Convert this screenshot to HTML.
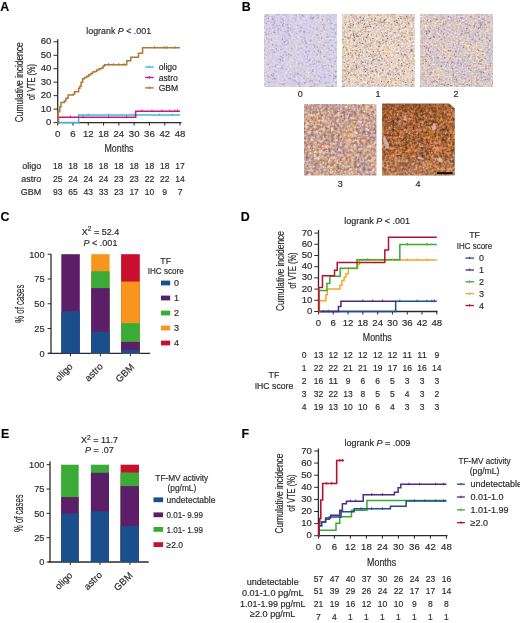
<!DOCTYPE html>
<html><head><meta charset="utf-8"><style>
html,body{margin:0;padding:0;background:#fff;}
svg{display:block;font-family:"Liberation Sans",sans-serif;will-change:transform;}
text{stroke:#2c2c2c;stroke-width:0.18px;}
</style></head><body>
<svg width="520" height="623" viewBox="0 0 520 623">
<defs><filter id="soft" x="-2%" y="-2%" width="104%" height="104%"><feGaussianBlur stdDeviation="0.4"/></filter><linearGradient id="botlight" x1="0" y1="0" x2="0" y2="1"><stop offset="0" stop-color="#e8c8b8" stop-opacity="0"/><stop offset="1" stop-color="#e8c8b8" stop-opacity="0.22"/></linearGradient><linearGradient id="topdark" x1="0" y1="0" x2="0" y2="1"><stop offset="0" stop-color="#6a3010" stop-opacity="0.35"/><stop offset="1" stop-color="#6a3010" stop-opacity="0"/></linearGradient><clipPath id="clip0"><rect x="264" y="14" width="73" height="73"/></clipPath><filter id="tf0" x="264" y="14" width="73" height="73" filterUnits="userSpaceOnUse" color-interpolation-filters="sRGB"><feTurbulence type="fractalNoise" baseFrequency="0.07" numOctaves="2" seed="3" result="lo"/><feColorMatrix in="lo" type="matrix" values="-0.045 -0.000 0 0 0.866 -0.020 -0.000 0 0 0.830 0.045 -0.000 0 0 0.876 0 0 0 0 1" result="A"/><feTurbulence type="fractalNoise" baseFrequency="0.5" numOctaves="2" seed="13" result="hi"/><feColorMatrix in="hi" type="matrix" values="-0.198 -0.045 0 0 0.621 -0.219 -0.020 0 0 0.619 -0.148 0.045 0 0 0.552 0 0 0 0 1" result="B"/><feComposite in="A" in2="B" operator="arithmetic" k1="0" k2="1" k3="1" k4="-0.5" result="C"/><feGaussianBlur in="C" stdDeviation="0.35"/></filter><clipPath id="clip1"><rect x="342" y="14" width="72.8" height="73"/></clipPath><filter id="tf1" x="342" y="14" width="72.8" height="73" filterUnits="userSpaceOnUse" color-interpolation-filters="sRGB"><feTurbulence type="fractalNoise" baseFrequency="0.07" numOctaves="2" seed="4" result="lo"/><feColorMatrix in="lo" type="matrix" values="-0.068 -0.000 0 0 0.936 -0.030 -0.000 0 0 0.846 0.068 -0.000 0 0 0.751 0 0 0 0 1" result="A"/><feTurbulence type="fractalNoise" baseFrequency="0.55" numOctaves="2" seed="14" result="hi"/><feColorMatrix in="hi" type="matrix" values="-0.264 -0.090 0 0 0.677 -0.367 -0.040 0 0 0.704 -0.433 0.090 0 0 0.671 0 0 0 0 1" result="B"/><feComposite in="A" in2="B" operator="arithmetic" k1="0" k2="1" k3="1" k4="-0.5" result="C"/><feGaussianBlur in="C" stdDeviation="0.35"/></filter><clipPath id="clip2"><rect x="420" y="14" width="73" height="73"/></clipPath><filter id="tf2" x="420" y="14" width="73" height="73" filterUnits="userSpaceOnUse" color-interpolation-filters="sRGB"><feTurbulence type="fractalNoise" baseFrequency="0.07" numOctaves="2" seed="5" result="lo"/><feColorMatrix in="lo" type="matrix" values="-0.135 -0.000 0 0 0.922 -0.060 -0.000 0 0 0.822 0.135 -0.000 0 0 0.717 0 0 0 0 1" result="A"/><feTurbulence type="fractalNoise" baseFrequency="0.55" numOctaves="2" seed="15" result="hi"/><feColorMatrix in="hi" type="matrix" values="-0.357 -0.180 0 0 0.768 -0.357 -0.080 0 0 0.718 -0.214 0.180 0 0 0.517 0 0 0 0 1" result="B"/><feComposite in="A" in2="B" operator="arithmetic" k1="0" k2="1" k3="1" k4="-0.5" result="C"/><feGaussianBlur in="C" stdDeviation="0.35"/></filter><clipPath id="clip3"><rect x="304" y="104" width="72.5" height="71.5"/></clipPath><filter id="tf3" x="304" y="104" width="72.5" height="71.5" filterUnits="userSpaceOnUse" color-interpolation-filters="sRGB"><feTurbulence type="fractalNoise" baseFrequency="0.07" numOctaves="2" seed="6" result="lo"/><feColorMatrix in="lo" type="matrix" values="-0.180 -0.118 0 0 0.933 -0.080 -0.095 0 0 0.723 0.180 -0.086 0 0 0.525 0 0 0 0 1" result="A"/><feTurbulence type="fractalNoise" baseFrequency="0.35" numOctaves="2" seed="16" result="hi"/><feColorMatrix in="hi" type="matrix" values="-0.450 -0.203 0 0 0.826 -0.615 -0.090 0 0 0.852 -0.670 0.203 0 0 0.734 0 0 0 0 1" result="B"/><feComposite in="A" in2="B" operator="arithmetic" k1="0" k2="1" k3="1" k4="-0.5" result="C"/><feGaussianBlur in="C" stdDeviation="0.35"/></filter><clipPath id="clip4"><polygon points="382,103.5 449.3,103.5 454.8,108.5 454.8,175.5 382,175.5"/></clipPath><filter id="tf4" x="382" y="103.5" width="72.8" height="72" filterUnits="userSpaceOnUse" color-interpolation-filters="sRGB"><feTurbulence type="fractalNoise" baseFrequency="0.07" numOctaves="2" seed="7" result="lo"/><feColorMatrix in="lo" type="matrix" values="-0.113 -0.395 0 0 0.913 -0.050 -0.240 0 0 0.545 0.113 -0.136 0 0 0.239 0 0 0 0 1" result="A"/><feTurbulence type="fractalNoise" baseFrequency="0.38" numOctaves="2" seed="17" result="hi"/><feColorMatrix in="hi" type="matrix" values="-0.627 -0.158 0 0 0.892 -0.667 -0.070 0 0 0.868 -0.613 0.158 0 0 0.728 0 0 0 0 1" result="B"/><feComposite in="A" in2="B" operator="arithmetic" k1="0" k2="1" k3="1" k4="-0.5" result="C"/><feGaussianBlur in="C" stdDeviation="0.35"/></filter></defs>
<rect width="520" height="623" fill="#fff"/>
<text x="0.3" y="10.6" font-size="12.4" font-weight="bold" fill="#000">A</text>
<text x="86.3" y="33.8" font-size="9" fill="#2c2c2c" textLength="64.8" lengthAdjust="spacingAndGlyphs">logrank <tspan font-style="italic">P</tspan> &lt; .001</text>
<line x1="57.70" y1="39.20" x2="57.70" y2="122.60" stroke="#2a2a2a" stroke-width="1.3"/>
<line x1="53.50" y1="122.60" x2="57.70" y2="122.60" stroke="#2a2a2a" stroke-width="1.0"/>
<text x="51.30" y="125.19" font-size="9.6" text-anchor="end" fill="#2c2c2c" font-weight="normal" >0</text>
<line x1="53.50" y1="109.13" x2="57.70" y2="109.13" stroke="#2a2a2a" stroke-width="1.0"/>
<text x="51.30" y="111.72" font-size="9.6" text-anchor="end" fill="#2c2c2c" font-weight="normal" >10</text>
<line x1="53.50" y1="95.67" x2="57.70" y2="95.67" stroke="#2a2a2a" stroke-width="1.0"/>
<text x="51.30" y="98.26" font-size="9.6" text-anchor="end" fill="#2c2c2c" font-weight="normal" >20</text>
<line x1="53.50" y1="82.20" x2="57.70" y2="82.20" stroke="#2a2a2a" stroke-width="1.0"/>
<text x="51.30" y="84.79" font-size="9.6" text-anchor="end" fill="#2c2c2c" font-weight="normal" >30</text>
<line x1="53.50" y1="68.73" x2="57.70" y2="68.73" stroke="#2a2a2a" stroke-width="1.0"/>
<text x="51.30" y="71.32" font-size="9.6" text-anchor="end" fill="#2c2c2c" font-weight="normal" >40</text>
<line x1="53.50" y1="55.27" x2="57.70" y2="55.27" stroke="#2a2a2a" stroke-width="1.0"/>
<text x="51.30" y="57.86" font-size="9.6" text-anchor="end" fill="#2c2c2c" font-weight="normal" >50</text>
<line x1="53.50" y1="41.80" x2="57.70" y2="41.80" stroke="#2a2a2a" stroke-width="1.0"/>
<text x="51.30" y="44.39" font-size="9.6" text-anchor="end" fill="#2c2c2c" font-weight="normal" >60</text>
<line x1="57.70" y1="122.60" x2="181.50" y2="122.60" stroke="#2a2a2a" stroke-width="1.3"/>
<line x1="57.70" y1="122.60" x2="57.70" y2="125.60" stroke="#2a2a2a" stroke-width="1.0"/>
<text x="57.70" y="137.20" font-size="9.6" text-anchor="middle" fill="#2c2c2c" font-weight="normal" >0</text>
<line x1="72.99" y1="122.60" x2="72.99" y2="125.60" stroke="#2a2a2a" stroke-width="1.0"/>
<text x="72.99" y="137.20" font-size="9.6" text-anchor="middle" fill="#2c2c2c" font-weight="normal" >6</text>
<line x1="88.28" y1="122.60" x2="88.28" y2="125.60" stroke="#2a2a2a" stroke-width="1.0"/>
<text x="88.28" y="137.20" font-size="9.6" text-anchor="middle" fill="#2c2c2c" font-weight="normal" >12</text>
<line x1="103.56" y1="122.60" x2="103.56" y2="125.60" stroke="#2a2a2a" stroke-width="1.0"/>
<text x="103.56" y="137.20" font-size="9.6" text-anchor="middle" fill="#2c2c2c" font-weight="normal" >18</text>
<line x1="118.85" y1="122.60" x2="118.85" y2="125.60" stroke="#2a2a2a" stroke-width="1.0"/>
<text x="118.85" y="137.20" font-size="9.6" text-anchor="middle" fill="#2c2c2c" font-weight="normal" >24</text>
<line x1="134.14" y1="122.60" x2="134.14" y2="125.60" stroke="#2a2a2a" stroke-width="1.0"/>
<text x="134.14" y="137.20" font-size="9.6" text-anchor="middle" fill="#2c2c2c" font-weight="normal" >30</text>
<line x1="149.43" y1="122.60" x2="149.43" y2="125.60" stroke="#2a2a2a" stroke-width="1.0"/>
<text x="149.43" y="137.20" font-size="9.6" text-anchor="middle" fill="#2c2c2c" font-weight="normal" >36</text>
<line x1="164.72" y1="122.60" x2="164.72" y2="125.60" stroke="#2a2a2a" stroke-width="1.0"/>
<text x="164.72" y="137.20" font-size="9.6" text-anchor="middle" fill="#2c2c2c" font-weight="normal" >42</text>
<line x1="180.00" y1="122.60" x2="180.00" y2="125.60" stroke="#2a2a2a" stroke-width="1.0"/>
<text x="180.00" y="137.20" font-size="9.6" text-anchor="middle" fill="#2c2c2c" font-weight="normal" >48</text>
<text transform="translate(23.00,82.30) rotate(-90)" x="0" y="0" font-size="10" text-anchor="middle" fill="#2c2c2c" textLength="80" lengthAdjust="spacingAndGlyphs">Cumulative incidence</text>
<text transform="translate(35.00,82.00) rotate(-90)" x="0" y="0" font-size="10" text-anchor="middle" fill="#2c2c2c" textLength="36" lengthAdjust="spacingAndGlyphs">of VTE (%)</text>
<text x="119.00" y="151.50" font-size="10.5" text-anchor="middle" fill="#2c2c2c" font-weight="normal" textLength="29" lengthAdjust="spacingAndGlyphs" >Months</text>
<path d="M57.70,122.60 H78.59 V115.06 H180.00" fill="none" stroke="#41b6e6" stroke-width="1.5" stroke-linejoin="miter"/>
<path d="M57.70,122.60 H58.46 V117.21 H135.67 V111.15 H180.00" fill="none" stroke="#c81a7e" stroke-width="1.5" stroke-linejoin="miter"/>
<path d="M57.70,122.60 H58.08 V111.83 H59.74 V107.11 H61.01 V102.40 H64.32 V101.05 H65.85 V98.36 H68.15 V94.99 H73.24 V94.32 H74.52 V91.63 H78.59 V88.26 H79.87 V86.24 H81.14 V82.20 H82.67 V78.83 H84.45 V77.49 H86.75 V76.14 H88.79 V74.79 H90.82 V73.45 H92.61 V72.10 H94.65 V71.43 H96.68 V70.08 H98.98 V68.73 H101.27 V68.06 H103.05 V66.04 H104.58 V64.69 H126.75 V60.79 H130.83 V57.15 H138.47 V53.24 H142.55 V47.72 H180.00" fill="none" stroke="#b07830" stroke-width="1.5" stroke-linejoin="miter"/>
<line x1="108.66" y1="63.09" x2="108.66" y2="65.69" stroke="#b07830" stroke-width="1.0"/>
<line x1="113.76" y1="63.09" x2="113.76" y2="65.69" stroke="#b07830" stroke-width="1.0"/>
<line x1="118.85" y1="63.09" x2="118.85" y2="65.69" stroke="#b07830" stroke-width="1.0"/>
<line x1="123.95" y1="63.09" x2="123.95" y2="65.69" stroke="#b07830" stroke-width="1.0"/>
<line x1="154.52" y1="46.12" x2="154.52" y2="48.72" stroke="#b07830" stroke-width="1.0"/>
<line x1="164.21" y1="46.12" x2="164.21" y2="48.72" stroke="#b07830" stroke-width="1.0"/>
<line x1="167.01" y1="46.12" x2="167.01" y2="48.72" stroke="#b07830" stroke-width="1.0"/>
<line x1="174.91" y1="46.12" x2="174.91" y2="48.72" stroke="#b07830" stroke-width="1.0"/>
<line x1="70.44" y1="115.61" x2="70.44" y2="118.21" stroke="#c81a7e" stroke-width="1.0"/>
<line x1="83.18" y1="115.61" x2="83.18" y2="118.21" stroke="#c81a7e" stroke-width="1.0"/>
<line x1="108.66" y1="115.61" x2="108.66" y2="118.21" stroke="#c81a7e" stroke-width="1.0"/>
<line x1="126.50" y1="115.61" x2="126.50" y2="118.21" stroke="#c81a7e" stroke-width="1.0"/>
<line x1="141.78" y1="109.55" x2="141.78" y2="112.15" stroke="#c81a7e" stroke-width="1.0"/>
<line x1="151.98" y1="109.55" x2="151.98" y2="112.15" stroke="#c81a7e" stroke-width="1.0"/>
<line x1="162.17" y1="109.55" x2="162.17" y2="112.15" stroke="#c81a7e" stroke-width="1.0"/>
<line x1="169.81" y1="109.55" x2="169.81" y2="112.15" stroke="#c81a7e" stroke-width="1.0"/>
<line x1="174.91" y1="109.55" x2="174.91" y2="112.15" stroke="#c81a7e" stroke-width="1.0"/>
<line x1="177.46" y1="109.55" x2="177.46" y2="112.15" stroke="#c81a7e" stroke-width="1.0"/>
<line x1="88.28" y1="113.46" x2="88.28" y2="116.06" stroke="#41b6e6" stroke-width="1.0"/>
<line x1="108.66" y1="113.46" x2="108.66" y2="116.06" stroke="#41b6e6" stroke-width="1.0"/>
<line x1="134.14" y1="113.46" x2="134.14" y2="116.06" stroke="#41b6e6" stroke-width="1.0"/>
<line x1="159.62" y1="113.46" x2="159.62" y2="116.06" stroke="#41b6e6" stroke-width="1.0"/>
<line x1="172.36" y1="113.46" x2="172.36" y2="116.06" stroke="#41b6e6" stroke-width="1.0"/>
<line x1="145.20" y1="67.10" x2="153.70" y2="67.10" stroke="#41b6e6" stroke-width="1.4"/>
<line x1="149.40" y1="65.60" x2="149.40" y2="68.10" stroke="#41b6e6" stroke-width="1.0"/>
<text x="158.70" y="70.10" font-size="8.6" text-anchor="start" fill="#2c2c2c" font-weight="normal" >oligo</text>
<line x1="145.20" y1="77.50" x2="153.70" y2="77.50" stroke="#c81a7e" stroke-width="1.4"/>
<line x1="149.40" y1="76.00" x2="149.40" y2="78.50" stroke="#c81a7e" stroke-width="1.0"/>
<text x="158.70" y="80.50" font-size="8.6" text-anchor="start" fill="#2c2c2c" font-weight="normal" >astro</text>
<line x1="145.20" y1="87.90" x2="153.70" y2="87.90" stroke="#b07830" stroke-width="1.4"/>
<line x1="149.40" y1="86.40" x2="149.40" y2="88.90" stroke="#b07830" stroke-width="1.0"/>
<text x="158.70" y="90.90" font-size="8.6" text-anchor="start" fill="#2c2c2c" font-weight="normal" >GBM</text>
<text x="41.30" y="168.80" font-size="9" text-anchor="end" fill="#2c2c2c" font-weight="normal" >oligo</text>
<text x="57.70" y="168.80" font-size="9.4" text-anchor="middle" fill="#2c2c2c" font-weight="normal" textLength="9.5" lengthAdjust="spacingAndGlyphs" >18</text>
<text x="72.99" y="168.80" font-size="9.4" text-anchor="middle" fill="#2c2c2c" font-weight="normal" textLength="9.5" lengthAdjust="spacingAndGlyphs" >18</text>
<text x="88.28" y="168.80" font-size="9.4" text-anchor="middle" fill="#2c2c2c" font-weight="normal" textLength="9.5" lengthAdjust="spacingAndGlyphs" >18</text>
<text x="103.56" y="168.80" font-size="9.4" text-anchor="middle" fill="#2c2c2c" font-weight="normal" textLength="9.5" lengthAdjust="spacingAndGlyphs" >18</text>
<text x="118.85" y="168.80" font-size="9.4" text-anchor="middle" fill="#2c2c2c" font-weight="normal" textLength="9.5" lengthAdjust="spacingAndGlyphs" >18</text>
<text x="134.14" y="168.80" font-size="9.4" text-anchor="middle" fill="#2c2c2c" font-weight="normal" textLength="9.5" lengthAdjust="spacingAndGlyphs" >18</text>
<text x="149.43" y="168.80" font-size="9.4" text-anchor="middle" fill="#2c2c2c" font-weight="normal" textLength="9.5" lengthAdjust="spacingAndGlyphs" >18</text>
<text x="164.72" y="168.80" font-size="9.4" text-anchor="middle" fill="#2c2c2c" font-weight="normal" textLength="9.5" lengthAdjust="spacingAndGlyphs" >18</text>
<text x="180.00" y="168.80" font-size="9.4" text-anchor="middle" fill="#2c2c2c" font-weight="normal" textLength="9.5" lengthAdjust="spacingAndGlyphs" >17</text>
<text x="41.30" y="181.65" font-size="9" text-anchor="end" fill="#2c2c2c" font-weight="normal" >astro</text>
<text x="57.70" y="181.65" font-size="9.4" text-anchor="middle" fill="#2c2c2c" font-weight="normal" textLength="9.5" lengthAdjust="spacingAndGlyphs" >25</text>
<text x="72.99" y="181.65" font-size="9.4" text-anchor="middle" fill="#2c2c2c" font-weight="normal" textLength="9.5" lengthAdjust="spacingAndGlyphs" >24</text>
<text x="88.28" y="181.65" font-size="9.4" text-anchor="middle" fill="#2c2c2c" font-weight="normal" textLength="9.5" lengthAdjust="spacingAndGlyphs" >24</text>
<text x="103.56" y="181.65" font-size="9.4" text-anchor="middle" fill="#2c2c2c" font-weight="normal" textLength="9.5" lengthAdjust="spacingAndGlyphs" >24</text>
<text x="118.85" y="181.65" font-size="9.4" text-anchor="middle" fill="#2c2c2c" font-weight="normal" textLength="9.5" lengthAdjust="spacingAndGlyphs" >23</text>
<text x="134.14" y="181.65" font-size="9.4" text-anchor="middle" fill="#2c2c2c" font-weight="normal" textLength="9.5" lengthAdjust="spacingAndGlyphs" >23</text>
<text x="149.43" y="181.65" font-size="9.4" text-anchor="middle" fill="#2c2c2c" font-weight="normal" textLength="9.5" lengthAdjust="spacingAndGlyphs" >22</text>
<text x="164.72" y="181.65" font-size="9.4" text-anchor="middle" fill="#2c2c2c" font-weight="normal" textLength="9.5" lengthAdjust="spacingAndGlyphs" >22</text>
<text x="180.00" y="181.65" font-size="9.4" text-anchor="middle" fill="#2c2c2c" font-weight="normal" textLength="9.5" lengthAdjust="spacingAndGlyphs" >14</text>
<text x="41.30" y="194.50" font-size="9" text-anchor="end" fill="#2c2c2c" font-weight="normal" >GBM</text>
<text x="57.70" y="194.50" font-size="9.4" text-anchor="middle" fill="#2c2c2c" font-weight="normal" textLength="9.5" lengthAdjust="spacingAndGlyphs" >93</text>
<text x="72.99" y="194.50" font-size="9.4" text-anchor="middle" fill="#2c2c2c" font-weight="normal" textLength="9.5" lengthAdjust="spacingAndGlyphs" >65</text>
<text x="88.28" y="194.50" font-size="9.4" text-anchor="middle" fill="#2c2c2c" font-weight="normal" textLength="9.5" lengthAdjust="spacingAndGlyphs" >43</text>
<text x="103.56" y="194.50" font-size="9.4" text-anchor="middle" fill="#2c2c2c" font-weight="normal" textLength="9.5" lengthAdjust="spacingAndGlyphs" >33</text>
<text x="118.85" y="194.50" font-size="9.4" text-anchor="middle" fill="#2c2c2c" font-weight="normal" textLength="9.5" lengthAdjust="spacingAndGlyphs" >23</text>
<text x="134.14" y="194.50" font-size="9.4" text-anchor="middle" fill="#2c2c2c" font-weight="normal" textLength="9.5" lengthAdjust="spacingAndGlyphs" >17</text>
<text x="149.43" y="194.50" font-size="9.4" text-anchor="middle" fill="#2c2c2c" font-weight="normal" textLength="9.5" lengthAdjust="spacingAndGlyphs" >10</text>
<text x="164.72" y="194.50" font-size="9.4" text-anchor="middle" fill="#2c2c2c" font-weight="normal" textLength="4.75" lengthAdjust="spacingAndGlyphs" >9</text>
<text x="180.00" y="194.50" font-size="9.4" text-anchor="middle" fill="#2c2c2c" font-weight="normal" textLength="4.75" lengthAdjust="spacingAndGlyphs" >7</text>
<text x="241.8" y="10.6" font-size="12.4" font-weight="bold" fill="#000">B</text>
<g clip-path="url(#clip0)"><g filter="url(#soft)"><rect x="264" y="14" width="73" height="73" fill="#fff" filter="url(#tf0)"/><g fill="#958ab6" opacity="0.85"><circle cx="287.6" cy="25.0" r="0.71"/><circle cx="269.3" cy="53.1" r="0.60"/><circle cx="268.2" cy="51.0" r="0.46"/><circle cx="295.7" cy="19.1" r="0.49"/><circle cx="295.0" cy="74.4" r="0.50"/><circle cx="280.3" cy="59.8" r="0.83"/><circle cx="306.1" cy="43.0" r="0.84"/><circle cx="267.4" cy="76.7" r="0.57"/><circle cx="274.5" cy="22.6" r="0.57"/><circle cx="323.6" cy="27.2" r="0.68"/><circle cx="310.6" cy="41.2" r="0.67"/><circle cx="268.6" cy="18.4" r="0.53"/><circle cx="313.7" cy="45.2" r="0.58"/><circle cx="306.7" cy="47.1" r="0.57"/><circle cx="322.0" cy="65.0" r="0.55"/><circle cx="305.9" cy="52.3" r="0.80"/><circle cx="317.2" cy="35.0" r="0.84"/><circle cx="272.6" cy="44.5" r="0.75"/><circle cx="275.1" cy="49.7" r="0.47"/><circle cx="312.8" cy="69.8" r="0.68"/><circle cx="327.9" cy="36.9" r="0.73"/><circle cx="307.4" cy="56.3" r="0.63"/><circle cx="325.3" cy="83.0" r="0.64"/><circle cx="312.5" cy="18.4" r="0.73"/><circle cx="311.2" cy="86.5" r="0.78"/><circle cx="284.8" cy="42.2" r="0.72"/><circle cx="265.6" cy="47.7" r="0.52"/><circle cx="272.5" cy="18.3" r="0.76"/><circle cx="273.4" cy="32.1" r="0.61"/><circle cx="327.6" cy="19.9" r="0.63"/><circle cx="304.1" cy="78.5" r="0.78"/><circle cx="327.1" cy="34.3" r="0.62"/><circle cx="290.2" cy="78.5" r="0.83"/><circle cx="275.0" cy="26.9" r="0.54"/><circle cx="281.0" cy="49.4" r="0.69"/><circle cx="283.2" cy="14.3" r="0.62"/><circle cx="291.0" cy="55.3" r="0.83"/><circle cx="314.4" cy="51.6" r="0.70"/><circle cx="313.4" cy="17.9" r="0.81"/><circle cx="320.9" cy="77.8" r="0.77"/><circle cx="292.6" cy="43.1" r="0.49"/><circle cx="310.3" cy="18.5" r="0.48"/><circle cx="279.2" cy="25.8" r="0.59"/><circle cx="267.8" cy="14.0" r="0.51"/><circle cx="271.4" cy="40.5" r="0.46"/><circle cx="327.8" cy="58.8" r="0.51"/><circle cx="282.4" cy="39.4" r="0.60"/><circle cx="273.0" cy="76.0" r="0.85"/><circle cx="298.0" cy="49.3" r="0.48"/><circle cx="271.5" cy="39.0" r="0.56"/><circle cx="324.5" cy="25.8" r="0.46"/><circle cx="333.4" cy="52.6" r="0.51"/><circle cx="303.7" cy="16.0" r="0.66"/><circle cx="335.4" cy="77.0" r="0.73"/><circle cx="283.1" cy="40.8" r="0.52"/><circle cx="320.4" cy="52.9" r="0.76"/><circle cx="288.1" cy="30.3" r="0.77"/><circle cx="335.9" cy="76.2" r="0.77"/><circle cx="323.7" cy="68.0" r="0.54"/><circle cx="301.8" cy="40.0" r="0.46"/><circle cx="266.0" cy="34.4" r="0.55"/><circle cx="314.6" cy="83.8" r="0.63"/><circle cx="332.4" cy="86.1" r="0.83"/><circle cx="290.6" cy="30.1" r="0.54"/><circle cx="278.4" cy="28.9" r="0.70"/><circle cx="329.7" cy="75.4" r="0.64"/><circle cx="311.7" cy="72.4" r="0.48"/><circle cx="312.2" cy="80.4" r="0.76"/><circle cx="318.8" cy="48.9" r="0.52"/><circle cx="321.6" cy="38.3" r="0.77"/><circle cx="334.9" cy="42.9" r="0.61"/><circle cx="333.1" cy="66.9" r="0.52"/><circle cx="273.3" cy="25.0" r="0.81"/><circle cx="322.9" cy="24.7" r="0.78"/><circle cx="335.6" cy="62.0" r="0.59"/><circle cx="304.1" cy="23.6" r="0.46"/><circle cx="334.9" cy="61.4" r="0.66"/><circle cx="332.2" cy="45.7" r="0.80"/><circle cx="324.3" cy="29.4" r="0.55"/><circle cx="285.4" cy="31.6" r="0.68"/><circle cx="282.9" cy="44.6" r="0.50"/><circle cx="330.4" cy="39.8" r="0.63"/><circle cx="306.6" cy="80.0" r="0.62"/><circle cx="331.0" cy="50.6" r="0.66"/><circle cx="302.2" cy="15.4" r="0.63"/><circle cx="277.4" cy="14.3" r="0.77"/><circle cx="276.6" cy="48.6" r="0.74"/><circle cx="304.6" cy="37.8" r="0.66"/><circle cx="304.5" cy="71.3" r="0.49"/><circle cx="304.9" cy="32.1" r="0.56"/><circle cx="320.4" cy="51.1" r="0.67"/><circle cx="319.5" cy="80.6" r="0.63"/><circle cx="308.7" cy="50.9" r="0.65"/><circle cx="314.6" cy="47.0" r="0.66"/><circle cx="298.9" cy="82.7" r="0.73"/><circle cx="328.0" cy="82.8" r="0.55"/><circle cx="304.8" cy="82.9" r="0.79"/><circle cx="274.0" cy="22.9" r="0.63"/><circle cx="269.3" cy="31.6" r="0.48"/><circle cx="312.9" cy="71.2" r="0.81"/><circle cx="275.3" cy="66.3" r="0.71"/><circle cx="274.4" cy="78.4" r="0.84"/><circle cx="280.0" cy="83.5" r="0.61"/><circle cx="299.6" cy="86.3" r="0.78"/><circle cx="275.8" cy="45.5" r="0.66"/><circle cx="288.8" cy="28.3" r="0.58"/><circle cx="316.7" cy="15.4" r="0.67"/><circle cx="296.2" cy="15.3" r="0.58"/><circle cx="309.5" cy="51.4" r="0.48"/><circle cx="335.9" cy="71.6" r="0.84"/><circle cx="271.6" cy="33.4" r="0.47"/><circle cx="320.9" cy="33.7" r="0.50"/><circle cx="294.8" cy="80.5" r="0.78"/><circle cx="282.9" cy="24.9" r="0.82"/><circle cx="305.7" cy="65.1" r="0.49"/><circle cx="268.2" cy="64.2" r="0.62"/><circle cx="269.3" cy="82.5" r="0.70"/><circle cx="322.5" cy="20.1" r="0.79"/><circle cx="268.9" cy="77.0" r="0.63"/><circle cx="288.8" cy="54.4" r="0.82"/><circle cx="283.6" cy="23.4" r="0.66"/><circle cx="281.4" cy="22.0" r="0.51"/><circle cx="267.7" cy="28.7" r="0.57"/><circle cx="286.3" cy="69.4" r="0.57"/><circle cx="300.5" cy="27.0" r="0.59"/><circle cx="265.3" cy="32.3" r="0.46"/><circle cx="317.5" cy="54.2" r="0.53"/><circle cx="298.7" cy="82.2" r="0.49"/><circle cx="323.8" cy="45.5" r="0.65"/><circle cx="324.9" cy="42.7" r="0.65"/><circle cx="314.2" cy="85.7" r="0.59"/><circle cx="324.8" cy="65.6" r="0.70"/><circle cx="293.5" cy="39.4" r="0.47"/><circle cx="273.5" cy="19.2" r="0.75"/><circle cx="282.7" cy="25.9" r="0.48"/><circle cx="325.4" cy="77.5" r="0.72"/><circle cx="284.6" cy="31.7" r="0.57"/><circle cx="297.5" cy="25.5" r="0.63"/><circle cx="283.2" cy="84.2" r="0.84"/><circle cx="303.9" cy="31.8" r="0.84"/><circle cx="286.6" cy="40.0" r="0.45"/><circle cx="291.9" cy="48.6" r="0.65"/><circle cx="278.7" cy="50.8" r="0.45"/><circle cx="283.3" cy="20.6" r="0.61"/><circle cx="267.0" cy="15.6" r="0.57"/><circle cx="281.0" cy="56.7" r="0.66"/><circle cx="318.8" cy="62.0" r="0.74"/><circle cx="328.2" cy="42.4" r="0.58"/><circle cx="335.9" cy="24.9" r="0.74"/><circle cx="311.0" cy="17.2" r="0.78"/><circle cx="329.1" cy="59.8" r="0.74"/><circle cx="323.3" cy="24.2" r="0.66"/><circle cx="300.8" cy="75.0" r="0.77"/><circle cx="324.3" cy="56.6" r="0.81"/><circle cx="313.9" cy="64.6" r="0.54"/><circle cx="266.3" cy="23.7" r="0.59"/><circle cx="271.7" cy="75.0" r="0.67"/><circle cx="309.8" cy="59.7" r="0.72"/><circle cx="299.7" cy="14.2" r="0.77"/><circle cx="318.6" cy="50.7" r="0.66"/><circle cx="312.1" cy="18.8" r="0.74"/><circle cx="282.4" cy="19.4" r="0.56"/><circle cx="317.2" cy="29.0" r="0.75"/><circle cx="335.2" cy="50.1" r="0.60"/><circle cx="299.0" cy="63.9" r="0.76"/><circle cx="309.0" cy="60.9" r="0.48"/><circle cx="274.8" cy="32.5" r="0.75"/><circle cx="286.2" cy="55.4" r="0.45"/><circle cx="268.4" cy="33.6" r="0.72"/><circle cx="314.5" cy="63.3" r="0.57"/><circle cx="301.7" cy="47.9" r="0.64"/><circle cx="272.7" cy="79.2" r="0.53"/><circle cx="335.4" cy="82.3" r="0.46"/><circle cx="297.5" cy="73.9" r="0.84"/><circle cx="296.8" cy="33.6" r="0.53"/><circle cx="333.0" cy="29.4" r="0.68"/><circle cx="274.3" cy="52.3" r="0.83"/><circle cx="273.7" cy="73.9" r="0.65"/><circle cx="328.7" cy="65.3" r="0.54"/><circle cx="329.5" cy="49.5" r="0.46"/><circle cx="264.3" cy="49.9" r="0.63"/><circle cx="286.0" cy="24.3" r="0.59"/><circle cx="287.1" cy="75.3" r="0.45"/><circle cx="318.8" cy="75.3" r="0.50"/><circle cx="331.6" cy="66.1" r="0.81"/><circle cx="285.2" cy="41.2" r="0.61"/><circle cx="336.9" cy="57.0" r="0.59"/><circle cx="295.2" cy="34.1" r="0.47"/><circle cx="271.4" cy="74.9" r="0.56"/><circle cx="332.3" cy="32.2" r="0.56"/><circle cx="301.3" cy="27.9" r="0.60"/><circle cx="333.8" cy="78.6" r="0.77"/><circle cx="310.1" cy="80.7" r="0.83"/><circle cx="304.1" cy="66.5" r="0.47"/><circle cx="317.5" cy="46.9" r="0.75"/><circle cx="311.0" cy="34.9" r="0.47"/><circle cx="331.7" cy="23.3" r="0.64"/><circle cx="289.1" cy="35.7" r="0.75"/><circle cx="335.3" cy="33.0" r="0.71"/><circle cx="286.0" cy="54.7" r="0.61"/></g><g fill="#bcb2d2" opacity="0.85"><circle cx="276.2" cy="25.8" r="0.60"/><circle cx="330.1" cy="50.3" r="0.61"/><circle cx="330.2" cy="86.7" r="0.72"/><circle cx="274.2" cy="28.0" r="0.55"/><circle cx="289.0" cy="20.6" r="0.62"/><circle cx="282.9" cy="55.6" r="0.94"/><circle cx="318.7" cy="44.1" r="0.71"/><circle cx="302.3" cy="41.5" r="0.67"/><circle cx="268.5" cy="34.3" r="0.98"/><circle cx="273.2" cy="50.7" r="0.81"/><circle cx="327.0" cy="29.8" r="0.64"/><circle cx="282.1" cy="43.2" r="0.72"/><circle cx="333.6" cy="76.0" r="0.94"/><circle cx="265.6" cy="16.4" r="0.85"/><circle cx="329.4" cy="48.5" r="0.79"/><circle cx="264.0" cy="42.6" r="0.96"/><circle cx="324.3" cy="76.4" r="0.99"/><circle cx="282.1" cy="22.0" r="0.58"/><circle cx="302.1" cy="63.8" r="0.97"/><circle cx="316.7" cy="61.3" r="0.88"/><circle cx="297.4" cy="54.3" r="0.52"/><circle cx="321.1" cy="31.0" r="0.96"/><circle cx="311.1" cy="36.2" r="0.56"/><circle cx="282.4" cy="60.4" r="0.85"/><circle cx="272.2" cy="19.1" r="0.76"/><circle cx="306.6" cy="42.3" r="0.61"/><circle cx="307.9" cy="14.8" r="0.65"/><circle cx="297.6" cy="84.0" r="0.82"/><circle cx="328.5" cy="48.7" r="0.62"/><circle cx="282.0" cy="84.1" r="0.85"/><circle cx="286.4" cy="15.6" r="0.75"/><circle cx="313.2" cy="44.7" r="0.63"/><circle cx="312.7" cy="81.5" r="0.61"/><circle cx="266.5" cy="38.7" r="0.71"/><circle cx="313.8" cy="28.5" r="0.90"/><circle cx="318.0" cy="50.9" r="0.60"/><circle cx="334.8" cy="36.8" r="0.91"/><circle cx="280.8" cy="30.2" r="0.88"/><circle cx="285.5" cy="83.5" r="0.75"/><circle cx="277.7" cy="30.3" r="0.71"/><circle cx="312.6" cy="83.3" r="0.57"/><circle cx="292.7" cy="29.5" r="0.99"/><circle cx="274.4" cy="17.8" r="0.53"/><circle cx="292.7" cy="79.6" r="0.94"/><circle cx="317.5" cy="86.8" r="0.97"/><circle cx="288.0" cy="27.5" r="0.97"/><circle cx="318.5" cy="16.3" r="0.83"/><circle cx="291.6" cy="41.3" r="0.67"/><circle cx="276.4" cy="14.2" r="0.64"/><circle cx="289.7" cy="83.8" r="0.56"/><circle cx="334.4" cy="29.1" r="0.68"/><circle cx="324.0" cy="74.0" r="0.72"/><circle cx="267.6" cy="48.6" r="0.69"/><circle cx="331.1" cy="28.1" r="0.68"/><circle cx="329.5" cy="16.2" r="0.71"/><circle cx="323.3" cy="70.0" r="0.52"/><circle cx="266.5" cy="18.6" r="0.96"/><circle cx="282.8" cy="68.6" r="0.95"/><circle cx="288.8" cy="33.9" r="0.98"/><circle cx="309.0" cy="33.1" r="0.86"/><circle cx="287.1" cy="34.1" r="0.50"/><circle cx="319.2" cy="80.9" r="0.82"/><circle cx="332.9" cy="15.8" r="0.62"/><circle cx="298.7" cy="83.8" r="0.98"/><circle cx="292.2" cy="32.3" r="0.71"/><circle cx="300.0" cy="81.8" r="0.59"/><circle cx="322.6" cy="67.9" r="0.91"/><circle cx="320.4" cy="58.3" r="0.66"/><circle cx="287.3" cy="40.4" r="0.89"/><circle cx="269.8" cy="28.4" r="0.88"/><circle cx="282.1" cy="18.7" r="0.52"/><circle cx="304.3" cy="37.8" r="0.99"/><circle cx="328.5" cy="86.1" r="0.63"/><circle cx="270.1" cy="21.0" r="0.75"/><circle cx="315.8" cy="46.6" r="0.62"/><circle cx="294.4" cy="59.3" r="0.84"/><circle cx="318.6" cy="75.8" r="0.83"/><circle cx="272.8" cy="75.4" r="0.65"/><circle cx="305.4" cy="41.2" r="0.87"/><circle cx="278.5" cy="32.1" r="0.62"/><circle cx="275.2" cy="78.5" r="0.79"/><circle cx="287.8" cy="42.9" r="1.00"/><circle cx="301.0" cy="30.9" r="0.90"/><circle cx="311.7" cy="86.3" r="0.55"/><circle cx="298.7" cy="73.8" r="0.92"/><circle cx="330.7" cy="16.9" r="0.65"/><circle cx="272.7" cy="27.8" r="0.99"/><circle cx="306.6" cy="81.9" r="0.69"/><circle cx="327.2" cy="46.8" r="0.63"/><circle cx="320.8" cy="83.0" r="0.55"/><circle cx="307.5" cy="59.3" r="0.61"/><circle cx="290.9" cy="24.3" r="0.60"/><circle cx="282.6" cy="57.8" r="0.83"/><circle cx="278.9" cy="14.8" r="0.66"/><circle cx="313.5" cy="27.5" r="0.66"/><circle cx="278.8" cy="72.1" r="0.77"/><circle cx="268.6" cy="21.4" r="0.70"/><circle cx="304.2" cy="60.7" r="0.55"/><circle cx="275.9" cy="64.8" r="0.70"/><circle cx="284.7" cy="36.5" r="0.98"/><circle cx="286.8" cy="55.4" r="0.68"/><circle cx="294.4" cy="77.1" r="1.00"/><circle cx="290.6" cy="28.4" r="0.86"/><circle cx="278.9" cy="14.4" r="0.95"/><circle cx="294.9" cy="73.9" r="0.70"/><circle cx="328.4" cy="47.6" r="0.58"/><circle cx="265.1" cy="54.3" r="0.82"/><circle cx="330.4" cy="20.5" r="0.81"/><circle cx="291.1" cy="50.8" r="0.57"/><circle cx="284.7" cy="52.0" r="0.96"/><circle cx="271.9" cy="49.8" r="0.90"/><circle cx="334.6" cy="28.4" r="0.56"/><circle cx="332.8" cy="85.2" r="0.74"/><circle cx="267.9" cy="81.6" r="0.69"/><circle cx="330.0" cy="59.3" r="0.91"/><circle cx="275.7" cy="71.4" r="0.61"/><circle cx="293.5" cy="75.8" r="0.91"/><circle cx="277.4" cy="29.9" r="0.70"/><circle cx="301.8" cy="42.0" r="0.56"/><circle cx="282.0" cy="66.9" r="0.95"/><circle cx="267.0" cy="55.1" r="0.88"/><circle cx="266.8" cy="75.2" r="0.56"/><circle cx="307.8" cy="54.2" r="0.81"/><circle cx="286.4" cy="44.7" r="0.79"/><circle cx="295.1" cy="62.1" r="0.72"/><circle cx="296.0" cy="15.7" r="0.81"/><circle cx="299.7" cy="31.2" r="0.88"/><circle cx="320.9" cy="47.5" r="0.59"/><circle cx="298.5" cy="21.8" r="0.56"/><circle cx="295.4" cy="20.7" r="0.72"/><circle cx="301.2" cy="17.0" r="0.82"/><circle cx="270.0" cy="67.5" r="0.89"/><circle cx="301.3" cy="18.0" r="0.75"/><circle cx="291.6" cy="83.4" r="0.57"/><circle cx="326.6" cy="86.7" r="0.87"/><circle cx="323.5" cy="28.1" r="0.99"/><circle cx="299.9" cy="83.8" r="0.96"/><circle cx="276.1" cy="71.6" r="0.97"/><circle cx="268.8" cy="39.6" r="0.88"/><circle cx="275.6" cy="79.4" r="0.64"/><circle cx="323.5" cy="24.5" r="0.75"/><circle cx="331.2" cy="29.2" r="0.63"/><circle cx="300.9" cy="37.3" r="0.52"/><circle cx="277.3" cy="25.8" r="0.97"/><circle cx="313.6" cy="79.4" r="0.58"/><circle cx="321.3" cy="22.4" r="0.77"/><circle cx="310.5" cy="40.3" r="0.94"/><circle cx="304.5" cy="56.3" r="0.94"/><circle cx="271.6" cy="86.5" r="0.81"/><circle cx="292.8" cy="72.2" r="0.63"/><circle cx="336.3" cy="56.1" r="0.68"/><circle cx="319.8" cy="46.3" r="0.59"/><circle cx="318.3" cy="17.5" r="0.91"/><circle cx="282.5" cy="60.7" r="0.99"/><circle cx="306.8" cy="62.4" r="0.66"/><circle cx="264.1" cy="16.5" r="0.57"/><circle cx="309.0" cy="45.6" r="0.76"/><circle cx="329.4" cy="23.6" r="0.61"/><circle cx="311.7" cy="15.6" r="0.50"/><circle cx="289.9" cy="21.8" r="0.68"/><circle cx="280.4" cy="56.6" r="0.79"/><circle cx="278.9" cy="59.5" r="0.74"/><circle cx="273.8" cy="82.4" r="0.62"/><circle cx="274.9" cy="21.0" r="0.82"/><circle cx="327.6" cy="71.1" r="0.70"/><circle cx="283.3" cy="14.8" r="0.82"/><circle cx="305.1" cy="39.6" r="0.82"/><circle cx="296.4" cy="82.4" r="0.87"/><circle cx="282.1" cy="80.0" r="0.52"/><circle cx="302.8" cy="43.6" r="0.62"/><circle cx="268.3" cy="70.9" r="0.51"/><circle cx="304.2" cy="82.7" r="0.57"/><circle cx="278.6" cy="58.4" r="0.75"/><circle cx="310.8" cy="73.4" r="0.59"/><circle cx="286.6" cy="35.9" r="0.52"/><circle cx="328.9" cy="71.2" r="0.86"/><circle cx="264.5" cy="75.6" r="0.87"/><circle cx="298.0" cy="68.1" r="0.73"/><circle cx="280.5" cy="21.7" r="0.62"/><circle cx="266.8" cy="38.5" r="0.87"/><circle cx="314.7" cy="75.7" r="0.86"/><circle cx="283.4" cy="54.4" r="0.72"/><circle cx="321.6" cy="52.2" r="0.63"/><circle cx="310.9" cy="84.5" r="0.61"/><circle cx="328.2" cy="15.1" r="0.63"/><circle cx="281.2" cy="68.3" r="0.97"/><circle cx="318.5" cy="37.9" r="0.94"/><circle cx="288.0" cy="31.5" r="0.95"/><circle cx="310.0" cy="64.6" r="0.83"/><circle cx="335.5" cy="48.3" r="0.92"/><circle cx="314.9" cy="76.6" r="0.72"/><circle cx="316.9" cy="55.6" r="0.65"/><circle cx="279.5" cy="59.5" r="0.54"/><circle cx="330.5" cy="24.6" r="0.51"/><circle cx="271.8" cy="81.8" r="0.67"/><circle cx="274.4" cy="16.1" r="0.52"/><circle cx="314.6" cy="60.3" r="0.85"/><circle cx="317.8" cy="18.8" r="0.80"/><circle cx="290.5" cy="73.7" r="0.91"/><circle cx="329.1" cy="18.8" r="0.93"/></g></g></g>
<g clip-path="url(#clip1)"><g filter="url(#soft)"><rect x="342" y="14" width="72.8" height="73" fill="#fff" filter="url(#tf1)"/><g fill="#d6ac88" opacity="0.85"><circle cx="408.6" cy="82.9" r="0.56"/><circle cx="357.0" cy="22.2" r="0.52"/><circle cx="403.7" cy="73.3" r="0.88"/><circle cx="402.1" cy="60.1" r="0.67"/><circle cx="349.3" cy="21.1" r="0.95"/><circle cx="356.9" cy="37.3" r="0.75"/><circle cx="343.5" cy="32.7" r="0.67"/><circle cx="394.1" cy="40.9" r="0.69"/><circle cx="412.2" cy="50.8" r="1.01"/><circle cx="387.0" cy="16.3" r="0.75"/><circle cx="373.8" cy="70.4" r="0.71"/><circle cx="393.3" cy="53.3" r="0.63"/><circle cx="404.8" cy="20.6" r="0.99"/><circle cx="354.4" cy="14.1" r="0.62"/><circle cx="397.5" cy="85.4" r="0.50"/><circle cx="377.7" cy="49.9" r="0.98"/><circle cx="355.4" cy="50.1" r="0.71"/><circle cx="402.6" cy="33.0" r="1.07"/><circle cx="362.7" cy="29.7" r="0.92"/><circle cx="378.3" cy="22.0" r="0.88"/><circle cx="347.9" cy="71.5" r="0.92"/><circle cx="399.3" cy="59.8" r="0.71"/><circle cx="371.2" cy="42.8" r="1.03"/><circle cx="348.3" cy="78.9" r="0.52"/><circle cx="357.0" cy="33.2" r="1.04"/><circle cx="378.5" cy="41.7" r="1.03"/><circle cx="359.0" cy="47.6" r="0.82"/><circle cx="396.9" cy="69.0" r="0.89"/><circle cx="367.4" cy="37.8" r="0.59"/><circle cx="403.4" cy="62.3" r="0.95"/><circle cx="354.3" cy="46.0" r="0.96"/><circle cx="384.2" cy="23.2" r="0.78"/><circle cx="406.4" cy="31.4" r="0.61"/><circle cx="363.9" cy="65.3" r="1.01"/><circle cx="353.3" cy="25.4" r="0.65"/><circle cx="365.8" cy="52.1" r="0.60"/><circle cx="365.9" cy="27.8" r="1.09"/><circle cx="395.1" cy="21.4" r="1.08"/><circle cx="349.4" cy="42.0" r="1.09"/><circle cx="399.9" cy="67.5" r="0.76"/><circle cx="356.3" cy="60.6" r="0.56"/><circle cx="357.0" cy="42.3" r="0.52"/><circle cx="371.0" cy="71.7" r="0.92"/><circle cx="378.4" cy="60.2" r="0.78"/><circle cx="352.3" cy="58.1" r="0.74"/><circle cx="395.9" cy="80.3" r="0.76"/><circle cx="383.8" cy="68.7" r="0.75"/><circle cx="358.6" cy="66.7" r="1.03"/><circle cx="398.4" cy="65.1" r="1.01"/><circle cx="391.5" cy="60.8" r="0.77"/><circle cx="364.8" cy="59.9" r="0.56"/><circle cx="372.5" cy="71.1" r="0.93"/><circle cx="387.8" cy="32.3" r="0.75"/><circle cx="375.1" cy="59.4" r="0.75"/><circle cx="391.2" cy="81.9" r="0.61"/><circle cx="389.6" cy="70.8" r="0.73"/><circle cx="377.7" cy="85.1" r="0.52"/><circle cx="381.6" cy="25.7" r="0.97"/><circle cx="410.5" cy="51.9" r="0.56"/><circle cx="383.8" cy="53.5" r="0.93"/><circle cx="379.3" cy="60.7" r="1.00"/><circle cx="380.0" cy="44.0" r="1.07"/><circle cx="357.3" cy="64.0" r="0.74"/><circle cx="397.5" cy="22.9" r="1.09"/><circle cx="367.9" cy="18.1" r="0.66"/><circle cx="371.1" cy="15.0" r="0.75"/><circle cx="372.6" cy="65.0" r="0.71"/><circle cx="361.3" cy="30.4" r="0.94"/><circle cx="410.4" cy="52.5" r="0.63"/><circle cx="400.3" cy="42.6" r="0.63"/><circle cx="351.4" cy="70.7" r="0.99"/><circle cx="388.2" cy="48.2" r="0.84"/><circle cx="358.5" cy="84.4" r="0.71"/><circle cx="388.5" cy="73.8" r="0.99"/><circle cx="376.1" cy="35.5" r="0.83"/><circle cx="351.1" cy="74.9" r="0.71"/><circle cx="403.9" cy="33.5" r="0.73"/><circle cx="360.5" cy="45.1" r="0.61"/><circle cx="342.2" cy="66.7" r="0.67"/><circle cx="359.8" cy="36.0" r="0.79"/><circle cx="373.2" cy="60.5" r="0.90"/><circle cx="368.4" cy="81.8" r="1.01"/><circle cx="346.2" cy="74.4" r="1.04"/><circle cx="399.1" cy="24.2" r="1.00"/><circle cx="388.1" cy="15.1" r="0.51"/><circle cx="411.3" cy="61.9" r="0.65"/><circle cx="349.4" cy="24.4" r="0.64"/><circle cx="398.5" cy="39.3" r="0.59"/><circle cx="407.8" cy="71.8" r="0.60"/><circle cx="406.9" cy="58.4" r="0.97"/><circle cx="390.7" cy="79.3" r="0.97"/><circle cx="403.1" cy="28.4" r="0.92"/><circle cx="380.6" cy="68.2" r="0.76"/><circle cx="406.3" cy="54.5" r="0.66"/><circle cx="359.0" cy="24.2" r="0.80"/><circle cx="346.3" cy="48.1" r="0.59"/><circle cx="377.8" cy="50.4" r="0.82"/><circle cx="404.8" cy="14.5" r="1.00"/><circle cx="376.1" cy="55.1" r="0.90"/><circle cx="403.2" cy="41.4" r="0.75"/><circle cx="411.9" cy="19.5" r="0.88"/><circle cx="388.3" cy="16.1" r="0.87"/><circle cx="391.7" cy="82.0" r="0.70"/><circle cx="413.5" cy="51.3" r="0.79"/><circle cx="407.3" cy="16.5" r="0.93"/><circle cx="387.5" cy="38.7" r="1.02"/><circle cx="368.7" cy="48.6" r="0.82"/><circle cx="398.1" cy="29.4" r="0.76"/><circle cx="372.7" cy="54.4" r="1.00"/><circle cx="363.3" cy="74.4" r="0.74"/><circle cx="378.7" cy="33.8" r="0.80"/><circle cx="413.0" cy="61.8" r="0.98"/><circle cx="366.1" cy="37.1" r="0.68"/><circle cx="384.7" cy="60.3" r="0.97"/><circle cx="344.9" cy="66.8" r="1.03"/><circle cx="381.7" cy="17.6" r="0.68"/><circle cx="342.5" cy="27.9" r="1.05"/><circle cx="386.3" cy="62.0" r="0.97"/><circle cx="408.2" cy="58.7" r="0.87"/><circle cx="387.6" cy="64.8" r="0.86"/><circle cx="391.6" cy="29.5" r="0.90"/><circle cx="375.3" cy="69.7" r="0.56"/><circle cx="355.2" cy="16.7" r="0.96"/><circle cx="408.5" cy="61.9" r="0.72"/><circle cx="401.9" cy="71.4" r="0.84"/><circle cx="360.8" cy="36.0" r="0.75"/><circle cx="365.2" cy="45.4" r="0.89"/><circle cx="410.0" cy="18.0" r="0.84"/><circle cx="344.9" cy="22.7" r="0.99"/><circle cx="383.9" cy="81.1" r="0.77"/><circle cx="343.0" cy="42.3" r="0.86"/><circle cx="410.3" cy="85.6" r="0.79"/><circle cx="372.0" cy="21.4" r="0.89"/><circle cx="357.5" cy="25.1" r="0.51"/><circle cx="342.3" cy="63.9" r="0.57"/><circle cx="412.4" cy="20.4" r="1.02"/><circle cx="351.4" cy="15.3" r="0.93"/><circle cx="359.6" cy="67.5" r="0.61"/><circle cx="345.7" cy="70.5" r="0.93"/><circle cx="404.3" cy="67.3" r="0.55"/><circle cx="387.8" cy="65.8" r="0.78"/><circle cx="409.9" cy="32.5" r="1.08"/><circle cx="394.2" cy="14.8" r="0.51"/><circle cx="389.4" cy="73.7" r="0.55"/><circle cx="364.6" cy="67.2" r="0.60"/><circle cx="404.7" cy="49.5" r="0.54"/><circle cx="368.8" cy="56.0" r="0.76"/><circle cx="391.3" cy="24.6" r="0.98"/><circle cx="368.4" cy="61.1" r="0.88"/><circle cx="372.4" cy="42.2" r="0.97"/><circle cx="410.8" cy="71.3" r="0.84"/><circle cx="363.3" cy="18.4" r="1.08"/><circle cx="393.2" cy="74.4" r="0.70"/><circle cx="386.1" cy="85.4" r="1.00"/><circle cx="385.8" cy="36.5" r="0.76"/><circle cx="406.7" cy="41.5" r="0.91"/><circle cx="385.8" cy="79.4" r="0.98"/><circle cx="362.6" cy="14.1" r="0.66"/><circle cx="372.8" cy="56.8" r="0.99"/><circle cx="406.6" cy="17.1" r="1.00"/><circle cx="401.1" cy="77.3" r="0.84"/><circle cx="361.9" cy="76.1" r="0.98"/><circle cx="391.8" cy="80.7" r="0.71"/><circle cx="348.2" cy="54.4" r="0.98"/><circle cx="356.6" cy="68.8" r="1.06"/><circle cx="359.0" cy="58.3" r="0.91"/><circle cx="375.9" cy="29.1" r="0.65"/><circle cx="396.7" cy="71.8" r="0.78"/><circle cx="348.4" cy="72.9" r="0.96"/><circle cx="359.0" cy="56.3" r="1.04"/><circle cx="406.4" cy="52.1" r="0.79"/><circle cx="384.9" cy="27.8" r="0.62"/><circle cx="355.2" cy="65.2" r="0.72"/><circle cx="383.1" cy="43.4" r="0.81"/><circle cx="352.8" cy="17.3" r="1.10"/><circle cx="369.2" cy="21.7" r="0.88"/><circle cx="399.3" cy="25.4" r="0.86"/><circle cx="367.1" cy="51.9" r="0.51"/><circle cx="344.4" cy="86.3" r="1.02"/><circle cx="377.4" cy="55.4" r="0.66"/><circle cx="398.7" cy="45.1" r="1.07"/><circle cx="397.9" cy="73.8" r="1.08"/><circle cx="360.5" cy="16.8" r="0.62"/><circle cx="355.2" cy="20.1" r="0.53"/><circle cx="382.6" cy="77.6" r="0.77"/><circle cx="411.0" cy="80.4" r="0.54"/><circle cx="385.5" cy="43.0" r="0.57"/><circle cx="411.8" cy="32.8" r="0.84"/><circle cx="388.6" cy="83.8" r="0.90"/><circle cx="370.6" cy="46.7" r="0.60"/><circle cx="412.3" cy="86.4" r="0.63"/><circle cx="344.8" cy="32.7" r="0.71"/><circle cx="407.7" cy="80.0" r="1.00"/><circle cx="345.4" cy="71.4" r="0.93"/><circle cx="389.1" cy="85.9" r="0.53"/><circle cx="352.5" cy="69.1" r="1.06"/><circle cx="391.3" cy="35.8" r="0.85"/><circle cx="397.2" cy="21.7" r="0.69"/><circle cx="360.7" cy="23.1" r="0.79"/><circle cx="354.3" cy="31.4" r="0.59"/><circle cx="391.3" cy="14.9" r="0.93"/><circle cx="356.2" cy="16.6" r="1.06"/><circle cx="358.1" cy="82.2" r="1.02"/><circle cx="406.7" cy="24.2" r="0.77"/><circle cx="349.1" cy="81.8" r="1.01"/><circle cx="387.7" cy="47.0" r="0.70"/><circle cx="401.9" cy="48.9" r="0.88"/><circle cx="352.4" cy="30.2" r="0.53"/><circle cx="394.0" cy="54.4" r="0.59"/><circle cx="405.4" cy="33.4" r="0.75"/><circle cx="353.3" cy="33.8" r="1.00"/><circle cx="366.4" cy="26.2" r="0.79"/><circle cx="365.2" cy="79.9" r="0.57"/><circle cx="413.2" cy="18.2" r="1.04"/><circle cx="390.7" cy="29.4" r="0.79"/><circle cx="362.8" cy="32.8" r="0.62"/><circle cx="368.5" cy="86.3" r="1.10"/><circle cx="409.3" cy="21.1" r="0.67"/><circle cx="407.2" cy="18.2" r="0.94"/><circle cx="363.4" cy="85.4" r="0.51"/><circle cx="400.8" cy="38.9" r="0.58"/><circle cx="342.1" cy="74.8" r="0.82"/><circle cx="355.5" cy="45.8" r="1.05"/><circle cx="357.9" cy="55.7" r="0.58"/><circle cx="355.1" cy="70.2" r="0.93"/><circle cx="356.3" cy="19.8" r="0.55"/><circle cx="386.3" cy="50.2" r="0.66"/><circle cx="357.0" cy="58.7" r="0.92"/><circle cx="401.1" cy="56.6" r="0.62"/><circle cx="346.8" cy="67.5" r="0.74"/><circle cx="394.5" cy="18.0" r="0.99"/><circle cx="366.4" cy="75.5" r="1.02"/><circle cx="377.9" cy="15.1" r="1.05"/><circle cx="376.7" cy="77.7" r="0.66"/><circle cx="355.5" cy="74.7" r="0.72"/><circle cx="353.9" cy="41.1" r="0.86"/><circle cx="342.3" cy="51.9" r="0.77"/><circle cx="379.5" cy="22.8" r="0.93"/><circle cx="401.4" cy="77.2" r="0.69"/><circle cx="393.8" cy="41.8" r="0.95"/><circle cx="346.5" cy="77.7" r="1.07"/><circle cx="378.0" cy="51.5" r="0.82"/><circle cx="381.1" cy="15.5" r="1.08"/><circle cx="358.3" cy="27.3" r="0.56"/><circle cx="360.2" cy="73.7" r="0.52"/><circle cx="349.0" cy="65.0" r="0.62"/><circle cx="343.3" cy="57.8" r="0.85"/><circle cx="380.1" cy="65.3" r="0.56"/><circle cx="405.3" cy="66.3" r="0.53"/><circle cx="351.0" cy="50.0" r="0.80"/><circle cx="362.4" cy="22.9" r="0.74"/><circle cx="352.0" cy="57.2" r="1.02"/><circle cx="352.7" cy="55.8" r="0.95"/><circle cx="354.0" cy="74.3" r="1.06"/><circle cx="370.3" cy="44.7" r="1.00"/><circle cx="380.3" cy="42.9" r="1.06"/><circle cx="398.6" cy="38.7" r="0.64"/><circle cx="366.4" cy="45.8" r="1.09"/><circle cx="400.6" cy="80.6" r="0.99"/><circle cx="403.7" cy="17.9" r="0.81"/></g><g fill="#7c666c" opacity="0.85"><circle cx="411.7" cy="82.2" r="0.52"/><circle cx="372.7" cy="60.2" r="0.56"/><circle cx="380.6" cy="19.1" r="0.58"/><circle cx="378.7" cy="15.5" r="0.49"/><circle cx="412.6" cy="70.7" r="0.73"/><circle cx="388.1" cy="73.1" r="0.72"/><circle cx="406.4" cy="16.5" r="0.64"/><circle cx="361.3" cy="63.5" r="0.53"/><circle cx="381.5" cy="81.5" r="0.64"/><circle cx="360.2" cy="52.0" r="0.58"/><circle cx="411.2" cy="35.0" r="0.54"/><circle cx="389.1" cy="22.8" r="0.63"/><circle cx="411.6" cy="51.5" r="0.53"/><circle cx="376.0" cy="53.0" r="0.49"/><circle cx="351.0" cy="23.6" r="0.54"/><circle cx="371.6" cy="35.0" r="0.52"/><circle cx="348.4" cy="53.9" r="0.70"/><circle cx="386.4" cy="55.6" r="0.65"/><circle cx="356.6" cy="65.9" r="0.59"/><circle cx="381.9" cy="58.7" r="0.59"/><circle cx="364.6" cy="31.7" r="0.52"/><circle cx="379.3" cy="42.0" r="0.63"/><circle cx="342.9" cy="39.7" r="0.71"/><circle cx="359.4" cy="54.6" r="0.60"/><circle cx="362.7" cy="86.1" r="0.54"/><circle cx="398.2" cy="25.6" r="0.47"/><circle cx="405.4" cy="46.1" r="0.47"/><circle cx="370.2" cy="46.1" r="0.67"/><circle cx="350.0" cy="30.4" r="0.74"/><circle cx="395.8" cy="25.3" r="0.55"/><circle cx="367.7" cy="63.3" r="0.63"/><circle cx="403.9" cy="73.9" r="0.61"/><circle cx="395.8" cy="68.3" r="0.68"/><circle cx="376.6" cy="71.3" r="0.66"/><circle cx="408.6" cy="23.3" r="0.71"/><circle cx="342.3" cy="69.9" r="0.63"/><circle cx="378.2" cy="84.3" r="0.62"/><circle cx="372.4" cy="71.2" r="0.71"/><circle cx="386.2" cy="41.7" r="0.59"/><circle cx="375.3" cy="66.8" r="0.54"/><circle cx="370.4" cy="54.5" r="0.57"/><circle cx="365.4" cy="71.5" r="0.70"/><circle cx="378.4" cy="46.4" r="0.51"/><circle cx="364.1" cy="24.6" r="0.62"/><circle cx="384.3" cy="20.4" r="0.73"/><circle cx="365.6" cy="75.6" r="0.70"/><circle cx="411.8" cy="28.9" r="0.58"/><circle cx="408.3" cy="14.8" r="0.46"/><circle cx="383.1" cy="50.3" r="0.73"/><circle cx="398.3" cy="53.3" r="0.75"/><circle cx="379.7" cy="51.8" r="0.66"/><circle cx="370.4" cy="40.1" r="0.63"/><circle cx="367.6" cy="83.2" r="0.65"/><circle cx="380.2" cy="21.2" r="0.56"/><circle cx="371.2" cy="55.0" r="0.62"/><circle cx="406.1" cy="84.4" r="0.60"/><circle cx="374.0" cy="59.6" r="0.75"/><circle cx="367.0" cy="52.7" r="0.69"/><circle cx="354.4" cy="37.2" r="0.74"/><circle cx="402.1" cy="51.4" r="0.48"/><circle cx="407.1" cy="64.4" r="0.70"/><circle cx="414.1" cy="78.8" r="0.58"/><circle cx="353.4" cy="35.2" r="0.60"/><circle cx="378.8" cy="27.7" r="0.50"/><circle cx="387.9" cy="58.0" r="0.56"/><circle cx="414.3" cy="60.5" r="0.46"/><circle cx="372.0" cy="71.5" r="0.54"/><circle cx="392.3" cy="14.3" r="0.54"/><circle cx="403.3" cy="56.8" r="0.65"/><circle cx="356.3" cy="50.3" r="0.62"/><circle cx="361.4" cy="61.2" r="0.61"/><circle cx="414.6" cy="55.9" r="0.57"/><circle cx="350.8" cy="25.4" r="0.68"/><circle cx="349.8" cy="21.3" r="0.50"/><circle cx="380.0" cy="74.1" r="0.63"/><circle cx="400.7" cy="18.5" r="0.45"/><circle cx="398.1" cy="37.6" r="0.66"/><circle cx="367.8" cy="26.4" r="0.53"/><circle cx="349.2" cy="80.0" r="0.62"/><circle cx="367.4" cy="46.8" r="0.57"/><circle cx="346.0" cy="79.0" r="0.62"/><circle cx="411.9" cy="46.1" r="0.64"/><circle cx="360.2" cy="17.2" r="0.73"/><circle cx="404.2" cy="37.0" r="0.72"/><circle cx="401.4" cy="36.2" r="0.63"/><circle cx="411.9" cy="50.2" r="0.73"/><circle cx="359.7" cy="42.5" r="0.67"/><circle cx="358.1" cy="36.6" r="0.71"/><circle cx="377.3" cy="71.9" r="0.52"/><circle cx="354.6" cy="40.2" r="0.51"/><circle cx="412.7" cy="35.2" r="0.62"/><circle cx="350.4" cy="53.0" r="0.57"/><circle cx="371.4" cy="18.8" r="0.49"/><circle cx="402.1" cy="39.6" r="0.52"/><circle cx="355.9" cy="34.7" r="0.52"/><circle cx="344.5" cy="62.5" r="0.55"/><circle cx="353.3" cy="65.5" r="0.48"/><circle cx="361.6" cy="75.0" r="0.49"/><circle cx="374.3" cy="75.1" r="0.69"/><circle cx="353.6" cy="39.8" r="0.67"/><circle cx="369.4" cy="84.0" r="0.51"/><circle cx="411.2" cy="50.9" r="0.52"/><circle cx="375.0" cy="23.6" r="0.66"/><circle cx="361.0" cy="79.7" r="0.63"/><circle cx="368.8" cy="32.0" r="0.63"/><circle cx="357.5" cy="77.7" r="0.49"/><circle cx="379.3" cy="53.6" r="0.53"/><circle cx="398.2" cy="42.1" r="0.65"/><circle cx="383.3" cy="36.7" r="0.57"/><circle cx="348.3" cy="26.9" r="0.71"/><circle cx="365.4" cy="62.4" r="0.48"/><circle cx="382.9" cy="40.4" r="0.60"/><circle cx="363.6" cy="18.8" r="0.54"/><circle cx="358.5" cy="23.2" r="0.67"/><circle cx="362.6" cy="43.4" r="0.72"/><circle cx="398.4" cy="78.4" r="0.71"/><circle cx="351.6" cy="34.2" r="0.46"/><circle cx="391.5" cy="62.4" r="0.56"/><circle cx="372.0" cy="62.1" r="0.66"/><circle cx="360.1" cy="75.8" r="0.56"/><circle cx="387.8" cy="27.3" r="0.48"/><circle cx="408.4" cy="67.6" r="0.66"/><circle cx="344.9" cy="16.9" r="0.50"/><circle cx="356.4" cy="36.1" r="0.56"/><circle cx="344.9" cy="36.7" r="0.64"/><circle cx="355.1" cy="75.3" r="0.62"/><circle cx="394.2" cy="32.6" r="0.58"/><circle cx="391.8" cy="39.5" r="0.45"/><circle cx="402.7" cy="70.7" r="0.54"/><circle cx="345.1" cy="76.4" r="0.63"/><circle cx="345.4" cy="31.8" r="0.48"/><circle cx="399.6" cy="29.3" r="0.72"/><circle cx="396.6" cy="20.3" r="0.66"/><circle cx="370.7" cy="68.6" r="0.70"/><circle cx="362.5" cy="20.6" r="0.73"/><circle cx="372.9" cy="81.9" r="0.66"/><circle cx="395.8" cy="74.6" r="0.64"/><circle cx="375.0" cy="18.0" r="0.66"/><circle cx="373.2" cy="51.4" r="0.73"/><circle cx="351.3" cy="69.6" r="0.46"/><circle cx="393.2" cy="72.8" r="0.53"/><circle cx="381.8" cy="84.8" r="0.64"/><circle cx="381.6" cy="32.2" r="0.47"/><circle cx="368.0" cy="44.0" r="0.51"/><circle cx="364.6" cy="24.0" r="0.66"/><circle cx="390.8" cy="31.4" r="0.52"/><circle cx="379.5" cy="46.5" r="0.73"/><circle cx="367.6" cy="35.9" r="0.72"/><circle cx="352.3" cy="55.1" r="0.55"/><circle cx="401.4" cy="54.0" r="0.68"/><circle cx="354.3" cy="62.7" r="0.63"/><circle cx="375.6" cy="69.9" r="0.70"/><circle cx="350.3" cy="35.1" r="0.56"/><circle cx="357.0" cy="18.4" r="0.53"/><circle cx="356.3" cy="65.2" r="0.58"/><circle cx="350.2" cy="37.7" r="0.59"/><circle cx="368.4" cy="26.3" r="0.47"/><circle cx="342.8" cy="86.4" r="0.68"/><circle cx="348.1" cy="66.4" r="0.74"/><circle cx="383.0" cy="21.9" r="0.60"/><circle cx="373.6" cy="27.9" r="0.61"/><circle cx="342.6" cy="81.1" r="0.64"/><circle cx="387.7" cy="82.3" r="0.65"/><circle cx="360.3" cy="32.0" r="0.49"/><circle cx="344.0" cy="70.5" r="0.70"/><circle cx="363.6" cy="27.6" r="0.64"/><circle cx="403.6" cy="81.6" r="0.50"/><circle cx="399.1" cy="74.6" r="0.67"/><circle cx="365.8" cy="27.5" r="0.70"/><circle cx="365.3" cy="40.9" r="0.62"/><circle cx="368.9" cy="74.7" r="0.52"/><circle cx="345.0" cy="55.4" r="0.64"/><circle cx="401.7" cy="65.5" r="0.72"/><circle cx="410.8" cy="50.1" r="0.60"/><circle cx="353.5" cy="35.9" r="0.62"/><circle cx="347.8" cy="64.2" r="0.50"/><circle cx="374.3" cy="84.8" r="0.48"/><circle cx="344.9" cy="46.1" r="0.51"/><circle cx="394.6" cy="14.2" r="0.70"/><circle cx="404.3" cy="71.4" r="0.58"/><circle cx="362.6" cy="62.3" r="0.60"/><circle cx="372.7" cy="38.7" r="0.58"/><circle cx="390.5" cy="74.3" r="0.72"/><circle cx="354.0" cy="35.6" r="0.58"/><circle cx="383.0" cy="39.4" r="0.51"/><circle cx="348.2" cy="37.6" r="0.59"/><circle cx="412.7" cy="80.3" r="0.71"/><circle cx="412.9" cy="84.2" r="0.64"/><circle cx="401.1" cy="18.4" r="0.65"/><circle cx="386.3" cy="35.7" r="0.62"/><circle cx="411.4" cy="49.1" r="0.64"/><circle cx="363.8" cy="39.1" r="0.72"/><circle cx="344.0" cy="27.8" r="0.65"/><circle cx="374.6" cy="20.2" r="0.65"/><circle cx="369.1" cy="56.4" r="0.57"/><circle cx="380.6" cy="55.2" r="0.57"/><circle cx="350.3" cy="27.2" r="0.72"/><circle cx="381.9" cy="22.2" r="0.71"/><circle cx="360.5" cy="20.9" r="0.61"/><circle cx="360.3" cy="49.7" r="0.62"/><circle cx="358.5" cy="55.8" r="0.48"/><circle cx="379.4" cy="57.0" r="0.47"/><circle cx="371.7" cy="19.4" r="0.58"/><circle cx="404.9" cy="54.2" r="0.66"/><circle cx="397.1" cy="22.4" r="0.75"/><circle cx="394.5" cy="21.5" r="0.70"/><circle cx="370.5" cy="26.5" r="0.74"/><circle cx="383.0" cy="70.6" r="0.49"/><circle cx="398.5" cy="18.2" r="0.52"/><circle cx="369.1" cy="15.1" r="0.63"/><circle cx="357.5" cy="35.9" r="0.66"/><circle cx="373.0" cy="78.9" r="0.64"/><circle cx="405.5" cy="55.1" r="0.73"/><circle cx="405.4" cy="26.3" r="0.67"/><circle cx="366.9" cy="69.7" r="0.65"/><circle cx="402.1" cy="23.0" r="0.56"/><circle cx="395.7" cy="83.2" r="0.67"/><circle cx="345.2" cy="58.1" r="0.48"/><circle cx="382.0" cy="72.6" r="0.48"/><circle cx="409.4" cy="63.3" r="0.53"/><circle cx="356.1" cy="46.6" r="0.70"/><circle cx="384.3" cy="22.3" r="0.46"/><circle cx="350.0" cy="72.5" r="0.51"/><circle cx="382.3" cy="35.2" r="0.66"/><circle cx="369.7" cy="24.5" r="0.71"/><circle cx="381.2" cy="64.3" r="0.69"/><circle cx="411.1" cy="15.0" r="0.55"/><circle cx="353.0" cy="50.6" r="0.71"/><circle cx="400.3" cy="16.6" r="0.50"/><circle cx="401.6" cy="63.6" r="0.57"/><circle cx="376.6" cy="25.6" r="0.70"/><circle cx="370.6" cy="77.7" r="0.63"/><circle cx="347.5" cy="38.0" r="0.51"/><circle cx="407.1" cy="57.0" r="0.46"/><circle cx="354.4" cy="40.4" r="0.59"/><circle cx="384.0" cy="42.3" r="0.56"/><circle cx="342.4" cy="56.3" r="0.55"/><circle cx="343.5" cy="47.5" r="0.75"/><circle cx="345.3" cy="24.6" r="0.65"/><circle cx="361.9" cy="34.0" r="0.60"/><circle cx="361.1" cy="55.5" r="0.61"/><circle cx="411.7" cy="86.4" r="0.46"/><circle cx="382.8" cy="70.3" r="0.71"/><circle cx="398.4" cy="60.2" r="0.64"/><circle cx="368.4" cy="34.6" r="0.69"/><circle cx="405.5" cy="82.5" r="0.65"/><circle cx="364.1" cy="69.7" r="0.67"/><circle cx="379.0" cy="60.4" r="0.56"/><circle cx="382.1" cy="43.6" r="0.47"/><circle cx="366.5" cy="37.6" r="0.75"/><circle cx="377.1" cy="40.8" r="0.52"/><circle cx="359.1" cy="39.5" r="0.49"/><circle cx="342.5" cy="77.6" r="0.59"/><circle cx="374.4" cy="55.5" r="0.54"/><circle cx="354.3" cy="18.8" r="0.54"/><circle cx="364.5" cy="67.0" r="0.62"/><circle cx="410.2" cy="38.9" r="0.73"/><circle cx="384.5" cy="19.8" r="0.50"/><circle cx="384.3" cy="86.1" r="0.56"/><circle cx="398.4" cy="45.3" r="0.71"/><circle cx="346.9" cy="49.4" r="0.72"/><circle cx="362.1" cy="32.8" r="0.46"/><circle cx="354.0" cy="33.6" r="0.66"/><circle cx="357.9" cy="43.2" r="0.51"/><circle cx="385.9" cy="77.1" r="0.64"/><circle cx="356.3" cy="67.6" r="0.74"/><circle cx="385.8" cy="19.8" r="0.69"/><circle cx="405.7" cy="38.9" r="0.49"/><circle cx="355.7" cy="53.2" r="0.71"/><circle cx="388.6" cy="81.4" r="0.51"/><circle cx="365.8" cy="68.7" r="0.64"/><circle cx="371.5" cy="63.6" r="0.55"/><circle cx="346.2" cy="44.2" r="0.46"/><circle cx="387.6" cy="38.4" r="0.60"/><circle cx="385.5" cy="32.8" r="0.59"/><circle cx="343.0" cy="81.5" r="0.62"/><circle cx="413.9" cy="18.1" r="0.63"/><circle cx="394.7" cy="38.0" r="0.48"/><circle cx="353.4" cy="24.4" r="0.68"/><circle cx="348.5" cy="73.4" r="0.58"/></g><g fill="#a89cb4" opacity="0.85"><circle cx="381.2" cy="57.0" r="0.62"/><circle cx="389.9" cy="57.9" r="0.53"/><circle cx="396.0" cy="32.8" r="0.68"/><circle cx="397.6" cy="70.6" r="0.52"/><circle cx="398.2" cy="85.3" r="0.58"/><circle cx="362.3" cy="52.2" r="0.78"/><circle cx="351.6" cy="14.7" r="0.59"/><circle cx="389.7" cy="70.5" r="0.54"/><circle cx="414.0" cy="30.7" r="0.70"/><circle cx="348.5" cy="16.0" r="0.45"/><circle cx="346.4" cy="50.6" r="0.62"/><circle cx="355.2" cy="82.6" r="0.55"/><circle cx="352.9" cy="27.0" r="0.70"/><circle cx="409.1" cy="25.8" r="0.41"/><circle cx="398.6" cy="31.7" r="0.79"/><circle cx="378.3" cy="60.4" r="0.54"/><circle cx="400.3" cy="47.6" r="0.53"/><circle cx="407.8" cy="21.9" r="0.69"/><circle cx="346.8" cy="61.1" r="0.56"/><circle cx="404.9" cy="18.4" r="0.63"/><circle cx="371.8" cy="81.1" r="0.78"/><circle cx="387.7" cy="30.4" r="0.50"/><circle cx="361.1" cy="45.7" r="0.49"/><circle cx="356.8" cy="69.4" r="0.66"/><circle cx="363.7" cy="86.6" r="0.49"/><circle cx="383.5" cy="25.4" r="0.75"/><circle cx="405.3" cy="33.5" r="0.70"/><circle cx="401.9" cy="34.6" r="0.53"/><circle cx="377.3" cy="79.0" r="0.46"/><circle cx="391.7" cy="57.6" r="0.58"/><circle cx="384.2" cy="78.4" r="0.48"/><circle cx="406.3" cy="40.3" r="0.71"/><circle cx="404.9" cy="27.3" r="0.75"/><circle cx="414.4" cy="35.7" r="0.41"/><circle cx="350.1" cy="85.1" r="0.40"/><circle cx="408.4" cy="25.0" r="0.69"/><circle cx="349.1" cy="26.3" r="0.67"/><circle cx="348.6" cy="38.8" r="0.77"/><circle cx="394.2" cy="78.4" r="0.79"/><circle cx="344.4" cy="31.1" r="0.72"/><circle cx="392.2" cy="16.8" r="0.60"/><circle cx="358.9" cy="45.4" r="0.44"/><circle cx="343.5" cy="86.3" r="0.53"/><circle cx="406.0" cy="22.8" r="0.59"/><circle cx="351.9" cy="45.3" r="0.47"/><circle cx="391.9" cy="24.8" r="0.70"/><circle cx="378.5" cy="22.2" r="0.54"/><circle cx="378.1" cy="81.1" r="0.54"/><circle cx="357.7" cy="84.6" r="0.75"/><circle cx="395.2" cy="33.9" r="0.47"/><circle cx="361.3" cy="19.0" r="0.42"/><circle cx="379.0" cy="43.8" r="0.62"/><circle cx="368.4" cy="14.8" r="0.68"/><circle cx="389.5" cy="53.7" r="0.62"/><circle cx="392.3" cy="85.7" r="0.75"/><circle cx="394.3" cy="43.1" r="0.53"/><circle cx="372.5" cy="85.0" r="0.55"/><circle cx="370.1" cy="43.9" r="0.46"/><circle cx="414.7" cy="14.4" r="0.64"/><circle cx="409.4" cy="32.6" r="0.64"/><circle cx="369.4" cy="31.6" r="0.48"/><circle cx="350.5" cy="75.5" r="0.71"/><circle cx="408.1" cy="17.6" r="0.68"/><circle cx="365.6" cy="61.2" r="0.62"/><circle cx="365.0" cy="84.9" r="0.40"/><circle cx="396.3" cy="76.3" r="0.60"/><circle cx="385.1" cy="86.6" r="0.49"/><circle cx="387.8" cy="68.3" r="0.55"/><circle cx="393.8" cy="42.7" r="0.61"/><circle cx="386.6" cy="63.4" r="0.53"/><circle cx="387.8" cy="53.6" r="0.49"/><circle cx="386.6" cy="33.3" r="0.76"/><circle cx="376.5" cy="66.7" r="0.61"/><circle cx="376.7" cy="30.1" r="0.46"/><circle cx="409.5" cy="52.6" r="0.61"/><circle cx="380.4" cy="73.4" r="0.50"/><circle cx="354.5" cy="74.0" r="0.58"/><circle cx="388.6" cy="74.4" r="0.76"/><circle cx="405.2" cy="17.2" r="0.55"/><circle cx="402.6" cy="73.7" r="0.45"/><circle cx="353.2" cy="32.4" r="0.44"/><circle cx="368.0" cy="72.6" r="0.61"/><circle cx="375.0" cy="20.4" r="0.56"/><circle cx="414.6" cy="64.7" r="0.58"/><circle cx="376.8" cy="72.3" r="0.70"/><circle cx="352.9" cy="63.7" r="0.55"/><circle cx="379.9" cy="31.3" r="0.55"/><circle cx="366.8" cy="41.8" r="0.41"/><circle cx="356.6" cy="55.7" r="0.42"/><circle cx="355.0" cy="66.4" r="0.51"/><circle cx="365.6" cy="31.7" r="0.73"/><circle cx="348.6" cy="60.4" r="0.74"/><circle cx="356.7" cy="44.9" r="0.72"/><circle cx="387.0" cy="41.1" r="0.42"/><circle cx="374.2" cy="40.8" r="0.69"/><circle cx="363.5" cy="43.8" r="0.66"/><circle cx="401.0" cy="39.7" r="0.55"/><circle cx="384.1" cy="81.5" r="0.48"/><circle cx="412.7" cy="66.0" r="0.55"/><circle cx="390.5" cy="38.0" r="0.43"/></g></g></g>
<g clip-path="url(#clip2)"><g filter="url(#soft)"><rect x="420" y="14" width="73" height="73" fill="#fff" filter="url(#tf2)"/><g fill="#736ca4" opacity="0.85"><circle cx="475.2" cy="41.7" r="0.63"/><circle cx="456.3" cy="79.8" r="0.71"/><circle cx="421.9" cy="57.3" r="0.61"/><circle cx="453.7" cy="75.3" r="0.60"/><circle cx="454.6" cy="79.0" r="0.60"/><circle cx="455.9" cy="51.4" r="0.74"/><circle cx="468.9" cy="68.1" r="0.59"/><circle cx="423.0" cy="63.6" r="0.64"/><circle cx="476.2" cy="70.2" r="0.49"/><circle cx="436.1" cy="19.6" r="0.74"/><circle cx="427.4" cy="20.4" r="0.71"/><circle cx="461.2" cy="18.0" r="0.69"/><circle cx="471.9" cy="49.2" r="0.47"/><circle cx="470.4" cy="44.5" r="0.65"/><circle cx="492.9" cy="73.6" r="0.76"/><circle cx="430.6" cy="38.4" r="0.63"/><circle cx="420.4" cy="86.2" r="0.55"/><circle cx="439.2" cy="36.9" r="0.54"/><circle cx="482.7" cy="54.6" r="0.63"/><circle cx="450.7" cy="17.7" r="0.56"/><circle cx="483.3" cy="72.5" r="0.75"/><circle cx="438.8" cy="28.7" r="0.47"/><circle cx="459.2" cy="41.3" r="0.61"/><circle cx="455.7" cy="56.6" r="0.58"/><circle cx="478.5" cy="28.6" r="0.77"/><circle cx="460.6" cy="17.7" r="0.56"/><circle cx="458.9" cy="43.9" r="0.65"/><circle cx="443.6" cy="34.0" r="0.73"/><circle cx="441.3" cy="65.9" r="0.73"/><circle cx="463.2" cy="47.2" r="0.78"/><circle cx="452.5" cy="78.1" r="0.47"/><circle cx="451.7" cy="60.7" r="0.47"/><circle cx="483.0" cy="19.3" r="0.66"/><circle cx="433.2" cy="81.3" r="0.65"/><circle cx="478.5" cy="50.4" r="0.69"/><circle cx="469.3" cy="35.5" r="0.52"/><circle cx="481.2" cy="24.6" r="0.77"/><circle cx="435.1" cy="21.4" r="0.48"/><circle cx="477.3" cy="83.4" r="0.60"/><circle cx="468.1" cy="32.8" r="0.77"/><circle cx="470.1" cy="25.3" r="0.47"/><circle cx="470.8" cy="17.0" r="0.74"/><circle cx="441.4" cy="31.0" r="0.65"/><circle cx="443.3" cy="54.9" r="0.50"/><circle cx="486.6" cy="37.7" r="0.74"/><circle cx="431.1" cy="72.4" r="0.79"/><circle cx="448.6" cy="16.4" r="0.58"/><circle cx="466.8" cy="30.3" r="0.64"/><circle cx="426.8" cy="47.9" r="0.70"/><circle cx="451.4" cy="63.6" r="0.49"/><circle cx="480.5" cy="22.9" r="0.77"/><circle cx="492.7" cy="82.6" r="0.63"/><circle cx="441.2" cy="39.4" r="0.71"/><circle cx="456.2" cy="81.9" r="0.48"/><circle cx="455.4" cy="77.1" r="0.66"/><circle cx="459.5" cy="20.5" r="0.50"/><circle cx="439.8" cy="79.2" r="0.75"/><circle cx="436.6" cy="81.5" r="0.46"/><circle cx="463.7" cy="84.6" r="0.57"/><circle cx="488.9" cy="61.9" r="0.47"/><circle cx="444.3" cy="46.8" r="0.54"/><circle cx="474.2" cy="27.1" r="0.73"/><circle cx="441.8" cy="19.1" r="0.65"/><circle cx="427.0" cy="54.3" r="0.73"/><circle cx="463.5" cy="47.7" r="0.46"/><circle cx="457.5" cy="21.1" r="0.68"/><circle cx="429.6" cy="56.2" r="0.57"/><circle cx="447.4" cy="62.4" r="0.51"/><circle cx="432.4" cy="82.7" r="0.57"/><circle cx="481.5" cy="77.8" r="0.62"/><circle cx="430.9" cy="20.9" r="0.76"/><circle cx="428.5" cy="50.2" r="0.64"/><circle cx="428.6" cy="48.2" r="0.51"/><circle cx="459.1" cy="51.0" r="0.58"/><circle cx="434.4" cy="43.5" r="0.52"/><circle cx="429.3" cy="31.5" r="0.76"/><circle cx="456.6" cy="79.0" r="0.46"/><circle cx="488.9" cy="49.7" r="0.73"/><circle cx="461.6" cy="64.3" r="0.53"/><circle cx="474.8" cy="25.2" r="0.54"/><circle cx="422.3" cy="42.7" r="0.63"/><circle cx="441.3" cy="79.0" r="0.48"/><circle cx="462.2" cy="31.1" r="0.66"/><circle cx="477.2" cy="65.9" r="0.47"/><circle cx="437.9" cy="57.7" r="0.79"/><circle cx="423.0" cy="59.1" r="0.69"/><circle cx="479.5" cy="39.0" r="0.73"/><circle cx="453.7" cy="81.2" r="0.45"/><circle cx="488.6" cy="44.1" r="0.59"/><circle cx="426.4" cy="31.9" r="0.71"/><circle cx="469.6" cy="25.0" r="0.57"/><circle cx="430.2" cy="28.5" r="0.53"/><circle cx="444.2" cy="85.2" r="0.80"/><circle cx="477.8" cy="49.0" r="0.62"/><circle cx="476.9" cy="80.3" r="0.71"/><circle cx="466.5" cy="28.5" r="0.67"/><circle cx="481.7" cy="71.4" r="0.48"/><circle cx="472.4" cy="39.5" r="0.51"/><circle cx="490.5" cy="63.1" r="0.71"/><circle cx="429.9" cy="74.5" r="0.78"/><circle cx="486.0" cy="68.4" r="0.74"/><circle cx="478.6" cy="57.1" r="0.60"/><circle cx="480.2" cy="71.3" r="0.75"/><circle cx="441.8" cy="84.1" r="0.64"/><circle cx="489.1" cy="22.5" r="0.79"/><circle cx="477.5" cy="32.4" r="0.74"/><circle cx="436.9" cy="28.5" r="0.61"/><circle cx="437.3" cy="50.0" r="0.77"/><circle cx="470.0" cy="65.9" r="0.59"/><circle cx="477.2" cy="71.9" r="0.69"/><circle cx="488.7" cy="74.3" r="0.59"/><circle cx="426.4" cy="61.6" r="0.74"/><circle cx="444.8" cy="57.4" r="0.74"/><circle cx="477.9" cy="14.3" r="0.62"/><circle cx="421.2" cy="22.1" r="0.73"/><circle cx="450.6" cy="58.1" r="0.61"/><circle cx="444.5" cy="29.6" r="0.57"/><circle cx="481.7" cy="59.2" r="0.55"/><circle cx="426.4" cy="33.8" r="0.70"/><circle cx="452.3" cy="62.3" r="0.73"/><circle cx="428.8" cy="63.9" r="0.46"/><circle cx="480.1" cy="27.4" r="0.55"/><circle cx="489.9" cy="40.5" r="0.53"/><circle cx="485.0" cy="58.5" r="0.76"/><circle cx="448.8" cy="50.5" r="0.78"/><circle cx="457.0" cy="86.2" r="0.52"/><circle cx="480.6" cy="25.8" r="0.63"/><circle cx="420.0" cy="26.8" r="0.78"/><circle cx="453.2" cy="73.1" r="0.54"/><circle cx="445.7" cy="21.4" r="0.64"/><circle cx="482.9" cy="51.5" r="0.58"/><circle cx="487.8" cy="79.2" r="0.68"/><circle cx="425.5" cy="59.6" r="0.61"/><circle cx="489.9" cy="40.4" r="0.68"/><circle cx="466.1" cy="41.4" r="0.63"/><circle cx="469.4" cy="80.2" r="0.62"/><circle cx="446.6" cy="85.3" r="0.47"/><circle cx="480.9" cy="63.9" r="0.65"/><circle cx="452.7" cy="68.8" r="0.76"/><circle cx="473.2" cy="68.7" r="0.46"/><circle cx="443.7" cy="24.0" r="0.78"/><circle cx="485.1" cy="24.6" r="0.66"/><circle cx="462.1" cy="17.4" r="0.59"/><circle cx="474.6" cy="60.8" r="0.55"/><circle cx="475.7" cy="35.3" r="0.64"/><circle cx="450.7" cy="85.4" r="0.68"/><circle cx="478.8" cy="63.4" r="0.58"/><circle cx="490.3" cy="65.8" r="0.69"/><circle cx="440.3" cy="25.8" r="0.65"/><circle cx="480.3" cy="71.9" r="0.57"/><circle cx="430.2" cy="51.7" r="0.76"/><circle cx="431.8" cy="67.9" r="0.51"/><circle cx="442.8" cy="17.9" r="0.55"/><circle cx="448.0" cy="84.6" r="0.79"/><circle cx="433.7" cy="36.6" r="0.78"/><circle cx="434.4" cy="37.4" r="0.60"/><circle cx="427.9" cy="33.0" r="0.59"/><circle cx="448.1" cy="84.3" r="0.54"/><circle cx="434.9" cy="80.3" r="0.61"/><circle cx="481.1" cy="60.5" r="0.72"/><circle cx="443.0" cy="25.1" r="0.71"/><circle cx="454.3" cy="54.8" r="0.68"/><circle cx="474.9" cy="34.1" r="0.58"/><circle cx="487.0" cy="52.6" r="0.55"/><circle cx="466.0" cy="33.0" r="0.72"/><circle cx="423.0" cy="74.3" r="0.65"/><circle cx="445.8" cy="82.6" r="0.54"/><circle cx="437.8" cy="19.1" r="0.64"/><circle cx="475.0" cy="63.5" r="0.59"/><circle cx="479.0" cy="22.1" r="0.56"/><circle cx="467.1" cy="84.6" r="0.67"/><circle cx="470.5" cy="70.5" r="0.59"/><circle cx="488.6" cy="68.2" r="0.57"/><circle cx="448.7" cy="72.8" r="0.57"/><circle cx="433.6" cy="77.6" r="0.64"/><circle cx="458.0" cy="62.9" r="0.77"/><circle cx="429.8" cy="38.7" r="0.47"/><circle cx="450.2" cy="50.7" r="0.75"/><circle cx="468.8" cy="56.2" r="0.59"/><circle cx="461.9" cy="34.0" r="0.75"/><circle cx="477.6" cy="75.2" r="0.50"/><circle cx="469.0" cy="69.1" r="0.63"/><circle cx="485.6" cy="79.6" r="0.71"/><circle cx="479.9" cy="61.4" r="0.76"/><circle cx="429.6" cy="65.4" r="0.70"/><circle cx="464.7" cy="34.1" r="0.47"/><circle cx="464.0" cy="74.2" r="0.55"/><circle cx="435.6" cy="30.3" r="0.48"/><circle cx="469.3" cy="85.2" r="0.73"/><circle cx="446.3" cy="65.1" r="0.48"/><circle cx="481.2" cy="37.7" r="0.45"/><circle cx="465.9" cy="24.1" r="0.55"/><circle cx="424.3" cy="46.5" r="0.64"/><circle cx="478.9" cy="16.9" r="0.74"/><circle cx="428.1" cy="30.4" r="0.67"/><circle cx="444.8" cy="38.2" r="0.65"/><circle cx="435.9" cy="71.9" r="0.52"/><circle cx="481.3" cy="73.0" r="0.64"/><circle cx="422.2" cy="70.8" r="0.46"/><circle cx="456.8" cy="44.9" r="0.47"/></g><g fill="#d4ac8c" opacity="0.85"><circle cx="466.0" cy="66.9" r="0.69"/><circle cx="449.2" cy="51.4" r="0.69"/><circle cx="436.5" cy="77.3" r="0.90"/><circle cx="478.7" cy="84.2" r="0.56"/><circle cx="492.0" cy="19.2" r="0.64"/><circle cx="429.8" cy="47.1" r="0.74"/><circle cx="471.7" cy="47.2" r="0.57"/><circle cx="433.9" cy="43.4" r="0.54"/><circle cx="434.2" cy="67.7" r="0.66"/><circle cx="452.0" cy="28.4" r="0.75"/><circle cx="434.4" cy="33.4" r="0.68"/><circle cx="471.2" cy="85.0" r="0.77"/><circle cx="489.2" cy="81.2" r="0.76"/><circle cx="472.5" cy="18.6" r="0.50"/><circle cx="420.9" cy="77.0" r="0.76"/><circle cx="466.0" cy="33.3" r="0.58"/><circle cx="431.9" cy="60.2" r="0.90"/><circle cx="442.3" cy="17.2" r="0.49"/><circle cx="445.9" cy="79.6" r="0.80"/><circle cx="453.2" cy="21.5" r="0.45"/><circle cx="431.2" cy="70.8" r="0.64"/><circle cx="492.3" cy="80.6" r="0.80"/><circle cx="454.8" cy="74.0" r="0.46"/><circle cx="427.9" cy="55.1" r="0.65"/><circle cx="435.3" cy="32.4" r="0.41"/><circle cx="486.3" cy="65.8" r="0.87"/><circle cx="491.6" cy="45.9" r="0.77"/><circle cx="448.0" cy="73.3" r="0.82"/><circle cx="429.8" cy="14.9" r="0.51"/><circle cx="462.7" cy="41.7" r="0.40"/><circle cx="480.6" cy="71.4" r="0.63"/><circle cx="423.2" cy="78.9" r="0.67"/><circle cx="425.2" cy="37.6" r="0.71"/><circle cx="484.6" cy="49.4" r="0.72"/><circle cx="435.0" cy="31.8" r="0.85"/><circle cx="447.9" cy="21.6" r="0.70"/><circle cx="429.2" cy="28.6" r="0.63"/><circle cx="462.7" cy="60.5" r="0.75"/><circle cx="452.1" cy="18.9" r="0.76"/><circle cx="423.9" cy="48.4" r="0.60"/><circle cx="469.1" cy="66.1" r="0.52"/><circle cx="467.4" cy="64.5" r="0.64"/><circle cx="430.3" cy="80.4" r="0.70"/><circle cx="424.6" cy="31.4" r="0.89"/><circle cx="436.7" cy="42.6" r="0.79"/><circle cx="480.1" cy="60.3" r="0.77"/><circle cx="422.8" cy="20.8" r="0.89"/><circle cx="478.6" cy="16.8" r="0.42"/><circle cx="437.6" cy="81.9" r="0.51"/><circle cx="469.0" cy="81.9" r="0.72"/><circle cx="487.1" cy="33.2" r="0.48"/><circle cx="421.3" cy="69.3" r="0.45"/><circle cx="491.0" cy="65.8" r="0.49"/><circle cx="478.9" cy="25.9" r="0.66"/><circle cx="427.7" cy="71.4" r="0.84"/><circle cx="486.9" cy="14.2" r="0.83"/><circle cx="460.6" cy="74.0" r="0.65"/><circle cx="465.2" cy="57.4" r="0.80"/><circle cx="425.7" cy="18.0" r="0.67"/><circle cx="441.2" cy="43.0" r="0.40"/><circle cx="474.4" cy="15.8" r="0.81"/><circle cx="479.2" cy="47.4" r="0.46"/><circle cx="467.5" cy="29.1" r="0.61"/><circle cx="428.1" cy="85.3" r="0.67"/><circle cx="445.7" cy="20.9" r="0.77"/><circle cx="482.0" cy="75.9" r="0.45"/><circle cx="446.8" cy="36.1" r="0.78"/><circle cx="430.8" cy="58.3" r="0.89"/><circle cx="476.1" cy="14.5" r="0.44"/><circle cx="428.3" cy="64.5" r="0.70"/><circle cx="458.0" cy="47.3" r="0.60"/><circle cx="464.6" cy="61.3" r="0.86"/><circle cx="473.5" cy="72.1" r="0.86"/><circle cx="481.1" cy="66.3" r="0.42"/><circle cx="469.7" cy="76.0" r="0.62"/><circle cx="484.1" cy="27.1" r="0.87"/><circle cx="452.2" cy="65.6" r="0.53"/><circle cx="441.9" cy="39.4" r="0.56"/><circle cx="426.9" cy="46.3" r="0.89"/><circle cx="467.7" cy="82.1" r="0.78"/><circle cx="481.1" cy="86.6" r="0.78"/><circle cx="440.0" cy="32.2" r="0.61"/><circle cx="421.5" cy="30.8" r="0.84"/><circle cx="487.2" cy="38.0" r="0.79"/><circle cx="476.6" cy="79.0" r="0.80"/><circle cx="458.8" cy="21.7" r="0.81"/><circle cx="442.9" cy="59.8" r="0.58"/><circle cx="459.2" cy="84.5" r="0.48"/><circle cx="458.8" cy="61.4" r="0.67"/><circle cx="488.5" cy="43.7" r="0.86"/><circle cx="470.4" cy="84.6" r="0.44"/><circle cx="435.5" cy="35.0" r="0.85"/><circle cx="421.0" cy="33.0" r="0.76"/><circle cx="492.2" cy="26.9" r="0.62"/><circle cx="470.1" cy="64.4" r="0.77"/><circle cx="475.0" cy="32.1" r="0.53"/><circle cx="422.0" cy="64.5" r="0.50"/><circle cx="438.9" cy="84.4" r="0.72"/><circle cx="463.2" cy="61.9" r="0.70"/><circle cx="470.7" cy="36.2" r="0.43"/><circle cx="424.9" cy="15.1" r="0.58"/><circle cx="430.4" cy="22.2" r="0.65"/><circle cx="490.8" cy="64.2" r="0.54"/><circle cx="476.2" cy="27.0" r="0.45"/><circle cx="442.1" cy="43.9" r="0.74"/><circle cx="452.5" cy="67.2" r="0.45"/><circle cx="488.1" cy="39.0" r="0.82"/><circle cx="422.2" cy="74.5" r="0.51"/><circle cx="482.4" cy="72.6" r="0.74"/><circle cx="440.3" cy="14.7" r="0.49"/><circle cx="486.1" cy="25.5" r="0.73"/><circle cx="462.8" cy="62.3" r="0.49"/><circle cx="430.5" cy="21.1" r="0.89"/><circle cx="448.0" cy="61.6" r="0.68"/><circle cx="436.3" cy="18.7" r="0.41"/><circle cx="482.2" cy="23.5" r="0.88"/><circle cx="446.5" cy="66.8" r="0.47"/><circle cx="477.5" cy="32.4" r="0.58"/><circle cx="458.2" cy="22.1" r="0.52"/><circle cx="478.1" cy="34.8" r="0.59"/><circle cx="475.8" cy="30.4" r="0.50"/><circle cx="436.0" cy="42.0" r="0.58"/><circle cx="466.8" cy="48.4" r="0.83"/><circle cx="423.7" cy="62.4" r="0.82"/><circle cx="437.1" cy="16.1" r="0.62"/><circle cx="428.5" cy="47.6" r="0.76"/><circle cx="426.8" cy="22.6" r="0.64"/><circle cx="432.7" cy="30.8" r="0.62"/><circle cx="428.6" cy="19.0" r="0.58"/><circle cx="454.2" cy="82.4" r="0.68"/><circle cx="425.2" cy="30.2" r="0.77"/><circle cx="461.1" cy="77.5" r="0.88"/><circle cx="482.6" cy="22.0" r="0.87"/><circle cx="458.3" cy="31.5" r="0.49"/><circle cx="483.1" cy="29.5" r="0.44"/><circle cx="439.4" cy="81.5" r="0.63"/><circle cx="473.4" cy="19.4" r="0.63"/><circle cx="443.2" cy="29.0" r="0.73"/><circle cx="446.4" cy="22.7" r="0.89"/><circle cx="455.2" cy="27.1" r="0.41"/><circle cx="467.7" cy="51.6" r="0.41"/><circle cx="454.3" cy="68.1" r="0.67"/><circle cx="437.1" cy="50.4" r="0.70"/><circle cx="467.5" cy="24.6" r="0.80"/><circle cx="489.0" cy="68.0" r="0.83"/><circle cx="446.8" cy="79.9" r="0.49"/><circle cx="436.6" cy="57.7" r="0.85"/><circle cx="426.0" cy="29.8" r="0.42"/><circle cx="452.0" cy="24.3" r="0.50"/><circle cx="474.7" cy="56.6" r="0.87"/><circle cx="449.3" cy="63.6" r="0.41"/><circle cx="489.2" cy="31.0" r="0.64"/><circle cx="457.4" cy="83.2" r="0.65"/><circle cx="492.4" cy="59.3" r="0.51"/><circle cx="480.9" cy="28.7" r="0.90"/><circle cx="453.3" cy="30.5" r="0.88"/><circle cx="443.5" cy="43.7" r="0.57"/><circle cx="468.8" cy="15.7" r="0.59"/><circle cx="431.8" cy="74.4" r="0.40"/><circle cx="464.4" cy="32.8" r="0.63"/><circle cx="461.0" cy="66.0" r="0.47"/><circle cx="437.6" cy="22.8" r="0.88"/><circle cx="430.9" cy="24.0" r="0.66"/><circle cx="462.4" cy="78.7" r="0.43"/><circle cx="437.1" cy="26.2" r="0.69"/><circle cx="453.0" cy="43.9" r="0.84"/><circle cx="468.3" cy="76.8" r="0.88"/><circle cx="439.6" cy="82.8" r="0.60"/><circle cx="423.8" cy="80.8" r="0.45"/><circle cx="421.3" cy="35.1" r="0.54"/><circle cx="490.6" cy="77.5" r="0.61"/><circle cx="458.6" cy="76.0" r="0.80"/><circle cx="467.7" cy="51.4" r="0.46"/><circle cx="437.8" cy="62.0" r="0.69"/><circle cx="478.5" cy="79.6" r="0.88"/><circle cx="434.1" cy="19.5" r="0.85"/><circle cx="461.6" cy="27.3" r="0.75"/><circle cx="438.7" cy="31.3" r="0.58"/><circle cx="458.2" cy="63.5" r="0.44"/><circle cx="474.1" cy="59.6" r="0.64"/><circle cx="469.1" cy="72.4" r="0.40"/><circle cx="454.7" cy="63.5" r="0.75"/><circle cx="467.3" cy="27.2" r="0.88"/><circle cx="477.4" cy="31.0" r="0.62"/><circle cx="489.9" cy="29.1" r="0.60"/><circle cx="490.2" cy="79.7" r="0.52"/><circle cx="473.7" cy="40.3" r="0.73"/><circle cx="476.0" cy="23.3" r="0.51"/><circle cx="435.7" cy="33.4" r="0.42"/><circle cx="429.9" cy="43.6" r="0.61"/><circle cx="425.7" cy="56.5" r="0.87"/><circle cx="462.1" cy="40.0" r="0.75"/><circle cx="451.9" cy="26.8" r="0.64"/><circle cx="421.3" cy="63.3" r="0.48"/><circle cx="447.0" cy="84.3" r="0.78"/><circle cx="481.0" cy="60.9" r="0.72"/><circle cx="471.5" cy="84.5" r="0.50"/><circle cx="475.9" cy="36.0" r="0.53"/><circle cx="480.0" cy="57.9" r="0.82"/><circle cx="483.9" cy="57.0" r="0.50"/></g></g></g>
<g clip-path="url(#clip3)"><g filter="url(#soft)"><rect x="304" y="104" width="72.5" height="71.5" fill="#fff" filter="url(#tf3)"/><g fill="#94644e" opacity="0.85"><circle cx="305.1" cy="142.2" r="0.69"/><circle cx="323.8" cy="109.0" r="0.40"/><circle cx="316.6" cy="153.8" r="0.40"/><circle cx="320.7" cy="123.0" r="0.68"/><circle cx="375.6" cy="105.4" r="0.45"/><circle cx="371.8" cy="173.4" r="0.46"/><circle cx="328.3" cy="141.3" r="0.53"/><circle cx="334.3" cy="138.2" r="0.50"/><circle cx="308.0" cy="110.0" r="0.46"/><circle cx="310.6" cy="148.6" r="0.68"/><circle cx="323.1" cy="160.6" r="0.69"/><circle cx="328.8" cy="139.2" r="0.48"/><circle cx="371.4" cy="144.1" r="0.42"/><circle cx="315.2" cy="153.5" r="0.55"/><circle cx="356.0" cy="120.4" r="0.72"/><circle cx="362.1" cy="110.7" r="0.63"/><circle cx="317.9" cy="154.6" r="0.72"/><circle cx="361.4" cy="120.5" r="0.44"/><circle cx="352.1" cy="144.4" r="0.46"/><circle cx="318.0" cy="145.6" r="0.44"/><circle cx="350.0" cy="121.2" r="0.50"/><circle cx="334.7" cy="142.1" r="0.69"/><circle cx="306.2" cy="155.8" r="0.49"/><circle cx="325.1" cy="149.7" r="0.68"/><circle cx="348.6" cy="168.5" r="0.48"/><circle cx="326.6" cy="151.4" r="0.50"/><circle cx="315.4" cy="120.2" r="0.71"/><circle cx="364.0" cy="155.2" r="0.78"/><circle cx="361.6" cy="126.1" r="0.53"/><circle cx="356.3" cy="108.0" r="0.64"/><circle cx="310.5" cy="107.5" r="0.61"/><circle cx="315.0" cy="170.6" r="0.75"/><circle cx="337.5" cy="118.1" r="0.45"/><circle cx="340.7" cy="141.3" r="0.55"/><circle cx="355.9" cy="141.8" r="0.71"/><circle cx="311.7" cy="109.0" r="0.55"/><circle cx="339.1" cy="122.1" r="0.67"/><circle cx="320.1" cy="126.8" r="0.59"/><circle cx="355.6" cy="159.1" r="0.55"/><circle cx="336.4" cy="170.3" r="0.77"/><circle cx="348.9" cy="111.5" r="0.58"/><circle cx="350.2" cy="123.9" r="0.41"/><circle cx="375.1" cy="169.0" r="0.45"/><circle cx="337.8" cy="148.3" r="0.52"/><circle cx="309.0" cy="157.7" r="0.71"/><circle cx="335.7" cy="110.1" r="0.56"/><circle cx="310.8" cy="172.9" r="0.42"/><circle cx="324.9" cy="158.9" r="0.45"/><circle cx="311.7" cy="109.1" r="0.47"/><circle cx="342.6" cy="163.6" r="0.47"/><circle cx="316.6" cy="158.7" r="0.57"/><circle cx="328.5" cy="112.8" r="0.50"/><circle cx="374.5" cy="112.4" r="0.50"/><circle cx="357.7" cy="167.8" r="0.76"/><circle cx="338.3" cy="172.4" r="0.64"/><circle cx="324.9" cy="137.3" r="0.69"/><circle cx="357.2" cy="113.3" r="0.48"/><circle cx="373.5" cy="111.7" r="0.73"/><circle cx="328.6" cy="121.7" r="0.50"/><circle cx="338.0" cy="174.8" r="0.46"/><circle cx="366.0" cy="127.0" r="0.47"/><circle cx="358.0" cy="128.4" r="0.48"/><circle cx="334.3" cy="162.7" r="0.75"/><circle cx="345.7" cy="104.7" r="0.71"/><circle cx="348.0" cy="168.3" r="0.78"/><circle cx="327.7" cy="164.7" r="0.73"/><circle cx="323.3" cy="130.2" r="0.55"/><circle cx="329.6" cy="131.0" r="0.44"/><circle cx="320.5" cy="169.0" r="0.56"/><circle cx="350.1" cy="167.4" r="0.70"/><circle cx="321.7" cy="169.8" r="0.72"/><circle cx="375.8" cy="156.1" r="0.70"/><circle cx="362.9" cy="122.1" r="0.66"/><circle cx="331.6" cy="164.0" r="0.45"/><circle cx="343.1" cy="128.1" r="0.73"/><circle cx="329.0" cy="164.3" r="0.74"/><circle cx="367.7" cy="113.9" r="0.78"/><circle cx="358.0" cy="152.4" r="0.66"/><circle cx="307.5" cy="166.2" r="0.62"/><circle cx="337.0" cy="128.3" r="0.71"/><circle cx="360.7" cy="166.2" r="0.49"/><circle cx="328.7" cy="121.8" r="0.44"/><circle cx="327.7" cy="105.9" r="0.72"/><circle cx="320.5" cy="109.1" r="0.43"/><circle cx="357.7" cy="118.2" r="0.58"/><circle cx="333.1" cy="161.4" r="0.78"/><circle cx="326.5" cy="149.2" r="0.76"/><circle cx="338.1" cy="168.3" r="0.69"/><circle cx="326.6" cy="166.5" r="0.63"/><circle cx="311.7" cy="146.0" r="0.73"/><circle cx="341.6" cy="138.6" r="0.57"/><circle cx="367.8" cy="151.6" r="0.48"/><circle cx="330.3" cy="130.0" r="0.78"/><circle cx="354.5" cy="112.9" r="0.77"/><circle cx="306.5" cy="146.2" r="0.57"/><circle cx="356.0" cy="134.7" r="0.44"/><circle cx="342.0" cy="162.7" r="0.72"/><circle cx="329.9" cy="119.9" r="0.70"/><circle cx="362.1" cy="119.7" r="0.75"/><circle cx="376.0" cy="135.0" r="0.55"/><circle cx="355.5" cy="170.5" r="0.48"/><circle cx="325.9" cy="127.5" r="0.69"/><circle cx="317.5" cy="143.1" r="0.60"/><circle cx="352.5" cy="114.2" r="0.78"/><circle cx="376.5" cy="144.1" r="0.72"/><circle cx="317.3" cy="169.1" r="0.62"/><circle cx="359.1" cy="166.1" r="0.54"/><circle cx="371.0" cy="118.8" r="0.41"/><circle cx="340.4" cy="168.3" r="0.76"/><circle cx="373.2" cy="140.5" r="0.77"/><circle cx="344.6" cy="114.3" r="0.65"/><circle cx="362.2" cy="134.3" r="0.64"/><circle cx="322.8" cy="123.7" r="0.57"/><circle cx="341.2" cy="137.5" r="0.44"/><circle cx="304.4" cy="128.3" r="0.69"/><circle cx="358.3" cy="120.9" r="0.50"/><circle cx="341.5" cy="116.5" r="0.64"/><circle cx="369.6" cy="118.4" r="0.63"/><circle cx="356.3" cy="157.6" r="0.68"/><circle cx="355.5" cy="123.5" r="0.74"/><circle cx="371.1" cy="107.8" r="0.78"/><circle cx="336.1" cy="110.2" r="0.43"/><circle cx="361.8" cy="152.5" r="0.46"/><circle cx="337.3" cy="149.7" r="0.80"/><circle cx="328.4" cy="158.8" r="0.50"/><circle cx="318.4" cy="115.5" r="0.56"/><circle cx="348.8" cy="125.7" r="0.46"/><circle cx="319.8" cy="110.1" r="0.48"/><circle cx="326.9" cy="140.1" r="0.47"/><circle cx="338.8" cy="135.4" r="0.79"/><circle cx="339.3" cy="171.6" r="0.59"/><circle cx="318.4" cy="146.3" r="0.46"/><circle cx="316.3" cy="109.2" r="0.68"/><circle cx="374.1" cy="132.8" r="0.54"/><circle cx="334.8" cy="129.2" r="0.68"/><circle cx="332.4" cy="114.9" r="0.75"/><circle cx="345.5" cy="104.5" r="0.74"/><circle cx="356.8" cy="129.3" r="0.65"/><circle cx="370.7" cy="132.7" r="0.57"/><circle cx="325.6" cy="143.6" r="0.67"/><circle cx="357.3" cy="171.9" r="0.46"/><circle cx="330.5" cy="164.9" r="0.72"/><circle cx="346.8" cy="152.4" r="0.54"/><circle cx="372.5" cy="143.3" r="0.56"/><circle cx="317.2" cy="112.3" r="0.76"/><circle cx="362.0" cy="105.9" r="0.53"/><circle cx="338.8" cy="139.4" r="0.55"/><circle cx="368.9" cy="129.0" r="0.61"/><circle cx="371.4" cy="149.7" r="0.59"/><circle cx="328.1" cy="131.7" r="0.64"/></g><g fill="#eee2dc" opacity="0.85"><circle cx="361.0" cy="122.6" r="0.62"/><circle cx="332.1" cy="129.9" r="0.95"/><circle cx="343.1" cy="123.7" r="0.60"/><circle cx="363.6" cy="115.5" r="0.81"/><circle cx="305.6" cy="117.8" r="0.44"/><circle cx="362.4" cy="114.5" r="0.54"/><circle cx="308.2" cy="122.9" r="0.84"/><circle cx="356.2" cy="169.1" r="0.97"/><circle cx="343.9" cy="169.9" r="0.45"/><circle cx="371.1" cy="135.0" r="0.52"/><circle cx="358.2" cy="165.4" r="0.63"/><circle cx="310.8" cy="166.4" r="0.85"/><circle cx="347.3" cy="173.8" r="0.42"/><circle cx="308.1" cy="112.9" r="0.41"/><circle cx="355.4" cy="149.1" r="0.47"/><circle cx="315.7" cy="116.9" r="0.77"/><circle cx="352.8" cy="173.3" r="0.62"/><circle cx="375.0" cy="135.1" r="0.63"/><circle cx="322.4" cy="120.6" r="0.98"/><circle cx="376.1" cy="154.5" r="0.51"/><circle cx="317.0" cy="114.9" r="0.61"/><circle cx="357.4" cy="108.2" r="0.72"/><circle cx="353.4" cy="106.4" r="0.66"/><circle cx="361.3" cy="145.2" r="0.67"/><circle cx="367.9" cy="147.0" r="0.60"/><circle cx="332.7" cy="171.4" r="0.92"/><circle cx="370.3" cy="144.1" r="0.49"/><circle cx="316.7" cy="131.4" r="0.81"/><circle cx="304.3" cy="161.3" r="0.87"/><circle cx="341.3" cy="104.4" r="0.88"/><circle cx="334.0" cy="151.9" r="0.74"/><circle cx="356.8" cy="133.2" r="0.98"/><circle cx="373.3" cy="170.4" r="0.77"/><circle cx="326.9" cy="130.9" r="0.56"/><circle cx="369.5" cy="160.6" r="0.87"/><circle cx="363.5" cy="174.8" r="0.81"/><circle cx="327.1" cy="158.2" r="0.56"/><circle cx="348.3" cy="115.3" r="0.91"/><circle cx="339.4" cy="123.7" r="0.95"/><circle cx="310.0" cy="170.5" r="0.85"/><circle cx="314.8" cy="158.4" r="0.74"/><circle cx="369.8" cy="145.9" r="0.66"/><circle cx="371.7" cy="110.2" r="0.87"/><circle cx="311.5" cy="123.8" r="0.47"/><circle cx="367.2" cy="135.6" r="0.84"/><circle cx="322.6" cy="156.2" r="0.79"/><circle cx="311.1" cy="139.3" r="0.83"/><circle cx="319.6" cy="150.8" r="0.57"/><circle cx="330.9" cy="169.8" r="0.97"/><circle cx="376.3" cy="134.5" r="0.74"/><circle cx="362.6" cy="158.2" r="0.67"/><circle cx="366.6" cy="132.7" r="0.97"/><circle cx="338.3" cy="112.5" r="0.85"/><circle cx="314.5" cy="152.6" r="0.43"/><circle cx="375.7" cy="142.7" r="0.84"/><circle cx="313.5" cy="149.5" r="0.63"/><circle cx="322.1" cy="162.3" r="0.42"/><circle cx="338.6" cy="110.2" r="0.91"/><circle cx="368.8" cy="106.5" r="0.68"/><circle cx="338.0" cy="155.4" r="0.84"/><circle cx="328.9" cy="170.7" r="0.51"/><circle cx="313.9" cy="162.3" r="0.47"/><circle cx="317.5" cy="139.8" r="0.60"/><circle cx="315.9" cy="170.5" r="0.68"/><circle cx="361.0" cy="121.9" r="0.95"/><circle cx="320.0" cy="168.8" r="0.77"/><circle cx="374.4" cy="159.1" r="0.78"/><circle cx="342.6" cy="165.1" r="0.67"/><circle cx="311.1" cy="169.3" r="0.88"/><circle cx="353.4" cy="157.2" r="0.54"/><circle cx="337.6" cy="162.8" r="0.98"/><circle cx="370.9" cy="115.5" r="0.81"/><circle cx="344.2" cy="133.0" r="0.50"/><circle cx="313.9" cy="137.6" r="0.70"/><circle cx="323.4" cy="130.3" r="0.73"/><circle cx="359.2" cy="146.1" r="0.50"/><circle cx="368.2" cy="130.3" r="0.98"/><circle cx="375.2" cy="114.0" r="0.75"/><circle cx="374.1" cy="131.5" r="0.73"/><circle cx="326.8" cy="106.0" r="0.52"/><circle cx="313.0" cy="124.3" r="0.78"/><circle cx="344.8" cy="171.8" r="0.81"/><circle cx="330.3" cy="171.9" r="0.78"/><circle cx="343.4" cy="165.7" r="0.80"/><circle cx="330.1" cy="147.2" r="0.58"/><circle cx="374.3" cy="121.5" r="0.98"/><circle cx="308.7" cy="104.7" r="0.73"/><circle cx="318.9" cy="140.3" r="0.47"/><circle cx="364.7" cy="151.8" r="0.81"/><circle cx="371.2" cy="174.9" r="0.81"/><circle cx="355.7" cy="104.1" r="0.43"/><circle cx="334.9" cy="173.3" r="0.59"/><circle cx="345.2" cy="104.6" r="0.65"/><circle cx="369.4" cy="146.1" r="0.89"/><circle cx="304.9" cy="118.5" r="0.51"/><circle cx="364.3" cy="111.3" r="0.96"/><circle cx="323.4" cy="167.0" r="0.71"/><circle cx="327.5" cy="173.1" r="0.64"/><circle cx="354.6" cy="108.8" r="0.90"/><circle cx="375.1" cy="111.9" r="0.85"/><circle cx="323.6" cy="114.6" r="0.62"/><circle cx="352.0" cy="172.2" r="1.00"/><circle cx="376.0" cy="148.6" r="0.79"/><circle cx="315.7" cy="155.9" r="0.73"/><circle cx="330.0" cy="168.4" r="0.55"/><circle cx="314.3" cy="115.3" r="0.49"/><circle cx="346.7" cy="161.3" r="0.50"/><circle cx="340.5" cy="145.1" r="0.74"/><circle cx="333.9" cy="142.9" r="0.41"/><circle cx="308.2" cy="134.2" r="0.54"/><circle cx="358.9" cy="121.3" r="0.89"/><circle cx="321.5" cy="110.6" r="0.69"/><circle cx="332.1" cy="128.0" r="0.86"/><circle cx="320.1" cy="151.9" r="0.90"/><circle cx="336.8" cy="140.0" r="0.95"/><circle cx="347.8" cy="116.9" r="0.44"/><circle cx="310.0" cy="127.7" r="0.45"/><circle cx="351.0" cy="134.3" r="0.59"/><circle cx="341.1" cy="171.0" r="0.55"/><circle cx="315.2" cy="125.8" r="0.59"/><circle cx="370.0" cy="154.5" r="0.66"/><circle cx="316.0" cy="107.2" r="0.47"/><circle cx="365.4" cy="150.3" r="0.49"/><circle cx="349.3" cy="108.2" r="0.70"/><circle cx="328.3" cy="111.3" r="0.85"/><circle cx="356.0" cy="140.5" r="0.50"/><circle cx="352.5" cy="135.0" r="0.80"/><circle cx="310.6" cy="168.5" r="0.40"/><circle cx="320.1" cy="132.5" r="0.52"/><circle cx="310.4" cy="153.2" r="1.00"/><circle cx="328.3" cy="123.0" r="0.80"/><circle cx="320.1" cy="132.7" r="0.81"/><circle cx="335.2" cy="115.1" r="0.44"/><circle cx="343.4" cy="174.8" r="0.95"/><circle cx="311.2" cy="139.9" r="0.69"/><circle cx="318.1" cy="151.9" r="0.70"/><circle cx="362.6" cy="124.9" r="0.96"/><circle cx="363.1" cy="137.9" r="0.48"/><circle cx="339.1" cy="113.1" r="0.81"/><circle cx="354.6" cy="145.3" r="0.99"/></g><ellipse cx="376" cy="106" rx="3" ry="3" transform="rotate(0 376 106)" fill="#dcd8ec" opacity="0.6"/><ellipse cx="318" cy="158" rx="3" ry="1.5" transform="rotate(-30 318 158)" fill="#ece4ec" opacity="0.6"/><ellipse cx="340" cy="150" rx="2" ry="1.2" transform="rotate(20 340 150)" fill="#ece4ec" opacity="0.6"/><ellipse cx="360" cy="122" rx="2" ry="1.2" transform="rotate(40 360 122)" fill="#e4dce8" opacity="0.6"/></g></g>
<g clip-path="url(#clip4)"><g filter="url(#soft)"><rect x="382" y="103.5" width="72.8" height="72" fill="#fff" filter="url(#tf4)"/><g fill="#7a3c1a" opacity="0.85"><circle cx="385.3" cy="155.0" r="0.80"/><circle cx="390.2" cy="126.7" r="0.43"/><circle cx="424.4" cy="155.6" r="0.57"/><circle cx="432.6" cy="129.9" r="0.76"/><circle cx="402.2" cy="173.9" r="0.62"/><circle cx="382.3" cy="110.1" r="0.76"/><circle cx="445.0" cy="149.3" r="0.48"/><circle cx="445.5" cy="155.1" r="0.46"/><circle cx="409.7" cy="151.8" r="0.40"/><circle cx="385.1" cy="129.0" r="0.84"/><circle cx="454.5" cy="126.4" r="0.85"/><circle cx="439.2" cy="165.8" r="0.69"/><circle cx="452.6" cy="149.9" r="0.87"/><circle cx="423.2" cy="117.7" r="0.66"/><circle cx="417.2" cy="127.8" r="0.59"/><circle cx="419.2" cy="145.8" r="0.51"/><circle cx="402.2" cy="139.7" r="0.65"/><circle cx="412.5" cy="151.3" r="0.49"/><circle cx="420.7" cy="123.4" r="0.79"/><circle cx="433.2" cy="159.7" r="0.66"/><circle cx="400.1" cy="170.1" r="0.66"/><circle cx="409.3" cy="124.4" r="0.60"/><circle cx="433.6" cy="162.4" r="0.64"/><circle cx="435.2" cy="118.8" r="0.63"/><circle cx="408.1" cy="125.6" r="0.58"/><circle cx="436.9" cy="156.3" r="0.50"/><circle cx="399.0" cy="160.0" r="0.73"/><circle cx="431.2" cy="149.2" r="0.75"/><circle cx="401.9" cy="107.9" r="0.58"/><circle cx="384.4" cy="172.8" r="0.66"/><circle cx="430.8" cy="173.1" r="0.80"/><circle cx="398.7" cy="127.8" r="0.45"/><circle cx="439.9" cy="156.6" r="0.64"/><circle cx="408.9" cy="122.9" r="0.64"/><circle cx="433.8" cy="168.0" r="0.82"/><circle cx="445.2" cy="135.1" r="0.61"/><circle cx="404.9" cy="173.6" r="0.49"/><circle cx="393.5" cy="123.7" r="0.86"/><circle cx="444.1" cy="127.4" r="0.83"/><circle cx="446.8" cy="134.3" r="0.50"/><circle cx="438.3" cy="130.5" r="0.46"/><circle cx="447.7" cy="135.1" r="0.60"/><circle cx="425.3" cy="121.9" r="0.41"/><circle cx="410.4" cy="130.8" r="0.41"/><circle cx="409.1" cy="158.3" r="0.57"/><circle cx="431.5" cy="148.5" r="0.49"/><circle cx="383.5" cy="152.1" r="0.71"/><circle cx="403.4" cy="117.9" r="0.83"/><circle cx="448.2" cy="120.3" r="0.69"/><circle cx="423.8" cy="126.7" r="0.42"/><circle cx="405.7" cy="149.9" r="0.70"/><circle cx="419.1" cy="112.3" r="0.51"/><circle cx="404.7" cy="133.5" r="0.58"/><circle cx="447.7" cy="111.9" r="0.89"/><circle cx="399.5" cy="165.2" r="0.52"/><circle cx="424.8" cy="130.7" r="0.42"/><circle cx="440.0" cy="161.9" r="0.53"/><circle cx="438.5" cy="138.0" r="0.89"/><circle cx="386.0" cy="130.9" r="0.51"/><circle cx="427.5" cy="159.5" r="0.82"/><circle cx="421.9" cy="131.4" r="0.80"/><circle cx="389.6" cy="122.2" r="0.78"/><circle cx="414.1" cy="175.0" r="0.45"/><circle cx="415.6" cy="118.8" r="0.40"/><circle cx="388.8" cy="110.1" r="0.58"/><circle cx="413.5" cy="140.1" r="0.54"/><circle cx="433.1" cy="140.7" r="0.89"/><circle cx="394.3" cy="140.3" r="0.65"/><circle cx="409.1" cy="165.5" r="0.50"/><circle cx="445.9" cy="129.3" r="0.57"/><circle cx="426.8" cy="144.1" r="0.54"/><circle cx="388.1" cy="172.3" r="0.58"/><circle cx="390.3" cy="150.8" r="0.67"/><circle cx="405.8" cy="127.1" r="0.82"/><circle cx="406.7" cy="133.6" r="0.88"/><circle cx="408.3" cy="132.4" r="0.48"/><circle cx="430.2" cy="151.4" r="0.62"/><circle cx="411.5" cy="120.3" r="0.79"/><circle cx="415.3" cy="163.4" r="0.59"/><circle cx="435.4" cy="105.6" r="0.51"/><circle cx="451.9" cy="152.6" r="0.74"/><circle cx="418.2" cy="137.5" r="0.50"/><circle cx="394.6" cy="150.0" r="0.75"/><circle cx="400.8" cy="149.9" r="0.47"/><circle cx="426.6" cy="115.9" r="0.65"/><circle cx="404.9" cy="143.1" r="0.47"/><circle cx="417.2" cy="147.9" r="0.47"/><circle cx="404.5" cy="152.4" r="0.67"/><circle cx="426.9" cy="159.7" r="0.69"/><circle cx="398.2" cy="135.4" r="0.82"/><circle cx="423.3" cy="157.7" r="0.58"/><circle cx="414.6" cy="173.3" r="0.81"/><circle cx="429.5" cy="111.2" r="0.71"/><circle cx="384.4" cy="170.7" r="0.89"/><circle cx="435.0" cy="122.8" r="0.82"/><circle cx="394.9" cy="163.1" r="0.66"/><circle cx="383.1" cy="167.6" r="0.62"/><circle cx="442.4" cy="153.1" r="0.67"/><circle cx="444.8" cy="118.1" r="0.85"/><circle cx="406.7" cy="105.4" r="0.57"/><circle cx="386.8" cy="108.7" r="0.71"/><circle cx="390.8" cy="115.0" r="0.55"/><circle cx="402.3" cy="169.7" r="0.85"/><circle cx="445.3" cy="174.8" r="0.62"/><circle cx="439.9" cy="123.7" r="0.86"/><circle cx="441.0" cy="156.2" r="0.51"/><circle cx="388.7" cy="170.1" r="0.68"/><circle cx="426.6" cy="165.6" r="0.47"/><circle cx="432.9" cy="136.9" r="0.79"/><circle cx="415.2" cy="117.7" r="0.88"/><circle cx="402.5" cy="157.1" r="0.82"/><circle cx="400.0" cy="153.5" r="0.60"/><circle cx="398.3" cy="119.1" r="0.88"/><circle cx="408.8" cy="140.2" r="0.65"/><circle cx="383.9" cy="157.8" r="0.77"/><circle cx="445.8" cy="129.2" r="0.50"/><circle cx="407.3" cy="156.2" r="0.73"/><circle cx="411.6" cy="141.3" r="0.48"/><circle cx="448.9" cy="137.5" r="0.65"/><circle cx="439.3" cy="117.7" r="0.76"/><circle cx="407.7" cy="162.0" r="0.45"/><circle cx="402.1" cy="149.3" r="0.64"/><circle cx="409.4" cy="145.2" r="0.51"/><circle cx="413.8" cy="103.6" r="0.80"/><circle cx="400.5" cy="163.3" r="0.68"/><circle cx="425.8" cy="148.6" r="0.46"/><circle cx="438.6" cy="124.5" r="0.83"/><circle cx="439.2" cy="152.3" r="0.81"/><circle cx="413.8" cy="152.0" r="0.88"/><circle cx="395.8" cy="110.8" r="0.61"/><circle cx="419.1" cy="114.2" r="0.51"/><circle cx="445.1" cy="131.4" r="0.47"/><circle cx="395.3" cy="145.1" r="0.49"/><circle cx="416.6" cy="142.2" r="0.62"/><circle cx="418.7" cy="163.8" r="0.41"/><circle cx="449.7" cy="117.8" r="0.42"/><circle cx="437.9" cy="144.5" r="0.67"/><circle cx="397.8" cy="159.7" r="0.55"/><circle cx="434.9" cy="119.9" r="0.69"/><circle cx="429.2" cy="130.3" r="0.64"/><circle cx="386.7" cy="149.8" r="0.75"/><circle cx="393.2" cy="143.1" r="0.77"/><circle cx="389.4" cy="163.9" r="0.84"/><circle cx="385.7" cy="121.4" r="0.44"/><circle cx="400.4" cy="109.7" r="0.64"/><circle cx="400.2" cy="125.1" r="0.63"/><circle cx="409.0" cy="160.3" r="0.76"/><circle cx="390.3" cy="119.6" r="0.40"/><circle cx="406.0" cy="111.3" r="0.75"/><circle cx="438.8" cy="175.2" r="0.50"/><circle cx="384.7" cy="158.0" r="0.61"/><circle cx="449.8" cy="131.8" r="0.56"/><circle cx="387.3" cy="171.7" r="0.66"/><circle cx="414.1" cy="135.0" r="0.78"/><circle cx="442.5" cy="137.8" r="0.49"/><circle cx="411.6" cy="167.7" r="0.60"/><circle cx="430.1" cy="143.8" r="0.63"/><circle cx="423.8" cy="121.1" r="0.68"/><circle cx="445.0" cy="109.2" r="0.58"/><circle cx="446.1" cy="173.9" r="0.41"/><circle cx="427.6" cy="149.0" r="0.82"/><circle cx="416.2" cy="112.9" r="0.55"/><circle cx="433.9" cy="155.9" r="0.50"/><circle cx="428.8" cy="150.8" r="0.73"/><circle cx="383.6" cy="135.3" r="0.56"/><circle cx="425.5" cy="127.7" r="0.46"/><circle cx="430.8" cy="124.2" r="0.80"/><circle cx="404.3" cy="142.8" r="0.80"/><circle cx="390.4" cy="156.1" r="0.43"/><circle cx="450.2" cy="105.3" r="0.76"/><circle cx="408.8" cy="116.4" r="0.60"/><circle cx="418.5" cy="133.4" r="0.46"/><circle cx="420.1" cy="125.1" r="0.88"/><circle cx="409.9" cy="134.8" r="0.51"/><circle cx="452.5" cy="126.7" r="0.72"/><circle cx="442.6" cy="131.8" r="0.78"/><circle cx="402.3" cy="111.4" r="0.42"/><circle cx="414.7" cy="166.4" r="0.50"/><circle cx="414.1" cy="158.4" r="0.54"/><circle cx="393.1" cy="140.9" r="0.61"/></g><g fill="#d8aa88" opacity="0.85"><circle cx="450.3" cy="168.1" r="0.52"/><circle cx="422.8" cy="133.5" r="0.42"/><circle cx="414.3" cy="169.4" r="0.55"/><circle cx="424.7" cy="154.6" r="0.43"/><circle cx="449.3" cy="111.4" r="0.55"/><circle cx="434.1" cy="104.9" r="0.59"/><circle cx="391.2" cy="137.6" r="0.41"/><circle cx="393.0" cy="119.5" r="0.44"/><circle cx="388.6" cy="117.5" r="0.66"/><circle cx="392.0" cy="162.6" r="0.61"/><circle cx="400.3" cy="120.9" r="0.82"/><circle cx="385.4" cy="156.9" r="0.45"/><circle cx="450.8" cy="132.9" r="0.70"/><circle cx="444.8" cy="110.7" r="0.43"/><circle cx="432.5" cy="145.8" r="0.76"/><circle cx="402.2" cy="139.3" r="0.49"/><circle cx="413.8" cy="123.8" r="0.69"/><circle cx="403.8" cy="123.3" r="0.72"/><circle cx="388.2" cy="161.2" r="0.65"/><circle cx="398.7" cy="111.8" r="0.65"/><circle cx="418.7" cy="155.3" r="0.59"/><circle cx="412.0" cy="167.8" r="0.54"/><circle cx="453.4" cy="167.8" r="0.90"/><circle cx="450.7" cy="122.0" r="0.81"/><circle cx="426.5" cy="118.2" r="0.90"/><circle cx="429.2" cy="161.8" r="0.68"/><circle cx="387.8" cy="165.7" r="0.49"/><circle cx="400.9" cy="147.9" r="0.50"/><circle cx="415.7" cy="154.9" r="0.45"/><circle cx="430.1" cy="111.0" r="0.64"/><circle cx="429.3" cy="153.0" r="0.42"/><circle cx="395.9" cy="172.6" r="0.60"/><circle cx="412.9" cy="130.5" r="0.75"/><circle cx="435.9" cy="150.3" r="0.60"/><circle cx="423.5" cy="140.6" r="0.49"/><circle cx="451.1" cy="173.0" r="0.79"/><circle cx="454.3" cy="137.0" r="0.82"/><circle cx="399.5" cy="157.0" r="0.76"/><circle cx="450.3" cy="163.5" r="0.84"/><circle cx="401.5" cy="160.2" r="0.64"/><circle cx="404.7" cy="130.0" r="0.80"/><circle cx="443.4" cy="164.3" r="0.73"/><circle cx="394.4" cy="114.7" r="0.68"/><circle cx="397.4" cy="127.7" r="0.45"/><circle cx="393.3" cy="155.1" r="0.51"/><circle cx="443.7" cy="127.2" r="0.82"/><circle cx="404.0" cy="122.8" r="0.60"/><circle cx="382.9" cy="134.9" r="0.59"/><circle cx="382.9" cy="165.5" r="0.59"/><circle cx="382.0" cy="172.6" r="0.51"/><circle cx="400.4" cy="105.2" r="0.45"/><circle cx="433.7" cy="145.4" r="0.65"/><circle cx="399.9" cy="124.1" r="0.89"/><circle cx="409.1" cy="174.7" r="0.84"/><circle cx="391.1" cy="164.6" r="0.41"/><circle cx="433.8" cy="161.8" r="0.75"/><circle cx="422.0" cy="162.0" r="0.48"/><circle cx="421.3" cy="122.6" r="0.60"/><circle cx="395.9" cy="154.5" r="0.69"/><circle cx="438.7" cy="148.7" r="0.70"/><circle cx="449.1" cy="162.0" r="0.68"/><circle cx="405.7" cy="170.3" r="0.59"/><circle cx="389.4" cy="127.5" r="0.75"/><circle cx="449.8" cy="150.0" r="0.73"/><circle cx="450.2" cy="159.5" r="0.62"/><circle cx="415.6" cy="158.2" r="0.56"/><circle cx="390.0" cy="148.1" r="0.80"/><circle cx="400.1" cy="152.7" r="0.85"/><circle cx="391.3" cy="113.3" r="0.65"/><circle cx="406.3" cy="171.9" r="0.90"/><circle cx="414.4" cy="160.6" r="0.72"/><circle cx="394.6" cy="173.5" r="0.49"/><circle cx="387.5" cy="136.1" r="0.41"/><circle cx="417.0" cy="133.2" r="0.88"/><circle cx="412.1" cy="164.7" r="0.79"/><circle cx="424.7" cy="120.6" r="0.55"/><circle cx="417.8" cy="131.9" r="0.72"/><circle cx="418.8" cy="126.8" r="0.70"/><circle cx="454.5" cy="118.1" r="0.57"/><circle cx="382.9" cy="110.3" r="0.43"/><circle cx="412.8" cy="163.7" r="0.75"/><circle cx="452.3" cy="163.8" r="0.69"/><circle cx="424.3" cy="104.4" r="0.59"/><circle cx="401.0" cy="148.2" r="0.43"/><circle cx="421.5" cy="130.5" r="0.65"/><circle cx="411.4" cy="110.9" r="0.77"/><circle cx="440.3" cy="146.6" r="0.46"/><circle cx="425.6" cy="166.2" r="0.89"/><circle cx="437.2" cy="106.8" r="0.84"/><circle cx="430.4" cy="123.4" r="0.86"/><circle cx="442.1" cy="167.9" r="0.52"/><circle cx="424.0" cy="130.8" r="0.55"/><circle cx="437.4" cy="147.9" r="0.57"/><circle cx="421.5" cy="170.3" r="0.68"/><circle cx="448.5" cy="144.3" r="0.90"/><circle cx="384.1" cy="136.6" r="0.68"/><circle cx="434.9" cy="173.2" r="0.71"/><circle cx="416.8" cy="149.2" r="0.67"/><circle cx="433.3" cy="171.7" r="0.41"/><circle cx="405.3" cy="166.6" r="0.43"/><circle cx="439.5" cy="105.7" r="0.72"/><circle cx="440.3" cy="120.6" r="0.59"/><circle cx="398.5" cy="154.2" r="0.66"/><circle cx="426.1" cy="126.9" r="0.69"/><circle cx="451.5" cy="159.6" r="0.88"/><circle cx="400.0" cy="140.7" r="0.59"/><circle cx="407.2" cy="161.3" r="0.49"/><circle cx="422.7" cy="159.2" r="0.87"/><circle cx="383.4" cy="123.0" r="0.65"/><circle cx="450.2" cy="115.2" r="0.82"/><circle cx="410.9" cy="142.9" r="0.86"/><circle cx="386.7" cy="127.2" r="0.48"/><circle cx="391.7" cy="125.4" r="0.75"/><circle cx="424.3" cy="112.3" r="0.80"/><circle cx="418.9" cy="113.8" r="0.81"/><circle cx="441.8" cy="119.1" r="0.87"/><circle cx="441.0" cy="120.0" r="0.40"/><circle cx="445.1" cy="163.0" r="0.45"/><circle cx="437.8" cy="159.2" r="0.72"/><circle cx="442.6" cy="174.4" r="0.56"/><circle cx="442.7" cy="169.8" r="0.56"/><circle cx="431.8" cy="152.8" r="0.82"/><circle cx="423.3" cy="123.3" r="0.53"/><circle cx="421.5" cy="113.2" r="0.83"/><circle cx="446.7" cy="120.9" r="0.75"/><circle cx="431.0" cy="112.3" r="0.79"/><circle cx="437.8" cy="125.6" r="0.45"/><circle cx="402.5" cy="159.1" r="0.63"/><circle cx="441.4" cy="115.0" r="0.45"/><circle cx="407.4" cy="166.9" r="0.48"/><circle cx="387.3" cy="157.7" r="0.45"/><circle cx="430.6" cy="109.5" r="0.52"/><circle cx="430.3" cy="166.4" r="0.60"/><circle cx="414.7" cy="105.7" r="0.57"/><circle cx="399.6" cy="160.3" r="0.76"/><circle cx="439.1" cy="141.8" r="0.75"/><circle cx="391.3" cy="131.2" r="0.55"/><circle cx="402.5" cy="156.7" r="0.51"/><circle cx="405.7" cy="123.8" r="0.83"/><circle cx="428.5" cy="138.1" r="0.59"/><circle cx="449.1" cy="171.1" r="0.62"/><circle cx="423.3" cy="165.6" r="0.53"/><circle cx="400.8" cy="110.9" r="0.65"/><circle cx="437.9" cy="114.8" r="0.62"/><circle cx="454.1" cy="138.1" r="0.59"/><circle cx="443.1" cy="167.7" r="0.59"/><circle cx="391.0" cy="149.3" r="0.77"/><circle cx="449.2" cy="151.0" r="0.55"/><circle cx="419.5" cy="124.2" r="0.62"/><circle cx="416.1" cy="169.2" r="0.85"/><circle cx="449.4" cy="137.9" r="0.88"/><circle cx="392.1" cy="169.8" r="0.72"/><circle cx="445.5" cy="133.3" r="0.90"/><circle cx="383.8" cy="164.5" r="0.81"/><circle cx="409.2" cy="163.2" r="0.51"/><circle cx="436.8" cy="137.2" r="0.61"/><circle cx="396.3" cy="161.1" r="0.77"/><circle cx="388.5" cy="173.9" r="0.51"/><circle cx="409.3" cy="133.4" r="0.69"/><circle cx="446.8" cy="171.6" r="0.72"/><circle cx="408.6" cy="111.2" r="0.43"/><circle cx="419.8" cy="145.5" r="0.62"/><circle cx="453.5" cy="133.3" r="0.58"/><circle cx="412.4" cy="115.9" r="0.87"/><circle cx="425.0" cy="142.6" r="0.61"/><circle cx="400.2" cy="126.2" r="0.65"/><circle cx="414.5" cy="174.0" r="0.68"/><circle cx="397.1" cy="107.4" r="0.48"/><circle cx="407.2" cy="159.8" r="0.84"/><circle cx="399.2" cy="159.7" r="0.62"/><circle cx="421.1" cy="141.9" r="0.42"/><circle cx="386.8" cy="151.6" r="0.74"/><circle cx="409.7" cy="169.7" r="0.81"/><circle cx="404.0" cy="108.3" r="0.68"/><circle cx="429.6" cy="119.7" r="0.42"/><circle cx="417.5" cy="106.0" r="0.77"/><circle cx="427.5" cy="123.6" r="0.62"/><circle cx="399.0" cy="116.9" r="0.49"/><circle cx="441.4" cy="136.1" r="0.76"/><circle cx="407.3" cy="161.6" r="0.70"/><circle cx="429.6" cy="131.8" r="0.68"/><circle cx="395.9" cy="173.6" r="0.74"/><circle cx="420.8" cy="149.5" r="0.45"/><circle cx="406.3" cy="120.1" r="0.82"/><circle cx="382.9" cy="135.5" r="0.83"/><circle cx="439.0" cy="155.3" r="0.55"/><circle cx="398.9" cy="154.2" r="0.55"/><circle cx="434.6" cy="128.7" r="0.78"/><circle cx="423.7" cy="162.2" r="0.89"/><circle cx="409.6" cy="174.5" r="0.40"/><circle cx="445.9" cy="105.6" r="0.67"/><circle cx="410.3" cy="158.9" r="0.56"/><circle cx="397.2" cy="160.0" r="0.68"/><circle cx="437.0" cy="138.7" r="0.42"/><circle cx="438.1" cy="119.2" r="0.64"/><circle cx="382.0" cy="122.1" r="0.73"/><circle cx="437.6" cy="149.3" r="0.62"/><circle cx="435.3" cy="151.7" r="0.50"/><circle cx="421.0" cy="146.5" r="0.76"/><circle cx="396.4" cy="125.9" r="0.57"/><circle cx="389.0" cy="128.6" r="0.76"/><circle cx="424.0" cy="116.0" r="0.77"/><circle cx="390.5" cy="157.6" r="0.47"/><circle cx="389.0" cy="121.6" r="0.66"/><circle cx="401.7" cy="167.2" r="0.87"/><circle cx="402.6" cy="157.5" r="0.75"/><circle cx="422.9" cy="121.9" r="0.87"/><circle cx="451.6" cy="104.4" r="0.57"/><circle cx="405.4" cy="117.8" r="0.62"/><circle cx="447.4" cy="105.2" r="0.82"/><circle cx="404.5" cy="104.5" r="0.85"/><circle cx="401.8" cy="118.8" r="0.46"/><circle cx="408.7" cy="112.1" r="0.49"/><circle cx="400.2" cy="145.1" r="0.62"/><circle cx="404.2" cy="141.4" r="0.79"/><circle cx="434.7" cy="128.2" r="0.86"/><circle cx="439.6" cy="143.9" r="0.64"/><circle cx="406.0" cy="113.2" r="0.84"/><circle cx="426.3" cy="110.6" r="0.86"/><circle cx="446.6" cy="105.9" r="0.75"/><circle cx="399.3" cy="142.1" r="0.82"/><circle cx="407.5" cy="139.4" r="0.73"/><circle cx="396.0" cy="148.6" r="0.61"/><circle cx="453.5" cy="117.0" r="0.76"/><circle cx="385.0" cy="123.2" r="0.46"/><circle cx="392.8" cy="141.5" r="0.49"/><circle cx="439.9" cy="110.4" r="0.71"/><circle cx="444.7" cy="112.6" r="0.51"/><circle cx="437.7" cy="137.4" r="0.87"/><circle cx="406.6" cy="132.2" r="0.88"/><circle cx="407.0" cy="173.1" r="0.85"/><circle cx="396.6" cy="142.8" r="0.87"/><circle cx="390.5" cy="164.6" r="0.79"/><circle cx="436.6" cy="146.8" r="0.45"/><circle cx="451.8" cy="110.9" r="0.79"/><circle cx="434.7" cy="126.4" r="0.74"/><circle cx="411.9" cy="157.6" r="0.42"/><circle cx="450.0" cy="131.2" r="0.80"/><circle cx="416.3" cy="162.0" r="0.55"/><circle cx="421.7" cy="105.3" r="0.64"/></g><g fill="#ecdcd4" opacity="0.85"><circle cx="387.8" cy="165.4" r="0.60"/><circle cx="412.9" cy="173.6" r="0.68"/><circle cx="451.6" cy="109.4" r="0.61"/><circle cx="435.0" cy="147.1" r="0.40"/><circle cx="449.3" cy="135.1" r="0.58"/><circle cx="441.3" cy="123.3" r="0.41"/><circle cx="449.2" cy="123.0" r="0.41"/><circle cx="392.0" cy="175.1" r="0.62"/><circle cx="397.3" cy="114.0" r="0.67"/><circle cx="430.4" cy="145.5" r="0.44"/><circle cx="412.1" cy="171.6" r="0.40"/><circle cx="412.5" cy="107.6" r="0.70"/><circle cx="389.6" cy="172.2" r="0.65"/><circle cx="435.3" cy="106.5" r="0.61"/><circle cx="417.9" cy="138.9" r="0.44"/><circle cx="419.3" cy="161.2" r="0.44"/><circle cx="445.8" cy="133.7" r="0.48"/><circle cx="399.4" cy="136.6" r="0.59"/><circle cx="423.5" cy="167.6" r="0.55"/><circle cx="419.3" cy="174.7" r="0.46"/><circle cx="383.2" cy="127.2" r="0.49"/><circle cx="391.0" cy="133.6" r="0.41"/><circle cx="449.0" cy="138.4" r="0.66"/><circle cx="432.8" cy="156.0" r="0.63"/><circle cx="404.0" cy="156.0" r="0.46"/><circle cx="422.4" cy="146.4" r="0.63"/><circle cx="394.2" cy="128.3" r="0.65"/><circle cx="440.6" cy="173.9" r="0.44"/><circle cx="397.3" cy="111.2" r="0.62"/><circle cx="436.3" cy="150.2" r="0.63"/><circle cx="419.6" cy="144.0" r="0.68"/><circle cx="429.2" cy="150.7" r="0.58"/><circle cx="418.0" cy="158.0" r="0.57"/><circle cx="391.4" cy="134.2" r="0.53"/><circle cx="413.5" cy="143.9" r="0.51"/><circle cx="410.5" cy="134.2" r="0.51"/><circle cx="452.8" cy="110.0" r="0.41"/><circle cx="434.5" cy="132.0" r="0.53"/><circle cx="425.1" cy="129.9" r="0.47"/><circle cx="383.1" cy="166.4" r="0.68"/><circle cx="402.8" cy="137.0" r="0.50"/><circle cx="386.2" cy="167.8" r="0.65"/><circle cx="399.5" cy="121.8" r="0.61"/><circle cx="440.0" cy="137.3" r="0.52"/><circle cx="399.0" cy="161.0" r="0.66"/><circle cx="444.5" cy="111.7" r="0.58"/><circle cx="453.7" cy="155.0" r="0.54"/><circle cx="392.6" cy="107.9" r="0.62"/><circle cx="387.0" cy="161.7" r="0.60"/><circle cx="416.5" cy="167.7" r="0.68"/></g><ellipse cx="386" cy="143" rx="2.2" ry="6" transform="rotate(-20 386 143)" fill="#e6dce6" opacity="0.6"/><ellipse cx="434" cy="127" rx="1.8" ry="4" transform="rotate(15 434 127)" fill="#e8e0ea" opacity="0.6"/><ellipse cx="440" cy="160" rx="3" ry="2" transform="rotate(30 440 160)" fill="#e8e0ea" opacity="0.6"/><ellipse cx="405" cy="118" rx="1.5" ry="2.5" transform="rotate(0 405 118)" fill="#d8c8d0" opacity="0.6"/><ellipse cx="420" cy="158" rx="2" ry="1.2" transform="rotate(0 420 158)" fill="#e8dce0" opacity="0.6"/><rect x="382" y="103.5" width="72.8" height="14" fill="url(#topdark)"/><rect x="382" y="145.5" width="72.8" height="30" fill="url(#botlight)"/></g></g>
<text x="300.30" y="97.30" font-size="9" text-anchor="middle" fill="#2c2c2c" font-weight="normal" >0</text>
<text x="378.00" y="97.30" font-size="9" text-anchor="middle" fill="#2c2c2c" font-weight="normal" >1</text>
<text x="456.00" y="97.30" font-size="9" text-anchor="middle" fill="#2c2c2c" font-weight="normal" >2</text>
<text x="340.20" y="187.20" font-size="9" text-anchor="middle" fill="#2c2c2c" font-weight="normal" >3</text>
<text x="418.00" y="187.20" font-size="9" text-anchor="middle" fill="#2c2c2c" font-weight="normal" >4</text>
<rect x="437.00" y="172.10" width="15.50" height="2.00" fill="#111"/>
<text x="0.6" y="221" font-size="12.4" font-weight="bold" fill="#000">C</text>
<text x="100.5" y="234.6" font-size="9" fill="#2c2c2c" text-anchor="middle">X<tspan font-size="6.6" dy="-3.4">2</tspan><tspan dy="3.4"> = 52.4</tspan></text>
<text x="100.5" y="245.6" font-size="9" fill="#2c2c2c" text-anchor="middle"><tspan font-style="italic">P</tspan> &lt; .001</text>
<line x1="51.00" y1="254.00" x2="51.00" y2="353.30" stroke="#2a2a2a" stroke-width="1.3"/>
<line x1="47.60" y1="353.30" x2="51.00" y2="353.30" stroke="#2a2a2a" stroke-width="1.0"/>
<text x="44.60" y="356.61" font-size="9.2" text-anchor="end" fill="#2c2c2c" font-weight="normal" >0</text>
<line x1="47.60" y1="328.53" x2="51.00" y2="328.53" stroke="#2a2a2a" stroke-width="1.0"/>
<text x="44.60" y="331.84" font-size="9.2" text-anchor="end" fill="#2c2c2c" font-weight="normal" >25</text>
<line x1="47.60" y1="303.75" x2="51.00" y2="303.75" stroke="#2a2a2a" stroke-width="1.0"/>
<text x="44.60" y="307.06" font-size="9.2" text-anchor="end" fill="#2c2c2c" font-weight="normal" >50</text>
<line x1="47.60" y1="278.98" x2="51.00" y2="278.98" stroke="#2a2a2a" stroke-width="1.0"/>
<text x="44.60" y="282.29" font-size="9.2" text-anchor="end" fill="#2c2c2c" font-weight="normal" >75</text>
<line x1="47.60" y1="254.20" x2="51.00" y2="254.20" stroke="#2a2a2a" stroke-width="1.0"/>
<text x="44.60" y="257.51" font-size="9.2" text-anchor="end" fill="#2c2c2c" font-weight="normal" >100</text>
<line x1="48.30" y1="353.30" x2="150.00" y2="353.30" stroke="#2a2a2a" stroke-width="1.3"/>
<line x1="70.50" y1="353.30" x2="70.50" y2="356.30" stroke="#2a2a2a" stroke-width="1.0"/>
<line x1="100.40" y1="353.30" x2="100.40" y2="356.30" stroke="#2a2a2a" stroke-width="1.0"/>
<line x1="130.40" y1="353.30" x2="130.40" y2="356.30" stroke="#2a2a2a" stroke-width="1.0"/>
<text transform="translate(24.40,303.70) rotate(-90)" x="0" y="0" font-size="12" text-anchor="middle" fill="#2c2c2c" textLength="38" lengthAdjust="spacingAndGlyphs">% of cases</text>
<rect x="61.30" y="254.20" width="18.50" height="99.10" fill="#5c1e69"/>
<rect x="61.30" y="311.38" width="18.50" height="41.92" fill="#1b4f8c"/>
<rect x="91.20" y="254.20" width="18.40" height="99.10" fill="#f7951c"/>
<rect x="91.20" y="271.25" width="18.40" height="82.05" fill="#3bab38"/>
<rect x="91.20" y="288.09" width="18.40" height="65.21" fill="#5c1e69"/>
<rect x="91.20" y="331.80" width="18.40" height="21.50" fill="#1b4f8c"/>
<rect x="121.10" y="254.20" width="18.70" height="99.10" fill="#c8102e"/>
<rect x="121.10" y="281.55" width="18.70" height="71.75" fill="#f7951c"/>
<rect x="121.10" y="323.17" width="18.70" height="30.13" fill="#3bab38"/>
<rect x="121.10" y="341.90" width="18.70" height="11.40" fill="#5c1e69"/>
<rect x="121.10" y="350.03" width="18.70" height="3.27" fill="#1b4f8c"/>
<text transform="translate(73.30,367.30) rotate(-45)" x="0" y="0" font-size="9.6" text-anchor="end" fill="#2c2c2c">oligo</text>
<text transform="translate(103.60,367.00) rotate(-45)" x="0" y="0" font-size="9.6" text-anchor="end" fill="#2c2c2c">astro</text>
<text transform="translate(135.00,367.50) rotate(-45)" x="0" y="0" font-size="9.6" text-anchor="end" fill="#2c2c2c">GBM</text>
<text x="165.70" y="264.10" font-size="8.8" text-anchor="middle" fill="#2c2c2c" font-weight="normal" >TF</text>
<text x="165.70" y="274.10" font-size="8.8" text-anchor="middle" fill="#2c2c2c" font-weight="normal" textLength="35.9" lengthAdjust="spacingAndGlyphs" >IHC score</text>
<rect x="161.00" y="280.60" width="9.20" height="4.80" fill="#1b4f8c"/>
<text x="174.00" y="286.20" font-size="9" text-anchor="start" fill="#2c2c2c" font-weight="normal" >0</text>
<rect x="161.00" y="295.60" width="9.20" height="4.80" fill="#5c1e69"/>
<text x="174.00" y="301.20" font-size="9" text-anchor="start" fill="#2c2c2c" font-weight="normal" >1</text>
<rect x="161.00" y="310.60" width="9.20" height="4.80" fill="#3bab38"/>
<text x="174.00" y="316.20" font-size="9" text-anchor="start" fill="#2c2c2c" font-weight="normal" >2</text>
<rect x="161.00" y="325.60" width="9.20" height="4.80" fill="#f7951c"/>
<text x="174.00" y="331.20" font-size="9" text-anchor="start" fill="#2c2c2c" font-weight="normal" >3</text>
<rect x="161.00" y="340.60" width="9.20" height="4.80" fill="#c8102e"/>
<text x="174.00" y="346.20" font-size="9" text-anchor="start" fill="#2c2c2c" font-weight="normal" >4</text>
<text x="240.8" y="221" font-size="12.4" font-weight="bold" fill="#000">D</text>
<text x="344.3" y="224.0" font-size="9" fill="#2c2c2c" textLength="65.8" lengthAdjust="spacingAndGlyphs">logrank <tspan font-style="italic">P</tspan> &lt; .001</text>
<line x1="318.50" y1="230.00" x2="318.50" y2="311.50" stroke="#2a2a2a" stroke-width="1.3"/>
<line x1="314.30" y1="311.50" x2="318.50" y2="311.50" stroke="#2a2a2a" stroke-width="1.0"/>
<text x="312.30" y="314.09" font-size="9.6" text-anchor="end" fill="#2c2c2c" font-weight="normal" >0</text>
<line x1="314.30" y1="300.30" x2="318.50" y2="300.30" stroke="#2a2a2a" stroke-width="1.0"/>
<text x="312.30" y="302.89" font-size="9.6" text-anchor="end" fill="#2c2c2c" font-weight="normal" >10</text>
<line x1="314.30" y1="289.10" x2="318.50" y2="289.10" stroke="#2a2a2a" stroke-width="1.0"/>
<text x="312.30" y="291.69" font-size="9.6" text-anchor="end" fill="#2c2c2c" font-weight="normal" >20</text>
<line x1="314.30" y1="277.90" x2="318.50" y2="277.90" stroke="#2a2a2a" stroke-width="1.0"/>
<text x="312.30" y="280.49" font-size="9.6" text-anchor="end" fill="#2c2c2c" font-weight="normal" >30</text>
<line x1="314.30" y1="266.70" x2="318.50" y2="266.70" stroke="#2a2a2a" stroke-width="1.0"/>
<text x="312.30" y="269.29" font-size="9.6" text-anchor="end" fill="#2c2c2c" font-weight="normal" >40</text>
<line x1="314.30" y1="255.50" x2="318.50" y2="255.50" stroke="#2a2a2a" stroke-width="1.0"/>
<text x="312.30" y="258.09" font-size="9.6" text-anchor="end" fill="#2c2c2c" font-weight="normal" >50</text>
<line x1="314.30" y1="244.30" x2="318.50" y2="244.30" stroke="#2a2a2a" stroke-width="1.0"/>
<text x="312.30" y="246.89" font-size="9.6" text-anchor="end" fill="#2c2c2c" font-weight="normal" >60</text>
<line x1="314.30" y1="233.10" x2="318.50" y2="233.10" stroke="#2a2a2a" stroke-width="1.0"/>
<text x="312.30" y="235.69" font-size="9.6" text-anchor="end" fill="#2c2c2c" font-weight="normal" >70</text>
<line x1="318.50" y1="311.50" x2="437.50" y2="311.50" stroke="#2a2a2a" stroke-width="1.3"/>
<line x1="318.50" y1="311.50" x2="318.50" y2="314.50" stroke="#2a2a2a" stroke-width="1.0"/>
<text x="318.50" y="325.70" font-size="9.6" text-anchor="middle" fill="#2c2c2c" font-weight="normal" >0</text>
<line x1="333.29" y1="311.50" x2="333.29" y2="314.50" stroke="#2a2a2a" stroke-width="1.0"/>
<text x="333.29" y="325.70" font-size="9.6" text-anchor="middle" fill="#2c2c2c" font-weight="normal" >6</text>
<line x1="348.08" y1="311.50" x2="348.08" y2="314.50" stroke="#2a2a2a" stroke-width="1.0"/>
<text x="348.08" y="325.70" font-size="9.6" text-anchor="middle" fill="#2c2c2c" font-weight="normal" >12</text>
<line x1="362.87" y1="311.50" x2="362.87" y2="314.50" stroke="#2a2a2a" stroke-width="1.0"/>
<text x="362.87" y="325.70" font-size="9.6" text-anchor="middle" fill="#2c2c2c" font-weight="normal" >18</text>
<line x1="377.66" y1="311.50" x2="377.66" y2="314.50" stroke="#2a2a2a" stroke-width="1.0"/>
<text x="377.66" y="325.70" font-size="9.6" text-anchor="middle" fill="#2c2c2c" font-weight="normal" >24</text>
<line x1="392.45" y1="311.50" x2="392.45" y2="314.50" stroke="#2a2a2a" stroke-width="1.0"/>
<text x="392.45" y="325.70" font-size="9.6" text-anchor="middle" fill="#2c2c2c" font-weight="normal" >30</text>
<line x1="407.24" y1="311.50" x2="407.24" y2="314.50" stroke="#2a2a2a" stroke-width="1.0"/>
<text x="407.24" y="325.70" font-size="9.6" text-anchor="middle" fill="#2c2c2c" font-weight="normal" >36</text>
<line x1="422.03" y1="311.50" x2="422.03" y2="314.50" stroke="#2a2a2a" stroke-width="1.0"/>
<text x="422.03" y="325.70" font-size="9.6" text-anchor="middle" fill="#2c2c2c" font-weight="normal" >42</text>
<line x1="436.82" y1="311.50" x2="436.82" y2="314.50" stroke="#2a2a2a" stroke-width="1.0"/>
<text x="436.82" y="325.70" font-size="9.6" text-anchor="middle" fill="#2c2c2c" font-weight="normal" >48</text>
<text transform="translate(284.00,271.00) rotate(-90)" x="0" y="0" font-size="10" text-anchor="middle" fill="#2c2c2c" textLength="80" lengthAdjust="spacingAndGlyphs">Cumulative incidence</text>
<text transform="translate(296.30,270.50) rotate(-90)" x="0" y="0" font-size="10" text-anchor="middle" fill="#2c2c2c" textLength="36" lengthAdjust="spacingAndGlyphs">of VTE (%)</text>
<text x="377.30" y="340.60" font-size="10.5" text-anchor="middle" fill="#2c2c2c" font-weight="normal" textLength="29" lengthAdjust="spacingAndGlyphs" >Months</text>
<path d="M318.50,311.50 H395.65 V301.20 H436.82" fill="none" stroke="#1f4e8c" stroke-width="1.5" stroke-linejoin="miter"/>
<path d="M318.50,311.50 H338.47 V306.46 H340.93 V301.20 H395.65" fill="none" stroke="#4f2a80" stroke-width="1.5" stroke-linejoin="miter"/>
<path d="M318.50,311.50 H319.49 V300.86 H325.89 V294.70 H327.37 V289.10 H339.95 V285.18 H341.92 V280.59 H344.14 V277.12 H345.86 V273.64 H348.33 V268.49 H357.69 V264.46 H359.42 V259.98 H436.82" fill="none" stroke="#f5a623" stroke-width="1.5" stroke-linejoin="miter"/>
<path d="M318.50,311.50 H318.87 V290.44 H326.88 V283.50 H329.84 V276.33 H340.19 V268.27 H356.95 V259.76 H399.85 V244.41 H436.82" fill="none" stroke="#3aaa35" stroke-width="1.5" stroke-linejoin="miter"/>
<path d="M318.50,311.50 H318.75 V287.53 H322.44 V275.77 H334.52 V270.17 H337.23 V262.44 H384.81 V249.90 H388.51 V237.13 H436.82" fill="none" stroke="#b8102e" stroke-width="1.5" stroke-linejoin="miter"/>
<line x1="323.43" y1="309.90" x2="323.43" y2="312.50" stroke="#1f4e8c" stroke-width="1.0"/>
<line x1="328.36" y1="309.90" x2="328.36" y2="312.50" stroke="#1f4e8c" stroke-width="1.0"/>
<line x1="399.85" y1="299.60" x2="399.85" y2="302.20" stroke="#1f4e8c" stroke-width="1.0"/>
<line x1="417.10" y1="299.60" x2="417.10" y2="302.20" stroke="#1f4e8c" stroke-width="1.0"/>
<line x1="426.96" y1="299.60" x2="426.96" y2="302.20" stroke="#1f4e8c" stroke-width="1.0"/>
<line x1="431.89" y1="299.60" x2="431.89" y2="302.20" stroke="#1f4e8c" stroke-width="1.0"/>
<line x1="434.36" y1="299.60" x2="434.36" y2="302.20" stroke="#1f4e8c" stroke-width="1.0"/>
<line x1="362.87" y1="299.60" x2="362.87" y2="302.20" stroke="#4f2a80" stroke-width="1.0"/>
<line x1="372.73" y1="299.60" x2="372.73" y2="302.20" stroke="#4f2a80" stroke-width="1.0"/>
<line x1="382.59" y1="299.60" x2="382.59" y2="302.20" stroke="#4f2a80" stroke-width="1.0"/>
<line x1="367.80" y1="258.38" x2="367.80" y2="260.98" stroke="#f5a623" stroke-width="1.0"/>
<line x1="377.66" y1="258.38" x2="377.66" y2="260.98" stroke="#f5a623" stroke-width="1.0"/>
<line x1="392.45" y1="258.38" x2="392.45" y2="260.98" stroke="#f5a623" stroke-width="1.0"/>
<line x1="407.24" y1="258.38" x2="407.24" y2="260.98" stroke="#f5a623" stroke-width="1.0"/>
<line x1="417.10" y1="258.38" x2="417.10" y2="260.98" stroke="#f5a623" stroke-width="1.0"/>
<line x1="426.96" y1="258.38" x2="426.96" y2="260.98" stroke="#f5a623" stroke-width="1.0"/>
<line x1="367.80" y1="258.16" x2="367.80" y2="260.76" stroke="#3aaa35" stroke-width="1.0"/>
<line x1="407.24" y1="242.81" x2="407.24" y2="245.41" stroke="#3aaa35" stroke-width="1.0"/>
<line x1="426.96" y1="242.81" x2="426.96" y2="245.41" stroke="#3aaa35" stroke-width="1.0"/>
<text x="474.50" y="238.40" font-size="8.8" text-anchor="middle" fill="#2c2c2c" font-weight="normal" >TF</text>
<text x="474.50" y="248.80" font-size="8.8" text-anchor="middle" fill="#2c2c2c" font-weight="normal" textLength="35.3" lengthAdjust="spacingAndGlyphs" >IHC score</text>
<line x1="465.40" y1="258.10" x2="474.00" y2="258.10" stroke="#1f4e8c" stroke-width="1.3"/>
<line x1="469.70" y1="256.70" x2="469.70" y2="259.10" stroke="#1f4e8c" stroke-width="1.0"/>
<text x="478.90" y="261.30" font-size="9" text-anchor="start" fill="#2c2c2c" font-weight="normal" >0</text>
<line x1="465.40" y1="269.95" x2="474.00" y2="269.95" stroke="#4f2a80" stroke-width="1.3"/>
<line x1="469.70" y1="268.55" x2="469.70" y2="270.95" stroke="#4f2a80" stroke-width="1.0"/>
<text x="478.90" y="273.15" font-size="9" text-anchor="start" fill="#2c2c2c" font-weight="normal" >1</text>
<line x1="465.40" y1="281.80" x2="474.00" y2="281.80" stroke="#3aaa35" stroke-width="1.3"/>
<line x1="469.70" y1="280.40" x2="469.70" y2="282.80" stroke="#3aaa35" stroke-width="1.0"/>
<text x="478.90" y="285.00" font-size="9" text-anchor="start" fill="#2c2c2c" font-weight="normal" >2</text>
<line x1="465.40" y1="293.65" x2="474.00" y2="293.65" stroke="#f5a623" stroke-width="1.3"/>
<line x1="469.70" y1="292.25" x2="469.70" y2="294.65" stroke="#f5a623" stroke-width="1.0"/>
<text x="478.90" y="296.85" font-size="9" text-anchor="start" fill="#2c2c2c" font-weight="normal" >3</text>
<line x1="465.40" y1="305.50" x2="474.00" y2="305.50" stroke="#b8102e" stroke-width="1.3"/>
<line x1="469.70" y1="304.10" x2="469.70" y2="306.50" stroke="#b8102e" stroke-width="1.0"/>
<text x="478.90" y="308.70" font-size="9" text-anchor="start" fill="#2c2c2c" font-weight="normal" >4</text>
<text x="273.90" y="378.20" font-size="8.8" text-anchor="middle" fill="#2c2c2c" font-weight="normal" >TF</text>
<text x="274.00" y="389.40" font-size="8.8" text-anchor="middle" fill="#2c2c2c" font-weight="normal" textLength="38.7" lengthAdjust="spacingAndGlyphs" >IHC score</text>
<text x="304.00" y="357.70" font-size="9.4" text-anchor="middle" fill="#2c2c2c" font-weight="normal" textLength="4.75" lengthAdjust="spacingAndGlyphs" >0</text>
<text x="318.50" y="357.70" font-size="9.4" text-anchor="middle" fill="#2c2c2c" font-weight="normal" textLength="9.5" lengthAdjust="spacingAndGlyphs" >13</text>
<text x="333.29" y="357.70" font-size="9.4" text-anchor="middle" fill="#2c2c2c" font-weight="normal" textLength="9.5" lengthAdjust="spacingAndGlyphs" >12</text>
<text x="348.08" y="357.70" font-size="9.4" text-anchor="middle" fill="#2c2c2c" font-weight="normal" textLength="9.5" lengthAdjust="spacingAndGlyphs" >12</text>
<text x="362.87" y="357.70" font-size="9.4" text-anchor="middle" fill="#2c2c2c" font-weight="normal" textLength="9.5" lengthAdjust="spacingAndGlyphs" >12</text>
<text x="377.66" y="357.70" font-size="9.4" text-anchor="middle" fill="#2c2c2c" font-weight="normal" textLength="9.5" lengthAdjust="spacingAndGlyphs" >12</text>
<text x="392.45" y="357.70" font-size="9.4" text-anchor="middle" fill="#2c2c2c" font-weight="normal" textLength="9.5" lengthAdjust="spacingAndGlyphs" >12</text>
<text x="407.24" y="357.70" font-size="9.4" text-anchor="middle" fill="#2c2c2c" font-weight="normal" textLength="9.5" lengthAdjust="spacingAndGlyphs" >11</text>
<text x="422.03" y="357.70" font-size="9.4" text-anchor="middle" fill="#2c2c2c" font-weight="normal" textLength="9.5" lengthAdjust="spacingAndGlyphs" >11</text>
<text x="436.82" y="357.70" font-size="9.4" text-anchor="middle" fill="#2c2c2c" font-weight="normal" textLength="4.75" lengthAdjust="spacingAndGlyphs" >9</text>
<text x="304.00" y="370.78" font-size="9.4" text-anchor="middle" fill="#2c2c2c" font-weight="normal" textLength="4.75" lengthAdjust="spacingAndGlyphs" >1</text>
<text x="318.50" y="370.78" font-size="9.4" text-anchor="middle" fill="#2c2c2c" font-weight="normal" textLength="9.5" lengthAdjust="spacingAndGlyphs" >22</text>
<text x="333.29" y="370.78" font-size="9.4" text-anchor="middle" fill="#2c2c2c" font-weight="normal" textLength="9.5" lengthAdjust="spacingAndGlyphs" >22</text>
<text x="348.08" y="370.78" font-size="9.4" text-anchor="middle" fill="#2c2c2c" font-weight="normal" textLength="9.5" lengthAdjust="spacingAndGlyphs" >21</text>
<text x="362.87" y="370.78" font-size="9.4" text-anchor="middle" fill="#2c2c2c" font-weight="normal" textLength="9.5" lengthAdjust="spacingAndGlyphs" >21</text>
<text x="377.66" y="370.78" font-size="9.4" text-anchor="middle" fill="#2c2c2c" font-weight="normal" textLength="9.5" lengthAdjust="spacingAndGlyphs" >19</text>
<text x="392.45" y="370.78" font-size="9.4" text-anchor="middle" fill="#2c2c2c" font-weight="normal" textLength="9.5" lengthAdjust="spacingAndGlyphs" >17</text>
<text x="407.24" y="370.78" font-size="9.4" text-anchor="middle" fill="#2c2c2c" font-weight="normal" textLength="9.5" lengthAdjust="spacingAndGlyphs" >16</text>
<text x="422.03" y="370.78" font-size="9.4" text-anchor="middle" fill="#2c2c2c" font-weight="normal" textLength="9.5" lengthAdjust="spacingAndGlyphs" >16</text>
<text x="436.82" y="370.78" font-size="9.4" text-anchor="middle" fill="#2c2c2c" font-weight="normal" textLength="9.5" lengthAdjust="spacingAndGlyphs" >14</text>
<text x="304.00" y="383.86" font-size="9.4" text-anchor="middle" fill="#2c2c2c" font-weight="normal" textLength="4.75" lengthAdjust="spacingAndGlyphs" >2</text>
<text x="318.50" y="383.86" font-size="9.4" text-anchor="middle" fill="#2c2c2c" font-weight="normal" textLength="9.5" lengthAdjust="spacingAndGlyphs" >16</text>
<text x="333.29" y="383.86" font-size="9.4" text-anchor="middle" fill="#2c2c2c" font-weight="normal" textLength="9.5" lengthAdjust="spacingAndGlyphs" >11</text>
<text x="348.08" y="383.86" font-size="9.4" text-anchor="middle" fill="#2c2c2c" font-weight="normal" textLength="4.75" lengthAdjust="spacingAndGlyphs" >9</text>
<text x="362.87" y="383.86" font-size="9.4" text-anchor="middle" fill="#2c2c2c" font-weight="normal" textLength="4.75" lengthAdjust="spacingAndGlyphs" >6</text>
<text x="377.66" y="383.86" font-size="9.4" text-anchor="middle" fill="#2c2c2c" font-weight="normal" textLength="4.75" lengthAdjust="spacingAndGlyphs" >6</text>
<text x="392.45" y="383.86" font-size="9.4" text-anchor="middle" fill="#2c2c2c" font-weight="normal" textLength="4.75" lengthAdjust="spacingAndGlyphs" >5</text>
<text x="407.24" y="383.86" font-size="9.4" text-anchor="middle" fill="#2c2c2c" font-weight="normal" textLength="4.75" lengthAdjust="spacingAndGlyphs" >3</text>
<text x="422.03" y="383.86" font-size="9.4" text-anchor="middle" fill="#2c2c2c" font-weight="normal" textLength="4.75" lengthAdjust="spacingAndGlyphs" >3</text>
<text x="436.82" y="383.86" font-size="9.4" text-anchor="middle" fill="#2c2c2c" font-weight="normal" textLength="4.75" lengthAdjust="spacingAndGlyphs" >3</text>
<text x="304.00" y="396.94" font-size="9.4" text-anchor="middle" fill="#2c2c2c" font-weight="normal" textLength="4.75" lengthAdjust="spacingAndGlyphs" >3</text>
<text x="318.50" y="396.94" font-size="9.4" text-anchor="middle" fill="#2c2c2c" font-weight="normal" textLength="9.5" lengthAdjust="spacingAndGlyphs" >32</text>
<text x="333.29" y="396.94" font-size="9.4" text-anchor="middle" fill="#2c2c2c" font-weight="normal" textLength="9.5" lengthAdjust="spacingAndGlyphs" >22</text>
<text x="348.08" y="396.94" font-size="9.4" text-anchor="middle" fill="#2c2c2c" font-weight="normal" textLength="9.5" lengthAdjust="spacingAndGlyphs" >13</text>
<text x="362.87" y="396.94" font-size="9.4" text-anchor="middle" fill="#2c2c2c" font-weight="normal" textLength="4.75" lengthAdjust="spacingAndGlyphs" >8</text>
<text x="377.66" y="396.94" font-size="9.4" text-anchor="middle" fill="#2c2c2c" font-weight="normal" textLength="4.75" lengthAdjust="spacingAndGlyphs" >5</text>
<text x="392.45" y="396.94" font-size="9.4" text-anchor="middle" fill="#2c2c2c" font-weight="normal" textLength="4.75" lengthAdjust="spacingAndGlyphs" >5</text>
<text x="407.24" y="396.94" font-size="9.4" text-anchor="middle" fill="#2c2c2c" font-weight="normal" textLength="4.75" lengthAdjust="spacingAndGlyphs" >4</text>
<text x="422.03" y="396.94" font-size="9.4" text-anchor="middle" fill="#2c2c2c" font-weight="normal" textLength="4.75" lengthAdjust="spacingAndGlyphs" >3</text>
<text x="436.82" y="396.94" font-size="9.4" text-anchor="middle" fill="#2c2c2c" font-weight="normal" textLength="4.75" lengthAdjust="spacingAndGlyphs" >2</text>
<text x="304.00" y="410.02" font-size="9.4" text-anchor="middle" fill="#2c2c2c" font-weight="normal" textLength="4.75" lengthAdjust="spacingAndGlyphs" >4</text>
<text x="318.50" y="410.02" font-size="9.4" text-anchor="middle" fill="#2c2c2c" font-weight="normal" textLength="9.5" lengthAdjust="spacingAndGlyphs" >19</text>
<text x="333.29" y="410.02" font-size="9.4" text-anchor="middle" fill="#2c2c2c" font-weight="normal" textLength="9.5" lengthAdjust="spacingAndGlyphs" >13</text>
<text x="348.08" y="410.02" font-size="9.4" text-anchor="middle" fill="#2c2c2c" font-weight="normal" textLength="9.5" lengthAdjust="spacingAndGlyphs" >10</text>
<text x="362.87" y="410.02" font-size="9.4" text-anchor="middle" fill="#2c2c2c" font-weight="normal" textLength="9.5" lengthAdjust="spacingAndGlyphs" >10</text>
<text x="377.66" y="410.02" font-size="9.4" text-anchor="middle" fill="#2c2c2c" font-weight="normal" textLength="4.75" lengthAdjust="spacingAndGlyphs" >6</text>
<text x="392.45" y="410.02" font-size="9.4" text-anchor="middle" fill="#2c2c2c" font-weight="normal" textLength="4.75" lengthAdjust="spacingAndGlyphs" >4</text>
<text x="407.24" y="410.02" font-size="9.4" text-anchor="middle" fill="#2c2c2c" font-weight="normal" textLength="4.75" lengthAdjust="spacingAndGlyphs" >3</text>
<text x="422.03" y="410.02" font-size="9.4" text-anchor="middle" fill="#2c2c2c" font-weight="normal" textLength="4.75" lengthAdjust="spacingAndGlyphs" >3</text>
<text x="436.82" y="410.02" font-size="9.4" text-anchor="middle" fill="#2c2c2c" font-weight="normal" textLength="4.75" lengthAdjust="spacingAndGlyphs" >3</text>
<text x="1.0" y="438" font-size="12.4" font-weight="bold" fill="#000">E</text>
<text x="99.5" y="443.3" font-size="9" fill="#2c2c2c" text-anchor="middle">X<tspan font-size="6.6" dy="-3.4">2</tspan><tspan dy="3.4"> = 11.7</tspan></text>
<text x="99.5" y="452.9" font-size="9" fill="#2c2c2c" text-anchor="middle"><tspan font-style="italic">P</tspan> = .07</text>
<line x1="50.00" y1="461.50" x2="50.00" y2="562.00" stroke="#2a2a2a" stroke-width="1.3"/>
<line x1="46.60" y1="562.00" x2="50.00" y2="562.00" stroke="#2a2a2a" stroke-width="1.0"/>
<text x="44.40" y="565.31" font-size="9.2" text-anchor="end" fill="#2c2c2c" font-weight="normal" >0</text>
<line x1="46.60" y1="537.67" x2="50.00" y2="537.67" stroke="#2a2a2a" stroke-width="1.0"/>
<text x="44.40" y="540.99" font-size="9.2" text-anchor="end" fill="#2c2c2c" font-weight="normal" >25</text>
<line x1="46.60" y1="513.35" x2="50.00" y2="513.35" stroke="#2a2a2a" stroke-width="1.0"/>
<text x="44.40" y="516.66" font-size="9.2" text-anchor="end" fill="#2c2c2c" font-weight="normal" >50</text>
<line x1="46.60" y1="489.02" x2="50.00" y2="489.02" stroke="#2a2a2a" stroke-width="1.0"/>
<text x="44.40" y="492.34" font-size="9.2" text-anchor="end" fill="#2c2c2c" font-weight="normal" >75</text>
<line x1="46.60" y1="464.70" x2="50.00" y2="464.70" stroke="#2a2a2a" stroke-width="1.0"/>
<text x="44.40" y="468.01" font-size="9.2" text-anchor="end" fill="#2c2c2c" font-weight="normal" >100</text>
<line x1="48.30" y1="562.00" x2="148.70" y2="562.00" stroke="#2a2a2a" stroke-width="1.3"/>
<line x1="70.30" y1="562.00" x2="70.30" y2="565.00" stroke="#2a2a2a" stroke-width="1.0"/>
<line x1="100.00" y1="562.00" x2="100.00" y2="565.00" stroke="#2a2a2a" stroke-width="1.0"/>
<line x1="129.90" y1="562.00" x2="129.90" y2="565.00" stroke="#2a2a2a" stroke-width="1.0"/>
<text transform="translate(23.30,513.20) rotate(-90)" x="0" y="0" font-size="12" text-anchor="middle" fill="#2c2c2c" textLength="37.5" lengthAdjust="spacingAndGlyphs">% of cases</text>
<rect x="61.10" y="464.70" width="17.60" height="97.30" fill="#3bab38"/>
<rect x="61.10" y="497.10" width="17.60" height="64.90" fill="#5c1e69"/>
<rect x="61.10" y="513.35" width="17.60" height="48.65" fill="#1b4f8c"/>
<rect x="90.90" y="464.70" width="18.10" height="97.30" fill="#3bab38"/>
<rect x="90.90" y="472.78" width="18.10" height="89.22" fill="#5c1e69"/>
<rect x="90.90" y="511.40" width="18.10" height="50.60" fill="#1b4f8c"/>
<rect x="120.60" y="464.70" width="18.40" height="97.30" fill="#c8102e"/>
<rect x="120.60" y="472.48" width="18.40" height="89.52" fill="#3bab38"/>
<rect x="120.60" y="486.11" width="18.40" height="75.89" fill="#5c1e69"/>
<rect x="120.60" y="526.00" width="18.40" height="36.00" fill="#1b4f8c"/>
<text transform="translate(73.10,576.00) rotate(-45)" x="0" y="0" font-size="9.6" text-anchor="end" fill="#2c2c2c">oligo</text>
<text transform="translate(102.80,575.50) rotate(-45)" x="0" y="0" font-size="9.6" text-anchor="end" fill="#2c2c2c">astro</text>
<text transform="translate(133.30,576.00) rotate(-45)" x="0" y="0" font-size="9.6" text-anchor="end" fill="#2c2c2c">GBM</text>
<text x="181.80" y="481.40" font-size="8.8" text-anchor="middle" fill="#2c2c2c" font-weight="normal" textLength="52.9" lengthAdjust="spacingAndGlyphs" >TF-MV activity</text>
<text x="181.90" y="491.20" font-size="8.8" text-anchor="middle" fill="#2c2c2c" font-weight="normal" textLength="28.8" lengthAdjust="spacingAndGlyphs" >(pg/mL)</text>
<rect x="153.50" y="497.40" width="9.60" height="4.80" fill="#1b4f8c"/>
<text x="166.50" y="503.00" font-size="9" text-anchor="start" fill="#2c2c2c" font-weight="normal" textLength="49" lengthAdjust="spacingAndGlyphs" >undetectable</text>
<rect x="153.50" y="512.40" width="9.60" height="4.80" fill="#5c1e69"/>
<text x="166.50" y="518.00" font-size="9" text-anchor="start" fill="#2c2c2c" font-weight="normal" textLength="36.5" lengthAdjust="spacingAndGlyphs" >0.01- 9.99</text>
<rect x="153.50" y="527.00" width="9.60" height="4.80" fill="#3bab38"/>
<text x="166.50" y="532.60" font-size="9" text-anchor="start" fill="#2c2c2c" font-weight="normal" textLength="36.5" lengthAdjust="spacingAndGlyphs" >1.01- 1.99</text>
<rect x="153.50" y="542.20" width="9.60" height="4.80" fill="#c8102e"/>
<text x="166.50" y="547.80" font-size="9" text-anchor="start" fill="#2c2c2c" font-weight="normal" textLength="16.5" lengthAdjust="spacingAndGlyphs" >&#8805;2.0</text>
<text x="241.6" y="437.6" font-size="12.4" font-weight="bold" fill="#000">F</text>
<text x="344.5" y="446.1" font-size="9" fill="#2c2c2c">logrank <tspan font-style="italic">P</tspan> = .009</text>
<line x1="318.40" y1="448.50" x2="318.40" y2="535.70" stroke="#2a2a2a" stroke-width="1.3"/>
<line x1="314.20" y1="535.70" x2="318.40" y2="535.70" stroke="#2a2a2a" stroke-width="1.0"/>
<text x="311.80" y="538.29" font-size="9.6" text-anchor="end" fill="#2c2c2c" font-weight="normal" >0</text>
<line x1="314.20" y1="523.60" x2="318.40" y2="523.60" stroke="#2a2a2a" stroke-width="1.0"/>
<text x="311.80" y="526.19" font-size="9.6" text-anchor="end" fill="#2c2c2c" font-weight="normal" >10</text>
<line x1="314.20" y1="511.50" x2="318.40" y2="511.50" stroke="#2a2a2a" stroke-width="1.0"/>
<text x="311.80" y="514.09" font-size="9.6" text-anchor="end" fill="#2c2c2c" font-weight="normal" >20</text>
<line x1="314.20" y1="499.40" x2="318.40" y2="499.40" stroke="#2a2a2a" stroke-width="1.0"/>
<text x="311.80" y="501.99" font-size="9.6" text-anchor="end" fill="#2c2c2c" font-weight="normal" >30</text>
<line x1="314.20" y1="487.30" x2="318.40" y2="487.30" stroke="#2a2a2a" stroke-width="1.0"/>
<text x="311.80" y="489.89" font-size="9.6" text-anchor="end" fill="#2c2c2c" font-weight="normal" >40</text>
<line x1="314.20" y1="475.20" x2="318.40" y2="475.20" stroke="#2a2a2a" stroke-width="1.0"/>
<text x="311.80" y="477.79" font-size="9.6" text-anchor="end" fill="#2c2c2c" font-weight="normal" >50</text>
<line x1="314.20" y1="463.10" x2="318.40" y2="463.10" stroke="#2a2a2a" stroke-width="1.0"/>
<text x="311.80" y="465.69" font-size="9.6" text-anchor="end" fill="#2c2c2c" font-weight="normal" >60</text>
<line x1="314.20" y1="451.00" x2="318.40" y2="451.00" stroke="#2a2a2a" stroke-width="1.0"/>
<text x="311.80" y="453.59" font-size="9.6" text-anchor="end" fill="#2c2c2c" font-weight="normal" >70</text>
<line x1="318.40" y1="535.70" x2="447.50" y2="535.70" stroke="#2a2a2a" stroke-width="1.3"/>
<line x1="318.40" y1="535.70" x2="318.40" y2="538.70" stroke="#2a2a2a" stroke-width="1.0"/>
<text x="318.40" y="550.30" font-size="9.6" text-anchor="middle" fill="#2c2c2c" font-weight="normal" >0</text>
<line x1="334.40" y1="535.70" x2="334.40" y2="538.70" stroke="#2a2a2a" stroke-width="1.0"/>
<text x="334.40" y="550.30" font-size="9.6" text-anchor="middle" fill="#2c2c2c" font-weight="normal" >6</text>
<line x1="350.40" y1="535.70" x2="350.40" y2="538.70" stroke="#2a2a2a" stroke-width="1.0"/>
<text x="350.40" y="550.30" font-size="9.6" text-anchor="middle" fill="#2c2c2c" font-weight="normal" >12</text>
<line x1="366.41" y1="535.70" x2="366.41" y2="538.70" stroke="#2a2a2a" stroke-width="1.0"/>
<text x="366.41" y="550.30" font-size="9.6" text-anchor="middle" fill="#2c2c2c" font-weight="normal" >18</text>
<line x1="382.41" y1="535.70" x2="382.41" y2="538.70" stroke="#2a2a2a" stroke-width="1.0"/>
<text x="382.41" y="550.30" font-size="9.6" text-anchor="middle" fill="#2c2c2c" font-weight="normal" >24</text>
<line x1="398.41" y1="535.70" x2="398.41" y2="538.70" stroke="#2a2a2a" stroke-width="1.0"/>
<text x="398.41" y="550.30" font-size="9.6" text-anchor="middle" fill="#2c2c2c" font-weight="normal" >30</text>
<line x1="414.41" y1="535.70" x2="414.41" y2="538.70" stroke="#2a2a2a" stroke-width="1.0"/>
<text x="414.41" y="550.30" font-size="9.6" text-anchor="middle" fill="#2c2c2c" font-weight="normal" >36</text>
<line x1="430.41" y1="535.70" x2="430.41" y2="538.70" stroke="#2a2a2a" stroke-width="1.0"/>
<text x="430.41" y="550.30" font-size="9.6" text-anchor="middle" fill="#2c2c2c" font-weight="normal" >42</text>
<line x1="446.42" y1="535.70" x2="446.42" y2="538.70" stroke="#2a2a2a" stroke-width="1.0"/>
<text x="446.42" y="550.30" font-size="9.6" text-anchor="middle" fill="#2c2c2c" font-weight="normal" >48</text>
<text transform="translate(282.80,493.50) rotate(-90)" x="0" y="0" font-size="10" text-anchor="middle" fill="#2c2c2c" textLength="80" lengthAdjust="spacingAndGlyphs">Cumulative incidence</text>
<text transform="translate(295.20,493.00) rotate(-90)" x="0" y="0" font-size="10" text-anchor="middle" fill="#2c2c2c" textLength="37" lengthAdjust="spacingAndGlyphs">of VTE (%)</text>
<text x="381.60" y="565.50" font-size="10.5" text-anchor="middle" fill="#2c2c2c" font-weight="normal" textLength="29" lengthAdjust="spacingAndGlyphs" >Months</text>
<path d="M318.40,535.70 H319.20 V530.25 H336.00 V523.24 H339.74 V516.70 H351.47 V510.29 H366.94 V500.61 H446.42" fill="none" stroke="#3aaa35" stroke-width="1.5" stroke-linejoin="miter"/>
<path d="M318.40,535.70 H318.93 V525.78 H321.60 V521.91 H325.60 V518.03 H330.67 V515.37 H339.74 V510.29 H342.40 V503.76 H346.40 V501.22 H363.21 V494.68 H394.41 V492.14 H398.14 V487.66 H400.81 V484.28 H446.42" fill="none" stroke="#4f2a80" stroke-width="1.5" stroke-linejoin="miter"/>
<path d="M318.40,535.70 H318.93 V525.78 H321.60 V521.91 H325.60 V519.37 H329.33 V516.95 H341.07 V511.74 H354.14 V508.84 H390.41 V506.30 H406.14 V501.09 H446.42" fill="none" stroke="#1f4e8c" stroke-width="1.5" stroke-linejoin="miter"/>
<path d="M318.40,535.70 H318.93 V523.60 H319.73 V518.52 H320.80 V500.01 H322.67 V483.43 H336.67 V460.44 H344.00" fill="none" stroke="#b8102e" stroke-width="1.6" stroke-linejoin="miter"/>
<line x1="361.07" y1="507.24" x2="361.07" y2="509.84" stroke="#1f4e8c" stroke-width="1.0"/>
<line x1="371.74" y1="507.24" x2="371.74" y2="509.84" stroke="#1f4e8c" stroke-width="1.0"/>
<line x1="382.41" y1="507.24" x2="382.41" y2="509.84" stroke="#1f4e8c" stroke-width="1.0"/>
<line x1="414.41" y1="499.49" x2="414.41" y2="502.09" stroke="#1f4e8c" stroke-width="1.0"/>
<line x1="425.08" y1="499.49" x2="425.08" y2="502.09" stroke="#1f4e8c" stroke-width="1.0"/>
<line x1="435.75" y1="499.49" x2="435.75" y2="502.09" stroke="#1f4e8c" stroke-width="1.0"/>
<line x1="443.75" y1="499.49" x2="443.75" y2="502.09" stroke="#1f4e8c" stroke-width="1.0"/>
<line x1="350.40" y1="499.62" x2="350.40" y2="502.22" stroke="#4f2a80" stroke-width="1.0"/>
<line x1="355.74" y1="499.62" x2="355.74" y2="502.22" stroke="#4f2a80" stroke-width="1.0"/>
<line x1="371.74" y1="493.08" x2="371.74" y2="495.68" stroke="#4f2a80" stroke-width="1.0"/>
<line x1="382.41" y1="493.08" x2="382.41" y2="495.68" stroke="#4f2a80" stroke-width="1.0"/>
<line x1="409.08" y1="482.68" x2="409.08" y2="485.28" stroke="#4f2a80" stroke-width="1.0"/>
<line x1="419.75" y1="482.68" x2="419.75" y2="485.28" stroke="#4f2a80" stroke-width="1.0"/>
<line x1="435.75" y1="482.68" x2="435.75" y2="485.28" stroke="#4f2a80" stroke-width="1.0"/>
<line x1="443.75" y1="482.68" x2="443.75" y2="485.28" stroke="#4f2a80" stroke-width="1.0"/>
<line x1="326.40" y1="481.83" x2="326.40" y2="484.43" stroke="#b8102e" stroke-width="1.0"/>
<line x1="331.73" y1="481.83" x2="331.73" y2="484.43" stroke="#b8102e" stroke-width="1.0"/>
<line x1="339.74" y1="458.84" x2="339.74" y2="461.44" stroke="#b8102e" stroke-width="1.0"/>
<line x1="342.40" y1="458.84" x2="342.40" y2="461.44" stroke="#b8102e" stroke-width="1.0"/>
<line x1="456.90" y1="484.20" x2="464.90" y2="484.20" stroke="#1f4e8c" stroke-width="1.3"/>
<line x1="460.90" y1="482.80" x2="460.90" y2="485.20" stroke="#1f4e8c" stroke-width="1.0"/>
<text x="470.50" y="487.40" font-size="9" text-anchor="start" fill="#2c2c2c" font-weight="normal" >undetectable</text>
<line x1="456.90" y1="497.03" x2="464.90" y2="497.03" stroke="#4f2a80" stroke-width="1.3"/>
<line x1="460.90" y1="495.63" x2="460.90" y2="498.03" stroke="#4f2a80" stroke-width="1.0"/>
<text x="470.50" y="500.23" font-size="9" text-anchor="start" fill="#2c2c2c" font-weight="normal" >0.01-1.0</text>
<line x1="456.90" y1="509.86" x2="464.90" y2="509.86" stroke="#3aaa35" stroke-width="1.3"/>
<line x1="460.90" y1="508.46" x2="460.90" y2="510.86" stroke="#3aaa35" stroke-width="1.0"/>
<text x="470.50" y="513.06" font-size="9" text-anchor="start" fill="#2c2c2c" font-weight="normal" >1.01-1.99</text>
<line x1="456.90" y1="522.69" x2="464.90" y2="522.69" stroke="#b8102e" stroke-width="1.3"/>
<line x1="460.90" y1="521.29" x2="460.90" y2="523.69" stroke="#b8102e" stroke-width="1.0"/>
<text x="470.50" y="525.89" font-size="9" text-anchor="start" fill="#2c2c2c" font-weight="normal" >&#8805;2.0</text>
<text x="484.60" y="464.00" font-size="8.8" text-anchor="middle" fill="#2c2c2c" font-weight="normal" textLength="52.2" lengthAdjust="spacingAndGlyphs" >TF-MV activity</text>
<text x="484.60" y="473.60" font-size="8.8" text-anchor="middle" fill="#2c2c2c" font-weight="normal" textLength="29.7" lengthAdjust="spacingAndGlyphs" >(pg/mL)</text>
<text x="272.70" y="585.00" font-size="9" text-anchor="middle" fill="#2c2c2c" font-weight="normal" textLength="52" lengthAdjust="spacingAndGlyphs" >undetectable</text>
<text x="272.70" y="596.00" font-size="9" text-anchor="middle" fill="#2c2c2c" font-weight="normal" textLength="61.6" lengthAdjust="spacingAndGlyphs" >0.01-1.0 pg/mL</text>
<text x="272.70" y="606.50" font-size="9" text-anchor="middle" fill="#2c2c2c" font-weight="normal" textLength="65.4" lengthAdjust="spacingAndGlyphs" >1.01-1.99 pg/mL</text>
<text x="272.70" y="616.70" font-size="9" text-anchor="middle" fill="#2c2c2c" font-weight="normal" textLength="45.2" lengthAdjust="spacingAndGlyphs" >&#8805;2.0 pg/mL</text>
<text x="318.40" y="581.60" font-size="9.4" text-anchor="middle" fill="#2c2c2c" font-weight="normal" textLength="9.5" lengthAdjust="spacingAndGlyphs" >57</text>
<text x="334.40" y="581.60" font-size="9.4" text-anchor="middle" fill="#2c2c2c" font-weight="normal" textLength="9.5" lengthAdjust="spacingAndGlyphs" >47</text>
<text x="350.40" y="581.60" font-size="9.4" text-anchor="middle" fill="#2c2c2c" font-weight="normal" textLength="9.5" lengthAdjust="spacingAndGlyphs" >40</text>
<text x="366.41" y="581.60" font-size="9.4" text-anchor="middle" fill="#2c2c2c" font-weight="normal" textLength="9.5" lengthAdjust="spacingAndGlyphs" >37</text>
<text x="382.41" y="581.60" font-size="9.4" text-anchor="middle" fill="#2c2c2c" font-weight="normal" textLength="9.5" lengthAdjust="spacingAndGlyphs" >30</text>
<text x="398.41" y="581.60" font-size="9.4" text-anchor="middle" fill="#2c2c2c" font-weight="normal" textLength="9.5" lengthAdjust="spacingAndGlyphs" >26</text>
<text x="414.41" y="581.60" font-size="9.4" text-anchor="middle" fill="#2c2c2c" font-weight="normal" textLength="9.5" lengthAdjust="spacingAndGlyphs" >24</text>
<text x="430.41" y="581.60" font-size="9.4" text-anchor="middle" fill="#2c2c2c" font-weight="normal" textLength="9.5" lengthAdjust="spacingAndGlyphs" >23</text>
<text x="446.42" y="581.60" font-size="9.4" text-anchor="middle" fill="#2c2c2c" font-weight="normal" textLength="9.5" lengthAdjust="spacingAndGlyphs" >16</text>
<text x="318.40" y="594.40" font-size="9.4" text-anchor="middle" fill="#2c2c2c" font-weight="normal" textLength="9.5" lengthAdjust="spacingAndGlyphs" >51</text>
<text x="334.40" y="594.40" font-size="9.4" text-anchor="middle" fill="#2c2c2c" font-weight="normal" textLength="9.5" lengthAdjust="spacingAndGlyphs" >39</text>
<text x="350.40" y="594.40" font-size="9.4" text-anchor="middle" fill="#2c2c2c" font-weight="normal" textLength="9.5" lengthAdjust="spacingAndGlyphs" >29</text>
<text x="366.41" y="594.40" font-size="9.4" text-anchor="middle" fill="#2c2c2c" font-weight="normal" textLength="9.5" lengthAdjust="spacingAndGlyphs" >26</text>
<text x="382.41" y="594.40" font-size="9.4" text-anchor="middle" fill="#2c2c2c" font-weight="normal" textLength="9.5" lengthAdjust="spacingAndGlyphs" >24</text>
<text x="398.41" y="594.40" font-size="9.4" text-anchor="middle" fill="#2c2c2c" font-weight="normal" textLength="9.5" lengthAdjust="spacingAndGlyphs" >22</text>
<text x="414.41" y="594.40" font-size="9.4" text-anchor="middle" fill="#2c2c2c" font-weight="normal" textLength="9.5" lengthAdjust="spacingAndGlyphs" >17</text>
<text x="430.41" y="594.40" font-size="9.4" text-anchor="middle" fill="#2c2c2c" font-weight="normal" textLength="9.5" lengthAdjust="spacingAndGlyphs" >17</text>
<text x="446.42" y="594.40" font-size="9.4" text-anchor="middle" fill="#2c2c2c" font-weight="normal" textLength="9.5" lengthAdjust="spacingAndGlyphs" >14</text>
<text x="318.40" y="607.30" font-size="9.4" text-anchor="middle" fill="#2c2c2c" font-weight="normal" textLength="9.5" lengthAdjust="spacingAndGlyphs" >21</text>
<text x="334.40" y="607.30" font-size="9.4" text-anchor="middle" fill="#2c2c2c" font-weight="normal" textLength="9.5" lengthAdjust="spacingAndGlyphs" >19</text>
<text x="350.40" y="607.30" font-size="9.4" text-anchor="middle" fill="#2c2c2c" font-weight="normal" textLength="9.5" lengthAdjust="spacingAndGlyphs" >16</text>
<text x="366.41" y="607.30" font-size="9.4" text-anchor="middle" fill="#2c2c2c" font-weight="normal" textLength="9.5" lengthAdjust="spacingAndGlyphs" >12</text>
<text x="382.41" y="607.30" font-size="9.4" text-anchor="middle" fill="#2c2c2c" font-weight="normal" textLength="9.5" lengthAdjust="spacingAndGlyphs" >10</text>
<text x="398.41" y="607.30" font-size="9.4" text-anchor="middle" fill="#2c2c2c" font-weight="normal" textLength="9.5" lengthAdjust="spacingAndGlyphs" >10</text>
<text x="414.41" y="607.30" font-size="9.4" text-anchor="middle" fill="#2c2c2c" font-weight="normal" textLength="4.75" lengthAdjust="spacingAndGlyphs" >9</text>
<text x="430.41" y="607.30" font-size="9.4" text-anchor="middle" fill="#2c2c2c" font-weight="normal" textLength="4.75" lengthAdjust="spacingAndGlyphs" >8</text>
<text x="446.42" y="607.30" font-size="9.4" text-anchor="middle" fill="#2c2c2c" font-weight="normal" textLength="4.75" lengthAdjust="spacingAndGlyphs" >8</text>
<text x="318.40" y="620.20" font-size="9.4" text-anchor="middle" fill="#2c2c2c" font-weight="normal" textLength="4.75" lengthAdjust="spacingAndGlyphs" >7</text>
<text x="334.40" y="620.20" font-size="9.4" text-anchor="middle" fill="#2c2c2c" font-weight="normal" textLength="4.75" lengthAdjust="spacingAndGlyphs" >4</text>
<text x="350.40" y="620.20" font-size="9.4" text-anchor="middle" fill="#2c2c2c" font-weight="normal" textLength="4.75" lengthAdjust="spacingAndGlyphs" >1</text>
<text x="366.41" y="620.20" font-size="9.4" text-anchor="middle" fill="#2c2c2c" font-weight="normal" textLength="4.75" lengthAdjust="spacingAndGlyphs" >1</text>
<text x="382.41" y="620.20" font-size="9.4" text-anchor="middle" fill="#2c2c2c" font-weight="normal" textLength="4.75" lengthAdjust="spacingAndGlyphs" >1</text>
<text x="398.41" y="620.20" font-size="9.4" text-anchor="middle" fill="#2c2c2c" font-weight="normal" textLength="4.75" lengthAdjust="spacingAndGlyphs" >1</text>
<text x="414.41" y="620.20" font-size="9.4" text-anchor="middle" fill="#2c2c2c" font-weight="normal" textLength="4.75" lengthAdjust="spacingAndGlyphs" >1</text>
<text x="430.41" y="620.20" font-size="9.4" text-anchor="middle" fill="#2c2c2c" font-weight="normal" textLength="4.75" lengthAdjust="spacingAndGlyphs" >1</text>
<text x="446.42" y="620.20" font-size="9.4" text-anchor="middle" fill="#2c2c2c" font-weight="normal" textLength="4.75" lengthAdjust="spacingAndGlyphs" >1</text>
</svg>
</body></html>
